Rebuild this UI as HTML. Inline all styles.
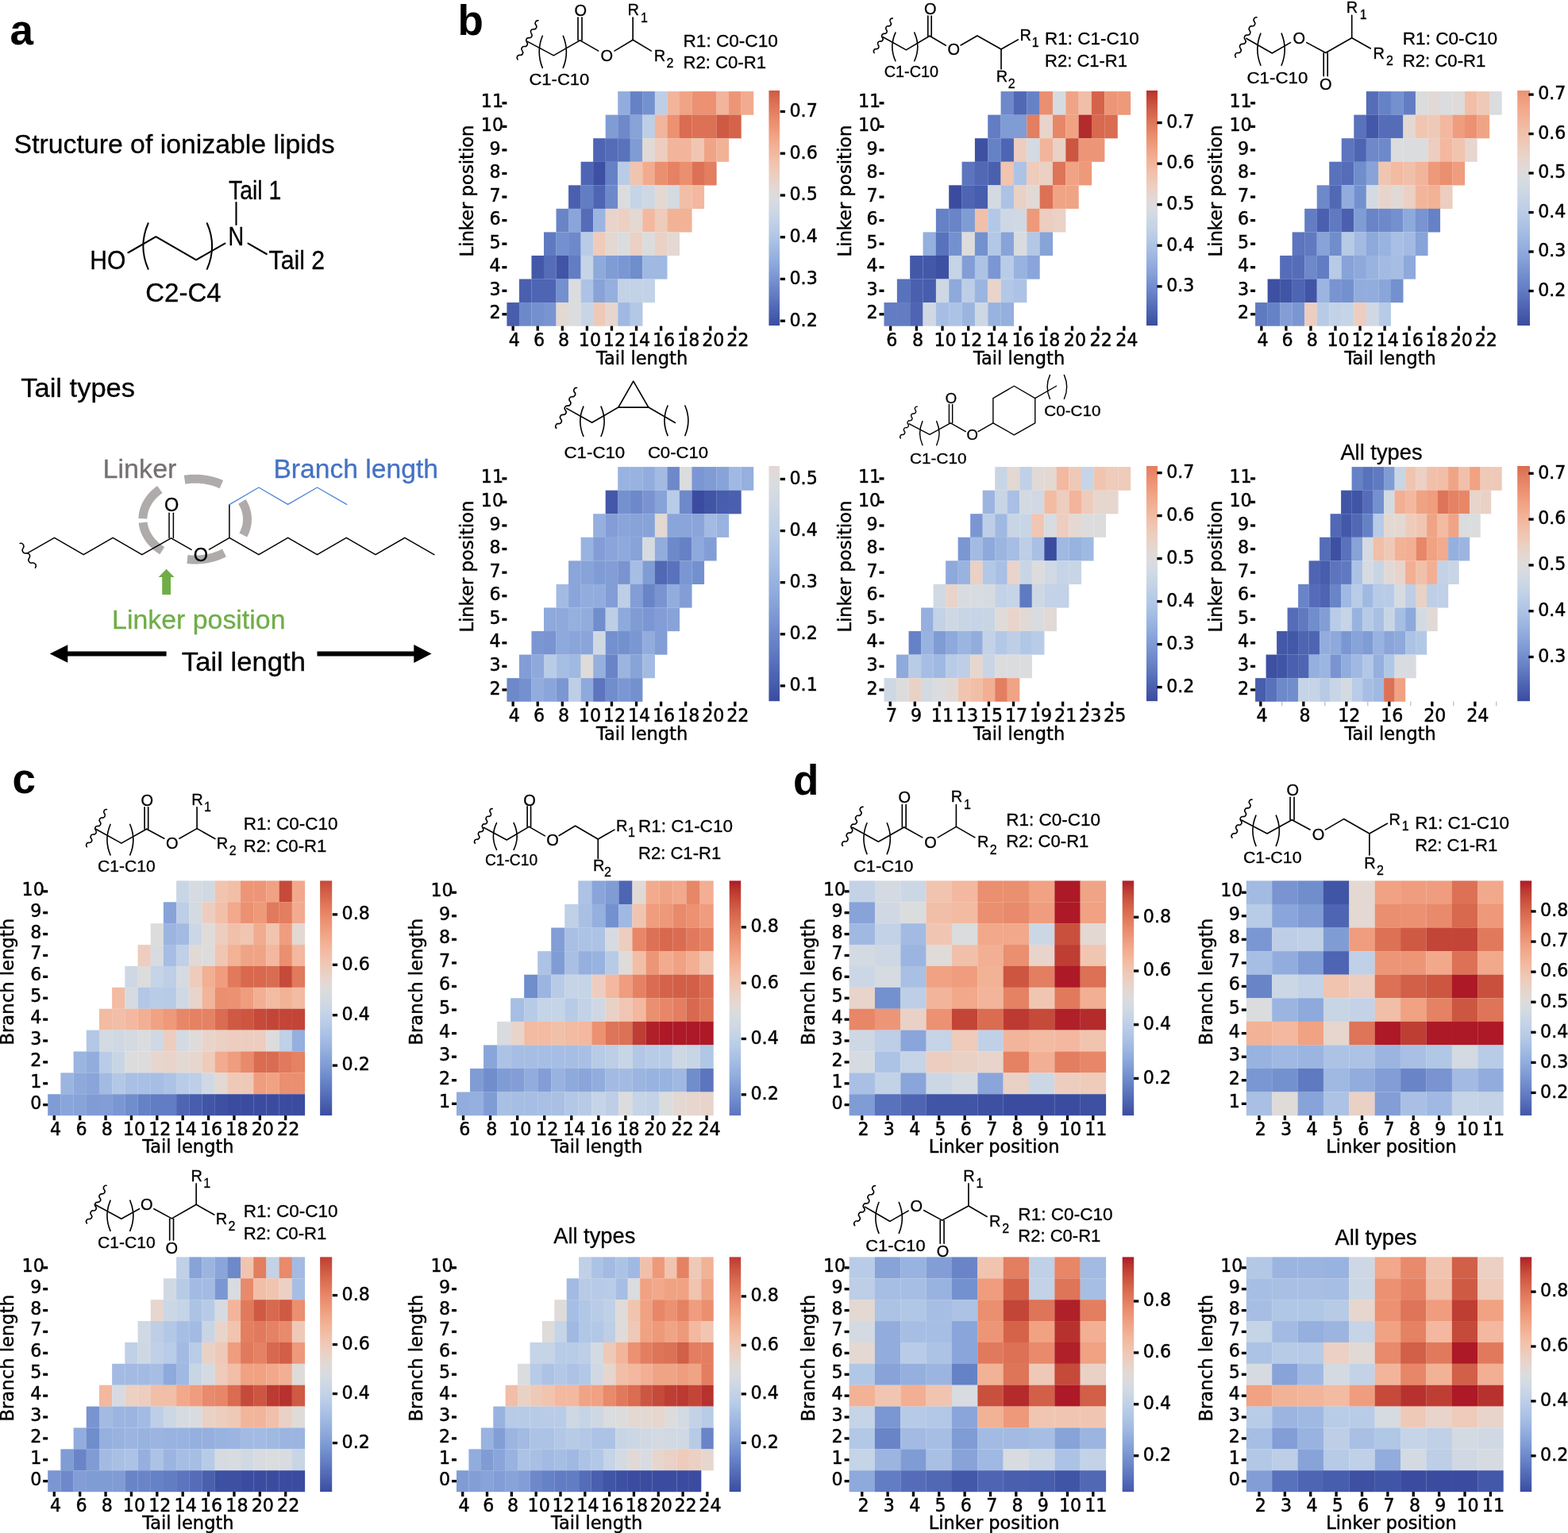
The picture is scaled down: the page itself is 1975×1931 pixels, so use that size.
<!DOCTYPE html>
<html lang="en"><head><meta charset="utf-8"><title>Ionizable lipid tail structure heatmaps</title>
<style>
html,body{margin:0;padding:0;background:#fff;}
body{width:1975px;height:1931px;overflow:hidden;}
svg{display:block;}
text{white-space:pre;}
.dj{stroke:#000;stroke-width:0.45px;}
.ls{stroke-width:0.3px;}
.st{fill:none;stroke:#000;stroke-width:1.5;stroke-linecap:round;stroke-linejoin:round;}
</style></head><body>
<svg width="1975" height="1931" viewBox="0 0 1975 1931">
<rect width="1975" height="1931" fill="#fff"/>
<g class="hm" id="b1">
<rect x="778.22" y="115.1" width="15.66" height="29.67" fill="#92addd"/>
<rect x="793.75" y="115.1" width="15.66" height="29.67" fill="#6682c6"/>
<rect x="809.28" y="115.1" width="15.66" height="29.67" fill="#7491cf"/>
<rect x="824.82" y="115.1" width="15.66" height="29.67" fill="#bdcee6"/>
<rect x="840.36" y="115.1" width="15.66" height="29.67" fill="#f2b59b"/>
<rect x="855.89" y="115.1" width="15.66" height="29.67" fill="#f0a486"/>
<rect x="871.42" y="115.1" width="15.66" height="29.67" fill="#ec9172"/>
<rect x="886.96" y="115.1" width="15.66" height="29.67" fill="#ec9172"/>
<rect x="902.5" y="115.1" width="15.66" height="29.67" fill="#f2b59b"/>
<rect x="918.03" y="115.1" width="15.66" height="29.67" fill="#ed9677"/>
<rect x="933.57" y="115.1" width="15.66" height="29.67" fill="#f2ab8e"/>
<rect x="762.68" y="144.65" width="15.66" height="29.67" fill="#809cd5"/>
<rect x="778.22" y="144.65" width="15.66" height="29.67" fill="#6e89ca"/>
<rect x="793.75" y="144.65" width="15.66" height="29.67" fill="#87a3d8"/>
<rect x="809.28" y="144.65" width="15.66" height="29.67" fill="#bdcee6"/>
<rect x="824.82" y="144.65" width="15.66" height="29.67" fill="#f2b59b"/>
<rect x="840.36" y="144.65" width="15.66" height="29.67" fill="#ec9172"/>
<rect x="855.89" y="144.65" width="15.66" height="29.67" fill="#da6c51"/>
<rect x="871.42" y="144.65" width="15.66" height="29.67" fill="#dc7155"/>
<rect x="886.96" y="144.65" width="15.66" height="29.67" fill="#dc7155"/>
<rect x="902.5" y="144.65" width="15.66" height="29.67" fill="#cf5a44"/>
<rect x="918.03" y="144.65" width="15.66" height="29.67" fill="#d5634a"/>
<rect x="747.14" y="174.2" width="15.66" height="29.67" fill="#4e65b3"/>
<rect x="762.68" y="174.2" width="15.66" height="29.67" fill="#556db9"/>
<rect x="778.22" y="174.2" width="15.66" height="29.67" fill="#5872bc"/>
<rect x="793.75" y="174.2" width="15.66" height="29.67" fill="#809cd5"/>
<rect x="809.28" y="174.2" width="15.66" height="29.67" fill="#e1d9d5"/>
<rect x="824.82" y="174.2" width="15.66" height="29.67" fill="#edcdbf"/>
<rect x="840.36" y="174.2" width="15.66" height="29.67" fill="#f2b59b"/>
<rect x="855.89" y="174.2" width="15.66" height="29.67" fill="#f2b59b"/>
<rect x="871.42" y="174.2" width="15.66" height="29.67" fill="#f0c6b2"/>
<rect x="886.96" y="174.2" width="15.66" height="29.67" fill="#f0a486"/>
<rect x="902.5" y="174.2" width="15.66" height="29.67" fill="#f2b296"/>
<rect x="731.61" y="203.75" width="15.66" height="29.67" fill="#4e65b3"/>
<rect x="747.14" y="203.75" width="15.66" height="29.67" fill="#3d50a2"/>
<rect x="762.68" y="203.75" width="15.66" height="29.67" fill="#6682c6"/>
<rect x="778.22" y="203.75" width="15.66" height="29.67" fill="#b9cce7"/>
<rect x="793.75" y="203.75" width="15.66" height="29.67" fill="#f1c4af"/>
<rect x="809.28" y="203.75" width="15.66" height="29.67" fill="#f2ab8e"/>
<rect x="824.82" y="203.75" width="15.66" height="29.67" fill="#ea8f6f"/>
<rect x="840.36" y="203.75" width="15.66" height="29.67" fill="#e58263"/>
<rect x="855.89" y="203.75" width="15.66" height="29.67" fill="#ea8f6f"/>
<rect x="871.42" y="203.75" width="15.66" height="29.67" fill="#dc7155"/>
<rect x="886.96" y="203.75" width="15.66" height="29.67" fill="#e37e60"/>
<rect x="716.08" y="233.3" width="15.66" height="29.67" fill="#4a60af"/>
<rect x="731.61" y="233.3" width="15.66" height="29.67" fill="#627dc3"/>
<rect x="747.14" y="233.3" width="15.66" height="29.67" fill="#4e65b3"/>
<rect x="762.68" y="233.3" width="15.66" height="29.67" fill="#6e89ca"/>
<rect x="778.22" y="233.3" width="15.66" height="29.67" fill="#dadcde"/>
<rect x="793.75" y="233.3" width="15.66" height="29.67" fill="#c5d4e6"/>
<rect x="809.28" y="233.3" width="15.66" height="29.67" fill="#ced8e4"/>
<rect x="824.82" y="233.3" width="15.66" height="29.67" fill="#e3d8d2"/>
<rect x="840.36" y="233.3" width="15.66" height="29.67" fill="#d3dae2"/>
<rect x="855.89" y="233.3" width="15.66" height="29.67" fill="#f1bea7"/>
<rect x="871.42" y="233.3" width="15.66" height="29.67" fill="#f3b89f"/>
<rect x="700.54" y="262.85" width="15.66" height="29.67" fill="#6985c8"/>
<rect x="716.08" y="262.85" width="15.66" height="29.67" fill="#8aa5da"/>
<rect x="731.61" y="262.85" width="15.66" height="29.67" fill="#556db9"/>
<rect x="747.14" y="262.85" width="15.66" height="29.67" fill="#9cb5e0"/>
<rect x="762.68" y="262.85" width="15.66" height="29.67" fill="#e8d4cb"/>
<rect x="778.22" y="262.85" width="15.66" height="29.67" fill="#ebd0c3"/>
<rect x="793.75" y="262.85" width="15.66" height="29.67" fill="#e3d8d2"/>
<rect x="809.28" y="262.85" width="15.66" height="29.67" fill="#f3b89f"/>
<rect x="824.82" y="262.85" width="15.66" height="29.67" fill="#eecbba"/>
<rect x="840.36" y="262.85" width="15.66" height="29.67" fill="#f2b296"/>
<rect x="855.89" y="262.85" width="15.66" height="29.67" fill="#f2b296"/>
<rect x="685" y="292.4" width="15.66" height="29.67" fill="#607ac1"/>
<rect x="700.54" y="292.4" width="15.66" height="29.67" fill="#7491cf"/>
<rect x="716.08" y="292.4" width="15.66" height="29.67" fill="#6e89ca"/>
<rect x="731.61" y="292.4" width="15.66" height="29.67" fill="#b9cce7"/>
<rect x="747.14" y="292.4" width="15.66" height="29.67" fill="#eecbba"/>
<rect x="762.68" y="292.4" width="15.66" height="29.67" fill="#e3d8d2"/>
<rect x="778.22" y="292.4" width="15.66" height="29.67" fill="#dadcde"/>
<rect x="793.75" y="292.4" width="15.66" height="29.67" fill="#ebd0c3"/>
<rect x="809.28" y="292.4" width="15.66" height="29.67" fill="#dadcde"/>
<rect x="824.82" y="292.4" width="15.66" height="29.67" fill="#e9d1c6"/>
<rect x="840.36" y="292.4" width="15.66" height="29.67" fill="#e3d8d2"/>
<rect x="669.47" y="321.95" width="15.66" height="29.67" fill="#4458a9"/>
<rect x="685" y="321.95" width="15.66" height="29.67" fill="#556db9"/>
<rect x="700.54" y="321.95" width="15.66" height="29.67" fill="#4155a6"/>
<rect x="716.08" y="321.95" width="15.66" height="29.67" fill="#627dc3"/>
<rect x="731.61" y="321.95" width="15.66" height="29.67" fill="#c5d4e6"/>
<rect x="747.14" y="321.95" width="15.66" height="29.67" fill="#8ea9db"/>
<rect x="762.68" y="321.95" width="15.66" height="29.67" fill="#809cd5"/>
<rect x="778.22" y="321.95" width="15.66" height="29.67" fill="#7b97d3"/>
<rect x="793.75" y="321.95" width="15.66" height="29.67" fill="#708dcc"/>
<rect x="809.28" y="321.95" width="15.66" height="29.67" fill="#a0b9e2"/>
<rect x="824.82" y="321.95" width="15.66" height="29.67" fill="#a0b9e2"/>
<rect x="653.93" y="351.5" width="15.66" height="29.67" fill="#4a60af"/>
<rect x="669.47" y="351.5" width="15.66" height="29.67" fill="#4e65b3"/>
<rect x="685" y="351.5" width="15.66" height="29.67" fill="#4e65b3"/>
<rect x="700.54" y="351.5" width="15.66" height="29.67" fill="#7491cf"/>
<rect x="716.08" y="351.5" width="15.66" height="29.67" fill="#dadcde"/>
<rect x="731.61" y="351.5" width="15.66" height="29.67" fill="#adc3e5"/>
<rect x="747.14" y="351.5" width="15.66" height="29.67" fill="#87a3d8"/>
<rect x="762.68" y="351.5" width="15.66" height="29.67" fill="#95afde"/>
<rect x="778.22" y="351.5" width="15.66" height="29.67" fill="#c3d2e6"/>
<rect x="793.75" y="351.5" width="15.66" height="29.67" fill="#c3d2e6"/>
<rect x="809.28" y="351.5" width="15.66" height="29.67" fill="#c3d2e6"/>
<rect x="638.4" y="381.05" width="15.66" height="29.67" fill="#475dad"/>
<rect x="653.93" y="381.05" width="15.66" height="29.67" fill="#6e89ca"/>
<rect x="669.47" y="381.05" width="15.66" height="29.67" fill="#7491cf"/>
<rect x="685" y="381.05" width="15.66" height="29.67" fill="#7994d1"/>
<rect x="700.54" y="381.05" width="15.66" height="29.67" fill="#e3d8d2"/>
<rect x="716.08" y="381.05" width="15.66" height="29.67" fill="#dadcde"/>
<rect x="731.61" y="381.05" width="15.66" height="29.67" fill="#c8d5e5"/>
<rect x="747.14" y="381.05" width="15.66" height="29.67" fill="#efc9b7"/>
<rect x="762.68" y="381.05" width="15.66" height="29.67" fill="#e6d6ce"/>
<rect x="778.22" y="381.05" width="15.66" height="29.67" fill="#a0b9e2"/>
<rect x="793.75" y="381.05" width="15.66" height="29.67" fill="#b3c8e6"/>
<linearGradient id="g_b1" x1="0" y1="0" x2="0" y2="1"><stop offset="0%" stop-color="#cf5a44"/><stop offset="4.17%" stop-color="#d96c51"/><stop offset="8.33%" stop-color="#e27c5e"/><stop offset="12.5%" stop-color="#e98c6c"/><stop offset="16.67%" stop-color="#ee997a"/><stop offset="20.83%" stop-color="#f1a88a"/><stop offset="25%" stop-color="#f2b499"/><stop offset="29.17%" stop-color="#f1bfa8"/><stop offset="33.33%" stop-color="#efc9b7"/><stop offset="37.5%" stop-color="#e9d1c5"/><stop offset="41.67%" stop-color="#e2d9d4"/><stop offset="45.83%" stop-color="#d9dcdf"/><stop offset="50%" stop-color="#d0d9e3"/><stop offset="54.17%" stop-color="#c6d4e6"/><stop offset="58.33%" stop-color="#bbcde7"/><stop offset="62.5%" stop-color="#b0c6e6"/><stop offset="66.67%" stop-color="#a3bbe2"/><stop offset="70.83%" stop-color="#96b0de"/><stop offset="75%" stop-color="#88a4d9"/><stop offset="79.17%" stop-color="#7b97d2"/><stop offset="83.33%" stop-color="#6e89ca"/><stop offset="87.5%" stop-color="#607bc2"/><stop offset="91.67%" stop-color="#536ab7"/><stop offset="95.83%" stop-color="#465cac"/><stop offset="100%" stop-color="#3b4ca0"/></linearGradient>
<rect x="968.4" y="114" width="13.6" height="296.1" fill="url(#g_b1)"/>
<rect x="982.7" y="138.85" width="6.3" height="3.3" fill="#000"/>
<text x="994.5" y="146.8" font-size="22.2" font-family="'DejaVu Sans', 'Liberation Sans', sans-serif" text-anchor="start" fill="#000" class="dj" >0.7</text>
<rect x="982.7" y="191.59" width="6.3" height="3.3" fill="#000"/>
<text x="994.5" y="199.54" font-size="22.2" font-family="'DejaVu Sans', 'Liberation Sans', sans-serif" text-anchor="start" fill="#000" class="dj" >0.6</text>
<rect x="982.7" y="244.33" width="6.3" height="3.3" fill="#000"/>
<text x="994.5" y="252.28" font-size="22.2" font-family="'DejaVu Sans', 'Liberation Sans', sans-serif" text-anchor="start" fill="#000" class="dj" >0.5</text>
<rect x="982.7" y="297.07" width="6.3" height="3.3" fill="#000"/>
<text x="994.5" y="305.02" font-size="22.2" font-family="'DejaVu Sans', 'Liberation Sans', sans-serif" text-anchor="start" fill="#000" class="dj" >0.4</text>
<rect x="982.7" y="349.81" width="6.3" height="3.3" fill="#000"/>
<text x="994.5" y="357.76" font-size="22.2" font-family="'DejaVu Sans', 'Liberation Sans', sans-serif" text-anchor="start" fill="#000" class="dj" >0.3</text>
<rect x="982.7" y="402.55" width="6.3" height="3.3" fill="#000"/>
<text x="994.5" y="410.5" font-size="22.2" font-family="'DejaVu Sans', 'Liberation Sans', sans-serif" text-anchor="start" fill="#000" class="dj" >0.2</text>
<rect x="644.52" y="410.6" width="3.3" height="6.0" fill="#000"/>
<text x="640.87" y="435.7" font-size="22.2" font-family="'DejaVu Sans', 'Liberation Sans', sans-serif" text-anchor="start" fill="#000" class="dj" >4</text>
<rect x="675.59" y="410.6" width="3.3" height="6.0" fill="#000"/>
<text x="671.94" y="435.7" font-size="22.2" font-family="'DejaVu Sans', 'Liberation Sans', sans-serif" text-anchor="start" fill="#000" class="dj" >6</text>
<rect x="706.66" y="410.6" width="3.3" height="6.0" fill="#000"/>
<text x="703.01" y="435.7" font-size="22.2" font-family="'DejaVu Sans', 'Liberation Sans', sans-serif" text-anchor="start" fill="#000" class="dj" >8</text>
<rect x="737.73" y="410.6" width="3.3" height="6.0" fill="#000"/>
<text x="728.78" y="435.7" font-size="22.2" font-family="'DejaVu Sans', 'Liberation Sans', sans-serif" text-anchor="start" fill="#000" class="dj" >10</text>
<rect x="768.8" y="410.6" width="3.3" height="6.0" fill="#000"/>
<text x="759.85" y="435.7" font-size="22.2" font-family="'DejaVu Sans', 'Liberation Sans', sans-serif" text-anchor="start" fill="#000" class="dj" >12</text>
<rect x="799.87" y="410.6" width="3.3" height="6.0" fill="#000"/>
<text x="790.92" y="435.7" font-size="22.2" font-family="'DejaVu Sans', 'Liberation Sans', sans-serif" text-anchor="start" fill="#000" class="dj" >14</text>
<rect x="830.94" y="410.6" width="3.3" height="6.0" fill="#000"/>
<text x="821.99" y="435.7" font-size="22.2" font-family="'DejaVu Sans', 'Liberation Sans', sans-serif" text-anchor="start" fill="#000" class="dj" >16</text>
<rect x="862.01" y="410.6" width="3.3" height="6.0" fill="#000"/>
<text x="853.06" y="435.7" font-size="22.2" font-family="'DejaVu Sans', 'Liberation Sans', sans-serif" text-anchor="start" fill="#000" class="dj" >18</text>
<rect x="893.08" y="410.6" width="3.3" height="6.0" fill="#000"/>
<text x="884.13" y="435.7" font-size="22.2" font-family="'DejaVu Sans', 'Liberation Sans', sans-serif" text-anchor="start" fill="#000" class="dj" >20</text>
<rect x="924.15" y="410.6" width="3.3" height="6.0" fill="#000"/>
<text x="915.2" y="435.7" font-size="22.2" font-family="'DejaVu Sans', 'Liberation Sans', sans-serif" text-anchor="start" fill="#000" class="dj" >22</text>
<rect x="632.4" y="128.22" width="6.0" height="3.3" fill="#000"/>
<text x="605.81" y="135.48" font-size="22.2" font-family="'DejaVu Sans', 'Liberation Sans', sans-serif" text-anchor="start" fill="#000" class="dj" >11</text>
<rect x="632.4" y="157.78" width="6.0" height="3.3" fill="#000"/>
<text x="605.81" y="165.03" font-size="22.2" font-family="'DejaVu Sans', 'Liberation Sans', sans-serif" text-anchor="start" fill="#000" class="dj" >10</text>
<rect x="632.4" y="187.32" width="6.0" height="3.3" fill="#000"/>
<text x="616.41" y="194.58" font-size="22.2" font-family="'DejaVu Sans', 'Liberation Sans', sans-serif" text-anchor="start" fill="#000" class="dj" >9</text>
<rect x="632.4" y="216.87" width="6.0" height="3.3" fill="#000"/>
<text x="616.41" y="224.13" font-size="22.2" font-family="'DejaVu Sans', 'Liberation Sans', sans-serif" text-anchor="start" fill="#000" class="dj" >8</text>
<rect x="632.4" y="246.42" width="6.0" height="3.3" fill="#000"/>
<text x="616.41" y="253.68" font-size="22.2" font-family="'DejaVu Sans', 'Liberation Sans', sans-serif" text-anchor="start" fill="#000" class="dj" >7</text>
<rect x="632.4" y="275.98" width="6.0" height="3.3" fill="#000"/>
<text x="616.41" y="283.23" font-size="22.2" font-family="'DejaVu Sans', 'Liberation Sans', sans-serif" text-anchor="start" fill="#000" class="dj" >6</text>
<rect x="632.4" y="305.53" width="6.0" height="3.3" fill="#000"/>
<text x="616.41" y="312.78" font-size="22.2" font-family="'DejaVu Sans', 'Liberation Sans', sans-serif" text-anchor="start" fill="#000" class="dj" >5</text>
<rect x="632.4" y="335.08" width="6.0" height="3.3" fill="#000"/>
<text x="616.41" y="342.33" font-size="22.2" font-family="'DejaVu Sans', 'Liberation Sans', sans-serif" text-anchor="start" fill="#000" class="dj" >4</text>
<rect x="632.4" y="364.62" width="6.0" height="3.3" fill="#000"/>
<text x="616.41" y="371.88" font-size="22.2" font-family="'DejaVu Sans', 'Liberation Sans', sans-serif" text-anchor="start" fill="#000" class="dj" >3</text>
<rect x="632.4" y="394.18" width="6.0" height="3.3" fill="#000"/>
<text x="616.41" y="401.43" font-size="22.2" font-family="'DejaVu Sans', 'Liberation Sans', sans-serif" text-anchor="start" fill="#000" class="dj" >2</text>
<text x="750.97" y="459.2" font-size="22.5" font-family="'DejaVu Sans', 'Liberation Sans', sans-serif" text-anchor="start" fill="#000" class="dj" >Tail length</text>
<text transform="translate(596.4,323.54) rotate(-90)" font-size="22.7" font-family="'DejaVu Sans', 'Liberation Sans', sans-serif" fill="#000" class="dj">Linker position</text>
</g>
<g class="hm" id="b2">
<rect x="1260.58" y="115.1" width="16.46" height="29.67" fill="#6e89ca"/>
<rect x="1276.92" y="115.1" width="16.46" height="29.67" fill="#5168b5"/>
<rect x="1293.26" y="115.1" width="16.46" height="29.67" fill="#6682c6"/>
<rect x="1309.61" y="115.1" width="16.46" height="29.67" fill="#ea8f6f"/>
<rect x="1325.95" y="115.1" width="16.46" height="29.67" fill="#d6dbe1"/>
<rect x="1342.29" y="115.1" width="16.46" height="29.67" fill="#f0a486"/>
<rect x="1358.63" y="115.1" width="16.46" height="29.67" fill="#f1bea7"/>
<rect x="1374.97" y="115.1" width="16.46" height="29.67" fill="#d5634a"/>
<rect x="1391.32" y="115.1" width="16.46" height="29.67" fill="#ed9677"/>
<rect x="1407.66" y="115.1" width="16.46" height="29.67" fill="#ee997a"/>
<rect x="1244.24" y="144.65" width="16.46" height="29.67" fill="#627dc3"/>
<rect x="1260.58" y="144.65" width="16.46" height="29.67" fill="#809cd5"/>
<rect x="1276.92" y="144.65" width="16.46" height="29.67" fill="#809cd5"/>
<rect x="1293.26" y="144.65" width="16.46" height="29.67" fill="#e37e60"/>
<rect x="1309.61" y="144.65" width="16.46" height="29.67" fill="#e8d4cb"/>
<rect x="1325.95" y="144.65" width="16.46" height="29.67" fill="#e78768"/>
<rect x="1342.29" y="144.65" width="16.46" height="29.67" fill="#f0a283"/>
<rect x="1358.63" y="144.65" width="16.46" height="29.67" fill="#b42b2c"/>
<rect x="1374.97" y="144.65" width="16.46" height="29.67" fill="#d8694e"/>
<rect x="1391.32" y="144.65" width="16.46" height="29.67" fill="#da6c51"/>
<rect x="1227.89" y="174.2" width="16.46" height="29.67" fill="#3d50a2"/>
<rect x="1244.24" y="174.2" width="16.46" height="29.67" fill="#6682c6"/>
<rect x="1260.58" y="174.2" width="16.46" height="29.67" fill="#4e65b3"/>
<rect x="1276.92" y="174.2" width="16.46" height="29.67" fill="#edcdbf"/>
<rect x="1293.26" y="174.2" width="16.46" height="29.67" fill="#d3dae2"/>
<rect x="1309.61" y="174.2" width="16.46" height="29.67" fill="#f2b59b"/>
<rect x="1325.95" y="174.2" width="16.46" height="29.67" fill="#e9d1c6"/>
<rect x="1342.29" y="174.2" width="16.46" height="29.67" fill="#cd5641"/>
<rect x="1358.63" y="174.2" width="16.46" height="29.67" fill="#ed9677"/>
<rect x="1374.97" y="174.2" width="16.46" height="29.67" fill="#ed9677"/>
<rect x="1211.55" y="203.75" width="16.46" height="29.67" fill="#5c75be"/>
<rect x="1227.89" y="203.75" width="16.46" height="29.67" fill="#5168b5"/>
<rect x="1244.24" y="203.75" width="16.46" height="29.67" fill="#4a60af"/>
<rect x="1260.58" y="203.75" width="16.46" height="29.67" fill="#f1c4af"/>
<rect x="1276.92" y="203.75" width="16.46" height="29.67" fill="#adc3e5"/>
<rect x="1293.26" y="203.75" width="16.46" height="29.67" fill="#eecbba"/>
<rect x="1309.61" y="203.75" width="16.46" height="29.67" fill="#ebd0c3"/>
<rect x="1325.95" y="203.75" width="16.46" height="29.67" fill="#de7458"/>
<rect x="1342.29" y="203.75" width="16.46" height="29.67" fill="#f0a283"/>
<rect x="1358.63" y="203.75" width="16.46" height="29.67" fill="#ee997a"/>
<rect x="1195.21" y="233.3" width="16.46" height="29.67" fill="#3b4ca0"/>
<rect x="1211.55" y="233.3" width="16.46" height="29.67" fill="#4e65b3"/>
<rect x="1227.89" y="233.3" width="16.46" height="29.67" fill="#475dad"/>
<rect x="1244.24" y="233.3" width="16.46" height="29.67" fill="#d3dae2"/>
<rect x="1260.58" y="233.3" width="16.46" height="29.67" fill="#adc3e5"/>
<rect x="1276.92" y="233.3" width="16.46" height="29.67" fill="#e9d1c6"/>
<rect x="1293.26" y="233.3" width="16.46" height="29.67" fill="#e1d9d5"/>
<rect x="1309.61" y="233.3" width="16.46" height="29.67" fill="#dc7155"/>
<rect x="1325.95" y="233.3" width="16.46" height="29.67" fill="#f0a486"/>
<rect x="1342.29" y="233.3" width="16.46" height="29.67" fill="#f0a486"/>
<rect x="1178.87" y="262.85" width="16.46" height="29.67" fill="#6682c6"/>
<rect x="1195.21" y="262.85" width="16.46" height="29.67" fill="#6985c8"/>
<rect x="1211.55" y="262.85" width="16.46" height="29.67" fill="#809cd5"/>
<rect x="1227.89" y="262.85" width="16.46" height="29.67" fill="#f1c0aa"/>
<rect x="1244.24" y="262.85" width="16.46" height="29.67" fill="#b3c8e6"/>
<rect x="1260.58" y="262.85" width="16.46" height="29.67" fill="#ced8e4"/>
<rect x="1276.92" y="262.85" width="16.46" height="29.67" fill="#d0d9e3"/>
<rect x="1293.26" y="262.85" width="16.46" height="29.67" fill="#ee997a"/>
<rect x="1309.61" y="262.85" width="16.46" height="29.67" fill="#edcdbf"/>
<rect x="1325.95" y="262.85" width="16.46" height="29.67" fill="#e9d1c6"/>
<rect x="1162.53" y="292.4" width="16.46" height="29.67" fill="#95afde"/>
<rect x="1178.87" y="292.4" width="16.46" height="29.67" fill="#5872bc"/>
<rect x="1195.21" y="292.4" width="16.46" height="29.67" fill="#7491cf"/>
<rect x="1211.55" y="292.4" width="16.46" height="29.67" fill="#dddcdc"/>
<rect x="1227.89" y="292.4" width="16.46" height="29.67" fill="#7491cf"/>
<rect x="1244.24" y="292.4" width="16.46" height="29.67" fill="#b3c8e6"/>
<rect x="1260.58" y="292.4" width="16.46" height="29.67" fill="#87a3d8"/>
<rect x="1276.92" y="292.4" width="16.46" height="29.67" fill="#d8dce0"/>
<rect x="1293.26" y="292.4" width="16.46" height="29.67" fill="#b3c8e6"/>
<rect x="1309.61" y="292.4" width="16.46" height="29.67" fill="#87a3d8"/>
<rect x="1146.18" y="321.95" width="16.46" height="29.67" fill="#4458a9"/>
<rect x="1162.53" y="321.95" width="16.46" height="29.67" fill="#4458a9"/>
<rect x="1178.87" y="321.95" width="16.46" height="29.67" fill="#3d50a2"/>
<rect x="1195.21" y="321.95" width="16.46" height="29.67" fill="#c5d4e6"/>
<rect x="1211.55" y="321.95" width="16.46" height="29.67" fill="#839ed6"/>
<rect x="1227.89" y="321.95" width="16.46" height="29.67" fill="#adc3e5"/>
<rect x="1244.24" y="321.95" width="16.46" height="29.67" fill="#7b97d3"/>
<rect x="1260.58" y="321.95" width="16.46" height="29.67" fill="#b9cce7"/>
<rect x="1276.92" y="321.95" width="16.46" height="29.67" fill="#99b3e0"/>
<rect x="1293.26" y="321.95" width="16.46" height="29.67" fill="#8aa5da"/>
<rect x="1129.84" y="351.5" width="16.46" height="29.67" fill="#5872bc"/>
<rect x="1146.18" y="351.5" width="16.46" height="29.67" fill="#4a60af"/>
<rect x="1162.53" y="351.5" width="16.46" height="29.67" fill="#475dad"/>
<rect x="1178.87" y="351.5" width="16.46" height="29.67" fill="#ced8e4"/>
<rect x="1195.21" y="351.5" width="16.46" height="29.67" fill="#8ea9db"/>
<rect x="1211.55" y="351.5" width="16.46" height="29.67" fill="#bdcee6"/>
<rect x="1227.89" y="351.5" width="16.46" height="29.67" fill="#9cb5e0"/>
<rect x="1244.24" y="351.5" width="16.46" height="29.67" fill="#e8d4cb"/>
<rect x="1260.58" y="351.5" width="16.46" height="29.67" fill="#b3c8e6"/>
<rect x="1276.92" y="351.5" width="16.46" height="29.67" fill="#adc3e5"/>
<rect x="1113.5" y="381.05" width="16.46" height="29.67" fill="#627dc3"/>
<rect x="1129.84" y="381.05" width="16.46" height="29.67" fill="#627dc3"/>
<rect x="1146.18" y="381.05" width="16.46" height="29.67" fill="#4e65b3"/>
<rect x="1162.53" y="381.05" width="16.46" height="29.67" fill="#d0d9e3"/>
<rect x="1178.87" y="381.05" width="16.46" height="29.67" fill="#a7bee4"/>
<rect x="1195.21" y="381.05" width="16.46" height="29.67" fill="#adc3e5"/>
<rect x="1211.55" y="381.05" width="16.46" height="29.67" fill="#9cb5e0"/>
<rect x="1227.89" y="381.05" width="16.46" height="29.67" fill="#ced8e4"/>
<rect x="1244.24" y="381.05" width="16.46" height="29.67" fill="#99b3e0"/>
<rect x="1260.58" y="381.05" width="16.46" height="29.67" fill="#95afde"/>
<linearGradient id="g_b2" x1="0" y1="0" x2="0" y2="1"><stop offset="0%" stop-color="#b7332e"/><stop offset="4.17%" stop-color="#c54b3a"/><stop offset="8.33%" stop-color="#d26048"/><stop offset="12.5%" stop-color="#dc7256"/><stop offset="16.67%" stop-color="#e68364"/><stop offset="20.83%" stop-color="#ec9373"/><stop offset="25%" stop-color="#f0a384"/><stop offset="29.17%" stop-color="#f2b094"/><stop offset="33.33%" stop-color="#f2bca4"/><stop offset="37.5%" stop-color="#efc7b4"/><stop offset="41.67%" stop-color="#ead1c4"/><stop offset="45.83%" stop-color="#e2d9d4"/><stop offset="50%" stop-color="#d9dcdf"/><stop offset="54.17%" stop-color="#cfd8e4"/><stop offset="58.33%" stop-color="#c4d3e6"/><stop offset="62.5%" stop-color="#b8cbe7"/><stop offset="66.67%" stop-color="#abc1e4"/><stop offset="70.83%" stop-color="#9db6e1"/><stop offset="75%" stop-color="#8faadc"/><stop offset="79.17%" stop-color="#809dd6"/><stop offset="83.33%" stop-color="#718dcd"/><stop offset="87.5%" stop-color="#637ec3"/><stop offset="91.67%" stop-color="#556db9"/><stop offset="95.83%" stop-color="#475dad"/><stop offset="100%" stop-color="#3b4ca0"/></linearGradient>
<rect x="1444" y="114" width="14" height="296.1" fill="url(#g_b2)"/>
<rect x="1457.4" y="152.95" width="6.3" height="3.3" fill="#000"/>
<text x="1469.2" y="160.9" font-size="22.2" font-family="'DejaVu Sans', 'Liberation Sans', sans-serif" text-anchor="start" fill="#000" class="dj" >0.7</text>
<rect x="1457.4" y="204.5" width="6.3" height="3.3" fill="#000"/>
<text x="1469.2" y="212.45" font-size="22.2" font-family="'DejaVu Sans', 'Liberation Sans', sans-serif" text-anchor="start" fill="#000" class="dj" >0.6</text>
<rect x="1457.4" y="256.05" width="6.3" height="3.3" fill="#000"/>
<text x="1469.2" y="264" font-size="22.2" font-family="'DejaVu Sans', 'Liberation Sans', sans-serif" text-anchor="start" fill="#000" class="dj" >0.5</text>
<rect x="1457.4" y="307.6" width="6.3" height="3.3" fill="#000"/>
<text x="1469.2" y="315.55" font-size="22.2" font-family="'DejaVu Sans', 'Liberation Sans', sans-serif" text-anchor="start" fill="#000" class="dj" >0.4</text>
<rect x="1457.4" y="359.15" width="6.3" height="3.3" fill="#000"/>
<text x="1469.2" y="367.1" font-size="22.2" font-family="'DejaVu Sans', 'Liberation Sans', sans-serif" text-anchor="start" fill="#000" class="dj" >0.3</text>
<rect x="1120.02" y="410.6" width="3.3" height="6.0" fill="#000"/>
<text x="1116.37" y="435.7" font-size="22.2" font-family="'DejaVu Sans', 'Liberation Sans', sans-serif" text-anchor="start" fill="#000" class="dj" >6</text>
<rect x="1152.71" y="410.6" width="3.3" height="6.0" fill="#000"/>
<text x="1149.06" y="435.7" font-size="22.2" font-family="'DejaVu Sans', 'Liberation Sans', sans-serif" text-anchor="start" fill="#000" class="dj" >8</text>
<rect x="1185.39" y="410.6" width="3.3" height="6.0" fill="#000"/>
<text x="1176.45" y="435.7" font-size="22.2" font-family="'DejaVu Sans', 'Liberation Sans', sans-serif" text-anchor="start" fill="#000" class="dj" >10</text>
<rect x="1218.07" y="410.6" width="3.3" height="6.0" fill="#000"/>
<text x="1209.13" y="435.7" font-size="22.2" font-family="'DejaVu Sans', 'Liberation Sans', sans-serif" text-anchor="start" fill="#000" class="dj" >12</text>
<rect x="1250.76" y="410.6" width="3.3" height="6.0" fill="#000"/>
<text x="1241.81" y="435.7" font-size="22.2" font-family="'DejaVu Sans', 'Liberation Sans', sans-serif" text-anchor="start" fill="#000" class="dj" >14</text>
<rect x="1283.44" y="410.6" width="3.3" height="6.0" fill="#000"/>
<text x="1274.5" y="435.7" font-size="22.2" font-family="'DejaVu Sans', 'Liberation Sans', sans-serif" text-anchor="start" fill="#000" class="dj" >16</text>
<rect x="1316.13" y="410.6" width="3.3" height="6.0" fill="#000"/>
<text x="1307.18" y="435.7" font-size="22.2" font-family="'DejaVu Sans', 'Liberation Sans', sans-serif" text-anchor="start" fill="#000" class="dj" >18</text>
<rect x="1348.81" y="410.6" width="3.3" height="6.0" fill="#000"/>
<text x="1339.87" y="435.7" font-size="22.2" font-family="'DejaVu Sans', 'Liberation Sans', sans-serif" text-anchor="start" fill="#000" class="dj" >20</text>
<rect x="1381.49" y="410.6" width="3.3" height="6.0" fill="#000"/>
<text x="1372.55" y="435.7" font-size="22.2" font-family="'DejaVu Sans', 'Liberation Sans', sans-serif" text-anchor="start" fill="#000" class="dj" >22</text>
<rect x="1414.18" y="410.6" width="3.3" height="6.0" fill="#000"/>
<text x="1405.24" y="435.7" font-size="22.2" font-family="'DejaVu Sans', 'Liberation Sans', sans-serif" text-anchor="start" fill="#000" class="dj" >24</text>
<rect x="1107.5" y="128.22" width="6.0" height="3.3" fill="#000"/>
<text x="1080.91" y="135.48" font-size="22.2" font-family="'DejaVu Sans', 'Liberation Sans', sans-serif" text-anchor="start" fill="#000" class="dj" >11</text>
<rect x="1107.5" y="157.78" width="6.0" height="3.3" fill="#000"/>
<text x="1080.91" y="165.03" font-size="22.2" font-family="'DejaVu Sans', 'Liberation Sans', sans-serif" text-anchor="start" fill="#000" class="dj" >10</text>
<rect x="1107.5" y="187.32" width="6.0" height="3.3" fill="#000"/>
<text x="1091.51" y="194.58" font-size="22.2" font-family="'DejaVu Sans', 'Liberation Sans', sans-serif" text-anchor="start" fill="#000" class="dj" >9</text>
<rect x="1107.5" y="216.87" width="6.0" height="3.3" fill="#000"/>
<text x="1091.51" y="224.13" font-size="22.2" font-family="'DejaVu Sans', 'Liberation Sans', sans-serif" text-anchor="start" fill="#000" class="dj" >8</text>
<rect x="1107.5" y="246.42" width="6.0" height="3.3" fill="#000"/>
<text x="1091.51" y="253.68" font-size="22.2" font-family="'DejaVu Sans', 'Liberation Sans', sans-serif" text-anchor="start" fill="#000" class="dj" >7</text>
<rect x="1107.5" y="275.98" width="6.0" height="3.3" fill="#000"/>
<text x="1091.51" y="283.23" font-size="22.2" font-family="'DejaVu Sans', 'Liberation Sans', sans-serif" text-anchor="start" fill="#000" class="dj" >6</text>
<rect x="1107.5" y="305.53" width="6.0" height="3.3" fill="#000"/>
<text x="1091.51" y="312.78" font-size="22.2" font-family="'DejaVu Sans', 'Liberation Sans', sans-serif" text-anchor="start" fill="#000" class="dj" >5</text>
<rect x="1107.5" y="335.08" width="6.0" height="3.3" fill="#000"/>
<text x="1091.51" y="342.33" font-size="22.2" font-family="'DejaVu Sans', 'Liberation Sans', sans-serif" text-anchor="start" fill="#000" class="dj" >4</text>
<rect x="1107.5" y="364.62" width="6.0" height="3.3" fill="#000"/>
<text x="1091.51" y="371.88" font-size="22.2" font-family="'DejaVu Sans', 'Liberation Sans', sans-serif" text-anchor="start" fill="#000" class="dj" >3</text>
<rect x="1107.5" y="394.18" width="6.0" height="3.3" fill="#000"/>
<text x="1091.51" y="401.43" font-size="22.2" font-family="'DejaVu Sans', 'Liberation Sans', sans-serif" text-anchor="start" fill="#000" class="dj" >2</text>
<text x="1225.97" y="459.2" font-size="22.5" font-family="'DejaVu Sans', 'Liberation Sans', sans-serif" text-anchor="start" fill="#000" class="dj" >Tail length</text>
<text transform="translate(1071.5,323.54) rotate(-90)" font-size="22.7" font-family="'DejaVu Sans', 'Liberation Sans', sans-serif" fill="#000" class="dj">Linker position</text>
</g>
<g class="hm" id="b3">
<rect x="1720.82" y="115.1" width="15.64" height="29.67" fill="#556db9"/>
<rect x="1736.35" y="115.1" width="15.64" height="29.67" fill="#6682c6"/>
<rect x="1751.88" y="115.1" width="15.64" height="29.67" fill="#7491cf"/>
<rect x="1767.4" y="115.1" width="15.64" height="29.67" fill="#627dc3"/>
<rect x="1782.92" y="115.1" width="15.64" height="29.67" fill="#dadcde"/>
<rect x="1798.45" y="115.1" width="15.64" height="29.67" fill="#e1d9d5"/>
<rect x="1813.97" y="115.1" width="15.64" height="29.67" fill="#dadcde"/>
<rect x="1829.5" y="115.1" width="15.64" height="29.67" fill="#dfdbd9"/>
<rect x="1845.02" y="115.1" width="15.64" height="29.67" fill="#f1bea7"/>
<rect x="1860.55" y="115.1" width="15.64" height="29.67" fill="#efc9b7"/>
<rect x="1876.07" y="115.1" width="15.64" height="29.67" fill="#dadcde"/>
<rect x="1705.3" y="144.65" width="15.64" height="29.67" fill="#5872bc"/>
<rect x="1720.82" y="144.65" width="15.64" height="29.67" fill="#4458a9"/>
<rect x="1736.35" y="144.65" width="15.64" height="29.67" fill="#556db9"/>
<rect x="1751.88" y="144.65" width="15.64" height="29.67" fill="#556db9"/>
<rect x="1767.4" y="144.65" width="15.64" height="29.67" fill="#e3d8d2"/>
<rect x="1782.92" y="144.65" width="15.64" height="29.67" fill="#f0c6b2"/>
<rect x="1798.45" y="144.65" width="15.64" height="29.67" fill="#efc9b7"/>
<rect x="1813.97" y="144.65" width="15.64" height="29.67" fill="#f3b89f"/>
<rect x="1829.5" y="144.65" width="15.64" height="29.67" fill="#ef9d7e"/>
<rect x="1845.02" y="144.65" width="15.64" height="29.67" fill="#ec9172"/>
<rect x="1860.55" y="144.65" width="15.64" height="29.67" fill="#f0a486"/>
<rect x="1689.77" y="174.2" width="15.64" height="29.67" fill="#5c75be"/>
<rect x="1705.3" y="174.2" width="15.64" height="29.67" fill="#4e65b3"/>
<rect x="1720.82" y="174.2" width="15.64" height="29.67" fill="#6e89ca"/>
<rect x="1736.35" y="174.2" width="15.64" height="29.67" fill="#6e89ca"/>
<rect x="1751.88" y="174.2" width="15.64" height="29.67" fill="#dadcde"/>
<rect x="1767.4" y="174.2" width="15.64" height="29.67" fill="#dadcde"/>
<rect x="1782.92" y="174.2" width="15.64" height="29.67" fill="#dddcdc"/>
<rect x="1798.45" y="174.2" width="15.64" height="29.67" fill="#edcdbf"/>
<rect x="1813.97" y="174.2" width="15.64" height="29.67" fill="#f3b89f"/>
<rect x="1829.5" y="174.2" width="15.64" height="29.67" fill="#f1c4af"/>
<rect x="1845.02" y="174.2" width="15.64" height="29.67" fill="#e6d6ce"/>
<rect x="1674.25" y="203.75" width="15.64" height="29.67" fill="#5872bc"/>
<rect x="1689.77" y="203.75" width="15.64" height="29.67" fill="#556db9"/>
<rect x="1705.3" y="203.75" width="15.64" height="29.67" fill="#708dcc"/>
<rect x="1720.82" y="203.75" width="15.64" height="29.67" fill="#87a3d8"/>
<rect x="1736.35" y="203.75" width="15.64" height="29.67" fill="#f0c6b2"/>
<rect x="1751.88" y="203.75" width="15.64" height="29.67" fill="#f2bba2"/>
<rect x="1767.4" y="203.75" width="15.64" height="29.67" fill="#f1c0aa"/>
<rect x="1782.92" y="203.75" width="15.64" height="29.67" fill="#f2b59b"/>
<rect x="1798.45" y="203.75" width="15.64" height="29.67" fill="#ee997a"/>
<rect x="1813.97" y="203.75" width="15.64" height="29.67" fill="#ea8f6f"/>
<rect x="1829.5" y="203.75" width="15.64" height="29.67" fill="#ef9d7e"/>
<rect x="1658.72" y="233.3" width="15.64" height="29.67" fill="#6e89ca"/>
<rect x="1674.25" y="233.3" width="15.64" height="29.67" fill="#5168b5"/>
<rect x="1689.77" y="233.3" width="15.64" height="29.67" fill="#92addd"/>
<rect x="1705.3" y="233.3" width="15.64" height="29.67" fill="#7491cf"/>
<rect x="1720.82" y="233.3" width="15.64" height="29.67" fill="#d3dae2"/>
<rect x="1736.35" y="233.3" width="15.64" height="29.67" fill="#e8d4cb"/>
<rect x="1751.88" y="233.3" width="15.64" height="29.67" fill="#e1d9d5"/>
<rect x="1767.4" y="233.3" width="15.64" height="29.67" fill="#ebd0c3"/>
<rect x="1782.92" y="233.3" width="15.64" height="29.67" fill="#f2b59b"/>
<rect x="1798.45" y="233.3" width="15.64" height="29.67" fill="#f2b296"/>
<rect x="1813.97" y="233.3" width="15.64" height="29.67" fill="#edcdbf"/>
<rect x="1643.2" y="262.85" width="15.64" height="29.67" fill="#627dc3"/>
<rect x="1658.72" y="262.85" width="15.64" height="29.67" fill="#4a60af"/>
<rect x="1674.25" y="262.85" width="15.64" height="29.67" fill="#607ac1"/>
<rect x="1689.77" y="262.85" width="15.64" height="29.67" fill="#4a60af"/>
<rect x="1705.3" y="262.85" width="15.64" height="29.67" fill="#809cd5"/>
<rect x="1720.82" y="262.85" width="15.64" height="29.67" fill="#6985c8"/>
<rect x="1736.35" y="262.85" width="15.64" height="29.67" fill="#6e89ca"/>
<rect x="1751.88" y="262.85" width="15.64" height="29.67" fill="#7491cf"/>
<rect x="1767.4" y="262.85" width="15.64" height="29.67" fill="#8ea9db"/>
<rect x="1782.92" y="262.85" width="15.64" height="29.67" fill="#7994d1"/>
<rect x="1798.45" y="262.85" width="15.64" height="29.67" fill="#6682c6"/>
<rect x="1627.67" y="292.4" width="15.64" height="29.67" fill="#5c75be"/>
<rect x="1643.2" y="292.4" width="15.64" height="29.67" fill="#607ac1"/>
<rect x="1658.72" y="292.4" width="15.64" height="29.67" fill="#87a3d8"/>
<rect x="1674.25" y="292.4" width="15.64" height="29.67" fill="#708dcc"/>
<rect x="1689.77" y="292.4" width="15.64" height="29.67" fill="#b7cbe7"/>
<rect x="1705.3" y="292.4" width="15.64" height="29.67" fill="#a3bbe2"/>
<rect x="1720.82" y="292.4" width="15.64" height="29.67" fill="#8ea9db"/>
<rect x="1736.35" y="292.4" width="15.64" height="29.67" fill="#99b3e0"/>
<rect x="1751.88" y="292.4" width="15.64" height="29.67" fill="#a9c0e4"/>
<rect x="1767.4" y="292.4" width="15.64" height="29.67" fill="#a3bbe2"/>
<rect x="1782.92" y="292.4" width="15.64" height="29.67" fill="#87a3d8"/>
<rect x="1612.15" y="321.95" width="15.64" height="29.67" fill="#556db9"/>
<rect x="1627.67" y="321.95" width="15.64" height="29.67" fill="#556db9"/>
<rect x="1643.2" y="321.95" width="15.64" height="29.67" fill="#6e89ca"/>
<rect x="1658.72" y="321.95" width="15.64" height="29.67" fill="#627dc3"/>
<rect x="1674.25" y="321.95" width="15.64" height="29.67" fill="#b7cbe7"/>
<rect x="1689.77" y="321.95" width="15.64" height="29.67" fill="#87a3d8"/>
<rect x="1705.3" y="321.95" width="15.64" height="29.67" fill="#8ea9db"/>
<rect x="1720.82" y="321.95" width="15.64" height="29.67" fill="#99b3e0"/>
<rect x="1736.35" y="321.95" width="15.64" height="29.67" fill="#a3bbe2"/>
<rect x="1751.88" y="321.95" width="15.64" height="29.67" fill="#a7bee4"/>
<rect x="1767.4" y="321.95" width="15.64" height="29.67" fill="#8ea9db"/>
<rect x="1596.62" y="351.5" width="15.64" height="29.67" fill="#3d50a2"/>
<rect x="1612.15" y="351.5" width="15.64" height="29.67" fill="#4155a6"/>
<rect x="1627.67" y="351.5" width="15.64" height="29.67" fill="#4e65b3"/>
<rect x="1643.2" y="351.5" width="15.64" height="29.67" fill="#4155a6"/>
<rect x="1658.72" y="351.5" width="15.64" height="29.67" fill="#9cb5e0"/>
<rect x="1674.25" y="351.5" width="15.64" height="29.67" fill="#7994d1"/>
<rect x="1689.77" y="351.5" width="15.64" height="29.67" fill="#7491cf"/>
<rect x="1705.3" y="351.5" width="15.64" height="29.67" fill="#92addd"/>
<rect x="1720.82" y="351.5" width="15.64" height="29.67" fill="#92addd"/>
<rect x="1736.35" y="351.5" width="15.64" height="29.67" fill="#8aa5da"/>
<rect x="1751.88" y="351.5" width="15.64" height="29.67" fill="#7491cf"/>
<rect x="1581.1" y="381.05" width="15.64" height="29.67" fill="#607ac1"/>
<rect x="1596.62" y="381.05" width="15.64" height="29.67" fill="#6682c6"/>
<rect x="1612.15" y="381.05" width="15.64" height="29.67" fill="#839ed6"/>
<rect x="1627.67" y="381.05" width="15.64" height="29.67" fill="#7b97d3"/>
<rect x="1643.2" y="381.05" width="15.64" height="29.67" fill="#edcdbf"/>
<rect x="1658.72" y="381.05" width="15.64" height="29.67" fill="#b7cbe7"/>
<rect x="1674.25" y="381.05" width="15.64" height="29.67" fill="#c3d2e6"/>
<rect x="1689.77" y="381.05" width="15.64" height="29.67" fill="#c5d4e6"/>
<rect x="1705.3" y="381.05" width="15.64" height="29.67" fill="#edcdbf"/>
<rect x="1720.82" y="381.05" width="15.64" height="29.67" fill="#d0d9e3"/>
<rect x="1736.35" y="381.05" width="15.64" height="29.67" fill="#b7cbe7"/>
<linearGradient id="g_b3" x1="0" y1="0" x2="0" y2="1"><stop offset="0%" stop-color="#ec9272"/><stop offset="4.17%" stop-color="#ef9f80"/><stop offset="8.33%" stop-color="#f2aa8d"/><stop offset="12.5%" stop-color="#f2b49a"/><stop offset="16.67%" stop-color="#f1bea7"/><stop offset="20.83%" stop-color="#f0c6b3"/><stop offset="25%" stop-color="#eccec0"/><stop offset="29.17%" stop-color="#e7d5cd"/><stop offset="33.33%" stop-color="#dfdad8"/><stop offset="37.5%" stop-color="#d8dce0"/><stop offset="41.67%" stop-color="#d0d9e3"/><stop offset="45.83%" stop-color="#c7d4e6"/><stop offset="50%" stop-color="#becfe7"/><stop offset="54.17%" stop-color="#b4c8e6"/><stop offset="58.33%" stop-color="#aac0e4"/><stop offset="62.5%" stop-color="#9fb8e1"/><stop offset="66.67%" stop-color="#94aede"/><stop offset="70.83%" stop-color="#88a4d9"/><stop offset="75%" stop-color="#7c98d3"/><stop offset="79.17%" stop-color="#708dcc"/><stop offset="83.33%" stop-color="#6681c6"/><stop offset="87.5%" stop-color="#5a74bd"/><stop offset="91.67%" stop-color="#4f66b4"/><stop offset="95.83%" stop-color="#4459aa"/><stop offset="100%" stop-color="#3b4ca0"/></linearGradient>
<rect x="1911.2" y="114" width="15.8" height="296.1" fill="url(#g_b3)"/>
<rect x="1925.4" y="117.45" width="6.3" height="3.3" fill="#000"/>
<text x="1937.2" y="125.4" font-size="22.2" font-family="'DejaVu Sans', 'Liberation Sans', sans-serif" text-anchor="start" fill="#000" class="dj" >0.7</text>
<rect x="1925.4" y="166.93" width="6.3" height="3.3" fill="#000"/>
<text x="1937.2" y="174.88" font-size="22.2" font-family="'DejaVu Sans', 'Liberation Sans', sans-serif" text-anchor="start" fill="#000" class="dj" >0.6</text>
<rect x="1925.4" y="216.41" width="6.3" height="3.3" fill="#000"/>
<text x="1937.2" y="224.36" font-size="22.2" font-family="'DejaVu Sans', 'Liberation Sans', sans-serif" text-anchor="start" fill="#000" class="dj" >0.5</text>
<rect x="1925.4" y="265.89" width="6.3" height="3.3" fill="#000"/>
<text x="1937.2" y="273.84" font-size="22.2" font-family="'DejaVu Sans', 'Liberation Sans', sans-serif" text-anchor="start" fill="#000" class="dj" >0.4</text>
<rect x="1925.4" y="315.37" width="6.3" height="3.3" fill="#000"/>
<text x="1937.2" y="323.32" font-size="22.2" font-family="'DejaVu Sans', 'Liberation Sans', sans-serif" text-anchor="start" fill="#000" class="dj" >0.3</text>
<rect x="1925.4" y="364.85" width="6.3" height="3.3" fill="#000"/>
<text x="1937.2" y="372.8" font-size="22.2" font-family="'DejaVu Sans', 'Liberation Sans', sans-serif" text-anchor="start" fill="#000" class="dj" >0.2</text>
<rect x="1587.21" y="410.6" width="3.3" height="6.0" fill="#000"/>
<text x="1583.57" y="435.7" font-size="22.2" font-family="'DejaVu Sans', 'Liberation Sans', sans-serif" text-anchor="start" fill="#000" class="dj" >4</text>
<rect x="1618.26" y="410.6" width="3.3" height="6.0" fill="#000"/>
<text x="1614.62" y="435.7" font-size="22.2" font-family="'DejaVu Sans', 'Liberation Sans', sans-serif" text-anchor="start" fill="#000" class="dj" >6</text>
<rect x="1649.31" y="410.6" width="3.3" height="6.0" fill="#000"/>
<text x="1645.67" y="435.7" font-size="22.2" font-family="'DejaVu Sans', 'Liberation Sans', sans-serif" text-anchor="start" fill="#000" class="dj" >8</text>
<rect x="1680.36" y="410.6" width="3.3" height="6.0" fill="#000"/>
<text x="1671.42" y="435.7" font-size="22.2" font-family="'DejaVu Sans', 'Liberation Sans', sans-serif" text-anchor="start" fill="#000" class="dj" >10</text>
<rect x="1711.41" y="410.6" width="3.3" height="6.0" fill="#000"/>
<text x="1702.47" y="435.7" font-size="22.2" font-family="'DejaVu Sans', 'Liberation Sans', sans-serif" text-anchor="start" fill="#000" class="dj" >12</text>
<rect x="1742.46" y="410.6" width="3.3" height="6.0" fill="#000"/>
<text x="1733.52" y="435.7" font-size="22.2" font-family="'DejaVu Sans', 'Liberation Sans', sans-serif" text-anchor="start" fill="#000" class="dj" >14</text>
<rect x="1773.51" y="410.6" width="3.3" height="6.0" fill="#000"/>
<text x="1764.57" y="435.7" font-size="22.2" font-family="'DejaVu Sans', 'Liberation Sans', sans-serif" text-anchor="start" fill="#000" class="dj" >16</text>
<rect x="1804.56" y="410.6" width="3.3" height="6.0" fill="#000"/>
<text x="1795.62" y="435.7" font-size="22.2" font-family="'DejaVu Sans', 'Liberation Sans', sans-serif" text-anchor="start" fill="#000" class="dj" >18</text>
<rect x="1835.61" y="410.6" width="3.3" height="6.0" fill="#000"/>
<text x="1826.67" y="435.7" font-size="22.2" font-family="'DejaVu Sans', 'Liberation Sans', sans-serif" text-anchor="start" fill="#000" class="dj" >20</text>
<rect x="1866.66" y="410.6" width="3.3" height="6.0" fill="#000"/>
<text x="1857.72" y="435.7" font-size="22.2" font-family="'DejaVu Sans', 'Liberation Sans', sans-serif" text-anchor="start" fill="#000" class="dj" >22</text>
<rect x="1575.1" y="128.22" width="6.0" height="3.3" fill="#000"/>
<text x="1548.51" y="135.48" font-size="22.2" font-family="'DejaVu Sans', 'Liberation Sans', sans-serif" text-anchor="start" fill="#000" class="dj" >11</text>
<rect x="1575.1" y="157.78" width="6.0" height="3.3" fill="#000"/>
<text x="1548.51" y="165.03" font-size="22.2" font-family="'DejaVu Sans', 'Liberation Sans', sans-serif" text-anchor="start" fill="#000" class="dj" >10</text>
<rect x="1575.1" y="187.32" width="6.0" height="3.3" fill="#000"/>
<text x="1559.11" y="194.58" font-size="22.2" font-family="'DejaVu Sans', 'Liberation Sans', sans-serif" text-anchor="start" fill="#000" class="dj" >9</text>
<rect x="1575.1" y="216.87" width="6.0" height="3.3" fill="#000"/>
<text x="1559.11" y="224.13" font-size="22.2" font-family="'DejaVu Sans', 'Liberation Sans', sans-serif" text-anchor="start" fill="#000" class="dj" >8</text>
<rect x="1575.1" y="246.42" width="6.0" height="3.3" fill="#000"/>
<text x="1559.11" y="253.68" font-size="22.2" font-family="'DejaVu Sans', 'Liberation Sans', sans-serif" text-anchor="start" fill="#000" class="dj" >7</text>
<rect x="1575.1" y="275.98" width="6.0" height="3.3" fill="#000"/>
<text x="1559.11" y="283.23" font-size="22.2" font-family="'DejaVu Sans', 'Liberation Sans', sans-serif" text-anchor="start" fill="#000" class="dj" >6</text>
<rect x="1575.1" y="305.53" width="6.0" height="3.3" fill="#000"/>
<text x="1559.11" y="312.78" font-size="22.2" font-family="'DejaVu Sans', 'Liberation Sans', sans-serif" text-anchor="start" fill="#000" class="dj" >5</text>
<rect x="1575.1" y="335.08" width="6.0" height="3.3" fill="#000"/>
<text x="1559.11" y="342.33" font-size="22.2" font-family="'DejaVu Sans', 'Liberation Sans', sans-serif" text-anchor="start" fill="#000" class="dj" >4</text>
<rect x="1575.1" y="364.62" width="6.0" height="3.3" fill="#000"/>
<text x="1559.11" y="371.88" font-size="22.2" font-family="'DejaVu Sans', 'Liberation Sans', sans-serif" text-anchor="start" fill="#000" class="dj" >3</text>
<rect x="1575.1" y="394.18" width="6.0" height="3.3" fill="#000"/>
<text x="1559.11" y="401.43" font-size="22.2" font-family="'DejaVu Sans', 'Liberation Sans', sans-serif" text-anchor="start" fill="#000" class="dj" >2</text>
<text x="1693.57" y="459.2" font-size="22.5" font-family="'DejaVu Sans', 'Liberation Sans', sans-serif" text-anchor="start" fill="#000" class="dj" >Tail length</text>
<text transform="translate(1539.1,323.54) rotate(-90)" font-size="22.7" font-family="'DejaVu Sans', 'Liberation Sans', sans-serif" fill="#000" class="dj">Linker position</text>
</g>
<g class="hm" id="b4">
<rect x="778.22" y="588.1" width="15.66" height="29.68" fill="#99b3e0"/>
<rect x="793.75" y="588.1" width="15.66" height="29.68" fill="#99b3e0"/>
<rect x="809.28" y="588.1" width="15.66" height="29.68" fill="#92addd"/>
<rect x="824.82" y="588.1" width="15.66" height="29.68" fill="#a3bbe2"/>
<rect x="840.36" y="588.1" width="15.66" height="29.68" fill="#6e89ca"/>
<rect x="855.89" y="588.1" width="15.66" height="29.68" fill="#dadcde"/>
<rect x="871.42" y="588.1" width="15.66" height="29.68" fill="#7b97d3"/>
<rect x="886.96" y="588.1" width="15.66" height="29.68" fill="#809cd5"/>
<rect x="902.5" y="588.1" width="15.66" height="29.68" fill="#87a3d8"/>
<rect x="918.03" y="588.1" width="15.66" height="29.68" fill="#a0b9e2"/>
<rect x="933.57" y="588.1" width="15.66" height="29.68" fill="#95afde"/>
<rect x="762.68" y="617.66" width="15.66" height="29.68" fill="#4458a9"/>
<rect x="778.22" y="617.66" width="15.66" height="29.68" fill="#7491cf"/>
<rect x="793.75" y="617.66" width="15.66" height="29.68" fill="#6e89ca"/>
<rect x="809.28" y="617.66" width="15.66" height="29.68" fill="#7994d1"/>
<rect x="824.82" y="617.66" width="15.66" height="29.68" fill="#87a3d8"/>
<rect x="840.36" y="617.66" width="15.66" height="29.68" fill="#b9cce7"/>
<rect x="855.89" y="617.66" width="15.66" height="29.68" fill="#6e89ca"/>
<rect x="871.42" y="617.66" width="15.66" height="29.68" fill="#3b4ca0"/>
<rect x="886.96" y="617.66" width="15.66" height="29.68" fill="#4155a6"/>
<rect x="902.5" y="617.66" width="15.66" height="29.68" fill="#475dad"/>
<rect x="918.03" y="617.66" width="15.66" height="29.68" fill="#4a60af"/>
<rect x="747.14" y="647.22" width="15.66" height="29.68" fill="#95afde"/>
<rect x="762.68" y="647.22" width="15.66" height="29.68" fill="#839ed6"/>
<rect x="778.22" y="647.22" width="15.66" height="29.68" fill="#8aa5da"/>
<rect x="793.75" y="647.22" width="15.66" height="29.68" fill="#87a3d8"/>
<rect x="809.28" y="647.22" width="15.66" height="29.68" fill="#87a3d8"/>
<rect x="824.82" y="647.22" width="15.66" height="29.68" fill="#e3d8d2"/>
<rect x="840.36" y="647.22" width="15.66" height="29.68" fill="#8aa5da"/>
<rect x="855.89" y="647.22" width="15.66" height="29.68" fill="#8aa5da"/>
<rect x="871.42" y="647.22" width="15.66" height="29.68" fill="#8aa5da"/>
<rect x="886.96" y="647.22" width="15.66" height="29.68" fill="#a3bbe2"/>
<rect x="902.5" y="647.22" width="15.66" height="29.68" fill="#99b3e0"/>
<rect x="731.61" y="676.78" width="15.66" height="29.68" fill="#99b3e0"/>
<rect x="747.14" y="676.78" width="15.66" height="29.68" fill="#839ed6"/>
<rect x="762.68" y="676.78" width="15.66" height="29.68" fill="#8aa5da"/>
<rect x="778.22" y="676.78" width="15.66" height="29.68" fill="#8ea9db"/>
<rect x="793.75" y="676.78" width="15.66" height="29.68" fill="#87a3d8"/>
<rect x="809.28" y="676.78" width="15.66" height="29.68" fill="#d6dbe1"/>
<rect x="824.82" y="676.78" width="15.66" height="29.68" fill="#92addd"/>
<rect x="840.36" y="676.78" width="15.66" height="29.68" fill="#6e89ca"/>
<rect x="855.89" y="676.78" width="15.66" height="29.68" fill="#6682c6"/>
<rect x="871.42" y="676.78" width="15.66" height="29.68" fill="#8ea9db"/>
<rect x="886.96" y="676.78" width="15.66" height="29.68" fill="#839ed6"/>
<rect x="716.08" y="706.34" width="15.66" height="29.68" fill="#8aa5da"/>
<rect x="731.61" y="706.34" width="15.66" height="29.68" fill="#87a3d8"/>
<rect x="747.14" y="706.34" width="15.66" height="29.68" fill="#809cd5"/>
<rect x="762.68" y="706.34" width="15.66" height="29.68" fill="#839ed6"/>
<rect x="778.22" y="706.34" width="15.66" height="29.68" fill="#7994d1"/>
<rect x="793.75" y="706.34" width="15.66" height="29.68" fill="#a7bee4"/>
<rect x="809.28" y="706.34" width="15.66" height="29.68" fill="#809cd5"/>
<rect x="824.82" y="706.34" width="15.66" height="29.68" fill="#5168b5"/>
<rect x="840.36" y="706.34" width="15.66" height="29.68" fill="#5872bc"/>
<rect x="855.89" y="706.34" width="15.66" height="29.68" fill="#7b97d3"/>
<rect x="871.42" y="706.34" width="15.66" height="29.68" fill="#7491cf"/>
<rect x="700.54" y="735.9" width="15.66" height="29.68" fill="#a3bbe2"/>
<rect x="716.08" y="735.9" width="15.66" height="29.68" fill="#8aa5da"/>
<rect x="731.61" y="735.9" width="15.66" height="29.68" fill="#92addd"/>
<rect x="747.14" y="735.9" width="15.66" height="29.68" fill="#92addd"/>
<rect x="762.68" y="735.9" width="15.66" height="29.68" fill="#839ed6"/>
<rect x="778.22" y="735.9" width="15.66" height="29.68" fill="#bdcee6"/>
<rect x="793.75" y="735.9" width="15.66" height="29.68" fill="#839ed6"/>
<rect x="809.28" y="735.9" width="15.66" height="29.68" fill="#6985c8"/>
<rect x="824.82" y="735.9" width="15.66" height="29.68" fill="#7994d1"/>
<rect x="840.36" y="735.9" width="15.66" height="29.68" fill="#92addd"/>
<rect x="855.89" y="735.9" width="15.66" height="29.68" fill="#839ed6"/>
<rect x="685" y="765.46" width="15.66" height="29.68" fill="#8ea9db"/>
<rect x="700.54" y="765.46" width="15.66" height="29.68" fill="#8ea9db"/>
<rect x="716.08" y="765.46" width="15.66" height="29.68" fill="#95afde"/>
<rect x="731.61" y="765.46" width="15.66" height="29.68" fill="#92addd"/>
<rect x="747.14" y="765.46" width="15.66" height="29.68" fill="#708dcc"/>
<rect x="762.68" y="765.46" width="15.66" height="29.68" fill="#bdcee6"/>
<rect x="778.22" y="765.46" width="15.66" height="29.68" fill="#8ea9db"/>
<rect x="793.75" y="765.46" width="15.66" height="29.68" fill="#809cd5"/>
<rect x="809.28" y="765.46" width="15.66" height="29.68" fill="#7b97d3"/>
<rect x="824.82" y="765.46" width="15.66" height="29.68" fill="#839ed6"/>
<rect x="840.36" y="765.46" width="15.66" height="29.68" fill="#87a3d8"/>
<rect x="669.47" y="795.02" width="15.66" height="29.68" fill="#7b97d3"/>
<rect x="685" y="795.02" width="15.66" height="29.68" fill="#7994d1"/>
<rect x="700.54" y="795.02" width="15.66" height="29.68" fill="#8ea9db"/>
<rect x="716.08" y="795.02" width="15.66" height="29.68" fill="#8aa5da"/>
<rect x="731.61" y="795.02" width="15.66" height="29.68" fill="#8aa5da"/>
<rect x="747.14" y="795.02" width="15.66" height="29.68" fill="#d0d9e3"/>
<rect x="762.68" y="795.02" width="15.66" height="29.68" fill="#7491cf"/>
<rect x="778.22" y="795.02" width="15.66" height="29.68" fill="#7491cf"/>
<rect x="793.75" y="795.02" width="15.66" height="29.68" fill="#7b97d3"/>
<rect x="809.28" y="795.02" width="15.66" height="29.68" fill="#92addd"/>
<rect x="824.82" y="795.02" width="15.66" height="29.68" fill="#839ed6"/>
<rect x="653.93" y="824.58" width="15.66" height="29.68" fill="#839ed6"/>
<rect x="669.47" y="824.58" width="15.66" height="29.68" fill="#8ea9db"/>
<rect x="685" y="824.58" width="15.66" height="29.68" fill="#b9cce7"/>
<rect x="700.54" y="824.58" width="15.66" height="29.68" fill="#a7bee4"/>
<rect x="716.08" y="824.58" width="15.66" height="29.68" fill="#a0b9e2"/>
<rect x="731.61" y="824.58" width="15.66" height="29.68" fill="#dfdbd9"/>
<rect x="747.14" y="824.58" width="15.66" height="29.68" fill="#95afde"/>
<rect x="762.68" y="824.58" width="15.66" height="29.68" fill="#6985c8"/>
<rect x="778.22" y="824.58" width="15.66" height="29.68" fill="#9cb5e0"/>
<rect x="793.75" y="824.58" width="15.66" height="29.68" fill="#87a3d8"/>
<rect x="809.28" y="824.58" width="15.66" height="29.68" fill="#a3bbe2"/>
<rect x="638.4" y="854.14" width="15.66" height="29.68" fill="#6e89ca"/>
<rect x="653.93" y="854.14" width="15.66" height="29.68" fill="#7491cf"/>
<rect x="669.47" y="854.14" width="15.66" height="29.68" fill="#92addd"/>
<rect x="685" y="854.14" width="15.66" height="29.68" fill="#8aa5da"/>
<rect x="700.54" y="854.14" width="15.66" height="29.68" fill="#7b97d3"/>
<rect x="716.08" y="854.14" width="15.66" height="29.68" fill="#bdcee6"/>
<rect x="731.61" y="854.14" width="15.66" height="29.68" fill="#8ea9db"/>
<rect x="747.14" y="854.14" width="15.66" height="29.68" fill="#5c75be"/>
<rect x="762.68" y="854.14" width="15.66" height="29.68" fill="#708dcc"/>
<rect x="778.22" y="854.14" width="15.66" height="29.68" fill="#7b97d3"/>
<rect x="793.75" y="854.14" width="15.66" height="29.68" fill="#7491cf"/>
<linearGradient id="g_b4" x1="0" y1="0" x2="0" y2="1"><stop offset="0%" stop-color="#e3d8d3"/><stop offset="4.17%" stop-color="#dedbda"/><stop offset="8.33%" stop-color="#d9dcdf"/><stop offset="12.5%" stop-color="#d4dae2"/><stop offset="16.67%" stop-color="#ced8e4"/><stop offset="20.83%" stop-color="#c8d4e5"/><stop offset="25%" stop-color="#c1d2e7"/><stop offset="29.17%" stop-color="#bbcde7"/><stop offset="33.33%" stop-color="#b4c8e6"/><stop offset="37.5%" stop-color="#adc3e5"/><stop offset="41.67%" stop-color="#a6bee3"/><stop offset="45.83%" stop-color="#9eb7e1"/><stop offset="50%" stop-color="#97b1df"/><stop offset="54.17%" stop-color="#8faadc"/><stop offset="58.33%" stop-color="#87a3d8"/><stop offset="62.5%" stop-color="#7f9bd5"/><stop offset="66.67%" stop-color="#7793d0"/><stop offset="70.83%" stop-color="#6f8acb"/><stop offset="75%" stop-color="#6783c6"/><stop offset="79.17%" stop-color="#607ac1"/><stop offset="83.33%" stop-color="#5871bb"/><stop offset="87.5%" stop-color="#4f67b4"/><stop offset="91.67%" stop-color="#485fae"/><stop offset="95.83%" stop-color="#4155a7"/><stop offset="100%" stop-color="#3b4ca0"/></linearGradient>
<rect x="968.4" y="587" width="13.6" height="296.2" fill="url(#g_b4)"/>
<rect x="982.7" y="601.85" width="6.3" height="3.3" fill="#000"/>
<text x="994.5" y="609.8" font-size="22.2" font-family="'DejaVu Sans', 'Liberation Sans', sans-serif" text-anchor="start" fill="#000" class="dj" >0.5</text>
<rect x="982.7" y="666.95" width="6.3" height="3.3" fill="#000"/>
<text x="994.5" y="674.9" font-size="22.2" font-family="'DejaVu Sans', 'Liberation Sans', sans-serif" text-anchor="start" fill="#000" class="dj" >0.4</text>
<rect x="982.7" y="732.05" width="6.3" height="3.3" fill="#000"/>
<text x="994.5" y="740" font-size="22.2" font-family="'DejaVu Sans', 'Liberation Sans', sans-serif" text-anchor="start" fill="#000" class="dj" >0.3</text>
<rect x="982.7" y="797.15" width="6.3" height="3.3" fill="#000"/>
<text x="994.5" y="805.1" font-size="22.2" font-family="'DejaVu Sans', 'Liberation Sans', sans-serif" text-anchor="start" fill="#000" class="dj" >0.2</text>
<rect x="982.7" y="862.25" width="6.3" height="3.3" fill="#000"/>
<text x="994.5" y="870.2" font-size="22.2" font-family="'DejaVu Sans', 'Liberation Sans', sans-serif" text-anchor="start" fill="#000" class="dj" >0.1</text>
<rect x="644.52" y="883.7" width="3.3" height="6.0" fill="#000"/>
<text x="640.87" y="908.8" font-size="22.2" font-family="'DejaVu Sans', 'Liberation Sans', sans-serif" text-anchor="start" fill="#000" class="dj" >4</text>
<rect x="675.59" y="883.7" width="3.3" height="6.0" fill="#000"/>
<text x="671.94" y="908.8" font-size="22.2" font-family="'DejaVu Sans', 'Liberation Sans', sans-serif" text-anchor="start" fill="#000" class="dj" >6</text>
<rect x="706.66" y="883.7" width="3.3" height="6.0" fill="#000"/>
<text x="703.01" y="908.8" font-size="22.2" font-family="'DejaVu Sans', 'Liberation Sans', sans-serif" text-anchor="start" fill="#000" class="dj" >8</text>
<rect x="737.73" y="883.7" width="3.3" height="6.0" fill="#000"/>
<text x="728.78" y="908.8" font-size="22.2" font-family="'DejaVu Sans', 'Liberation Sans', sans-serif" text-anchor="start" fill="#000" class="dj" >10</text>
<rect x="768.8" y="883.7" width="3.3" height="6.0" fill="#000"/>
<text x="759.85" y="908.8" font-size="22.2" font-family="'DejaVu Sans', 'Liberation Sans', sans-serif" text-anchor="start" fill="#000" class="dj" >12</text>
<rect x="799.87" y="883.7" width="3.3" height="6.0" fill="#000"/>
<text x="790.92" y="908.8" font-size="22.2" font-family="'DejaVu Sans', 'Liberation Sans', sans-serif" text-anchor="start" fill="#000" class="dj" >14</text>
<rect x="830.94" y="883.7" width="3.3" height="6.0" fill="#000"/>
<text x="821.99" y="908.8" font-size="22.2" font-family="'DejaVu Sans', 'Liberation Sans', sans-serif" text-anchor="start" fill="#000" class="dj" >16</text>
<rect x="862.01" y="883.7" width="3.3" height="6.0" fill="#000"/>
<text x="853.06" y="908.8" font-size="22.2" font-family="'DejaVu Sans', 'Liberation Sans', sans-serif" text-anchor="start" fill="#000" class="dj" >18</text>
<rect x="893.08" y="883.7" width="3.3" height="6.0" fill="#000"/>
<text x="884.13" y="908.8" font-size="22.2" font-family="'DejaVu Sans', 'Liberation Sans', sans-serif" text-anchor="start" fill="#000" class="dj" >20</text>
<rect x="924.15" y="883.7" width="3.3" height="6.0" fill="#000"/>
<text x="915.2" y="908.8" font-size="22.2" font-family="'DejaVu Sans', 'Liberation Sans', sans-serif" text-anchor="start" fill="#000" class="dj" >22</text>
<rect x="632.4" y="601.23" width="6.0" height="3.3" fill="#000"/>
<text x="605.81" y="608.48" font-size="22.2" font-family="'DejaVu Sans', 'Liberation Sans', sans-serif" text-anchor="start" fill="#000" class="dj" >11</text>
<rect x="632.4" y="630.79" width="6.0" height="3.3" fill="#000"/>
<text x="605.81" y="638.04" font-size="22.2" font-family="'DejaVu Sans', 'Liberation Sans', sans-serif" text-anchor="start" fill="#000" class="dj" >10</text>
<rect x="632.4" y="660.35" width="6.0" height="3.3" fill="#000"/>
<text x="616.41" y="667.6" font-size="22.2" font-family="'DejaVu Sans', 'Liberation Sans', sans-serif" text-anchor="start" fill="#000" class="dj" >9</text>
<rect x="632.4" y="689.91" width="6.0" height="3.3" fill="#000"/>
<text x="616.41" y="697.16" font-size="22.2" font-family="'DejaVu Sans', 'Liberation Sans', sans-serif" text-anchor="start" fill="#000" class="dj" >8</text>
<rect x="632.4" y="719.47" width="6.0" height="3.3" fill="#000"/>
<text x="616.41" y="726.72" font-size="22.2" font-family="'DejaVu Sans', 'Liberation Sans', sans-serif" text-anchor="start" fill="#000" class="dj" >7</text>
<rect x="632.4" y="749.03" width="6.0" height="3.3" fill="#000"/>
<text x="616.41" y="756.28" font-size="22.2" font-family="'DejaVu Sans', 'Liberation Sans', sans-serif" text-anchor="start" fill="#000" class="dj" >6</text>
<rect x="632.4" y="778.59" width="6.0" height="3.3" fill="#000"/>
<text x="616.41" y="785.84" font-size="22.2" font-family="'DejaVu Sans', 'Liberation Sans', sans-serif" text-anchor="start" fill="#000" class="dj" >5</text>
<rect x="632.4" y="808.15" width="6.0" height="3.3" fill="#000"/>
<text x="616.41" y="815.4" font-size="22.2" font-family="'DejaVu Sans', 'Liberation Sans', sans-serif" text-anchor="start" fill="#000" class="dj" >4</text>
<rect x="632.4" y="837.71" width="6.0" height="3.3" fill="#000"/>
<text x="616.41" y="844.96" font-size="22.2" font-family="'DejaVu Sans', 'Liberation Sans', sans-serif" text-anchor="start" fill="#000" class="dj" >3</text>
<rect x="632.4" y="867.27" width="6.0" height="3.3" fill="#000"/>
<text x="616.41" y="874.52" font-size="22.2" font-family="'DejaVu Sans', 'Liberation Sans', sans-serif" text-anchor="start" fill="#000" class="dj" >2</text>
<text x="750.97" y="932.3" font-size="22.5" font-family="'DejaVu Sans', 'Liberation Sans', sans-serif" text-anchor="start" fill="#000" class="dj" >Tail length</text>
<text transform="translate(596.4,796.59) rotate(-90)" font-size="22.7" font-family="'DejaVu Sans', 'Liberation Sans', sans-serif" fill="#000" class="dj">Linker position</text>
</g>
<g class="hm" id="b5">
<rect x="1253.22" y="588.1" width="15.64" height="29.68" fill="#c8d5e5"/>
<rect x="1268.75" y="588.1" width="15.64" height="29.68" fill="#e3d8d2"/>
<rect x="1284.28" y="588.1" width="15.64" height="29.68" fill="#bfd0e7"/>
<rect x="1299.8" y="588.1" width="15.64" height="29.68" fill="#e1d9d5"/>
<rect x="1315.33" y="588.1" width="15.64" height="29.68" fill="#e3d8d2"/>
<rect x="1330.85" y="588.1" width="15.64" height="29.68" fill="#f3b89f"/>
<rect x="1346.38" y="588.1" width="15.64" height="29.68" fill="#efc9b7"/>
<rect x="1361.9" y="588.1" width="15.64" height="29.68" fill="#c5d4e6"/>
<rect x="1377.42" y="588.1" width="15.64" height="29.68" fill="#f1c4af"/>
<rect x="1392.95" y="588.1" width="15.64" height="29.68" fill="#eecbba"/>
<rect x="1408.47" y="588.1" width="15.64" height="29.68" fill="#eecbba"/>
<rect x="1237.7" y="617.66" width="15.64" height="29.68" fill="#9cb5e0"/>
<rect x="1253.22" y="617.66" width="15.64" height="29.68" fill="#c8d5e5"/>
<rect x="1268.75" y="617.66" width="15.64" height="29.68" fill="#a9c0e4"/>
<rect x="1284.28" y="617.66" width="15.64" height="29.68" fill="#d3dae2"/>
<rect x="1299.8" y="617.66" width="15.64" height="29.68" fill="#d0d9e3"/>
<rect x="1315.33" y="617.66" width="15.64" height="29.68" fill="#f2bba2"/>
<rect x="1330.85" y="617.66" width="15.64" height="29.68" fill="#edcdbf"/>
<rect x="1346.38" y="617.66" width="15.64" height="29.68" fill="#f2b59b"/>
<rect x="1361.9" y="617.66" width="15.64" height="29.68" fill="#eecbba"/>
<rect x="1377.42" y="617.66" width="15.64" height="29.68" fill="#e6d6ce"/>
<rect x="1392.95" y="617.66" width="15.64" height="29.68" fill="#e6d6ce"/>
<rect x="1222.17" y="647.22" width="15.64" height="29.68" fill="#7b97d3"/>
<rect x="1237.7" y="647.22" width="15.64" height="29.68" fill="#bdcee6"/>
<rect x="1253.22" y="647.22" width="15.64" height="29.68" fill="#a0b9e2"/>
<rect x="1268.75" y="647.22" width="15.64" height="29.68" fill="#c8d5e5"/>
<rect x="1284.28" y="647.22" width="15.64" height="29.68" fill="#c8d5e5"/>
<rect x="1299.8" y="647.22" width="15.64" height="29.68" fill="#f0c6b2"/>
<rect x="1315.33" y="647.22" width="15.64" height="29.68" fill="#d8dce0"/>
<rect x="1330.85" y="647.22" width="15.64" height="29.68" fill="#edcdbf"/>
<rect x="1346.38" y="647.22" width="15.64" height="29.68" fill="#e3d8d2"/>
<rect x="1361.9" y="647.22" width="15.64" height="29.68" fill="#dddcdc"/>
<rect x="1377.42" y="647.22" width="15.64" height="29.68" fill="#dddcdc"/>
<rect x="1206.65" y="676.78" width="15.64" height="29.68" fill="#7b97d3"/>
<rect x="1222.17" y="676.78" width="15.64" height="29.68" fill="#a3bbe2"/>
<rect x="1237.7" y="676.78" width="15.64" height="29.68" fill="#8ea9db"/>
<rect x="1253.22" y="676.78" width="15.64" height="29.68" fill="#9cb5e0"/>
<rect x="1268.75" y="676.78" width="15.64" height="29.68" fill="#a7bee4"/>
<rect x="1284.28" y="676.78" width="15.64" height="29.68" fill="#bdcee6"/>
<rect x="1299.8" y="676.78" width="15.64" height="29.68" fill="#a9c0e4"/>
<rect x="1315.33" y="676.78" width="15.64" height="29.68" fill="#3b4ca0"/>
<rect x="1330.85" y="676.78" width="15.64" height="29.68" fill="#a0b9e2"/>
<rect x="1346.38" y="676.78" width="15.64" height="29.68" fill="#99b3e0"/>
<rect x="1361.9" y="676.78" width="15.64" height="29.68" fill="#a0b9e2"/>
<rect x="1191.12" y="706.34" width="15.64" height="29.68" fill="#8ea9db"/>
<rect x="1206.65" y="706.34" width="15.64" height="29.68" fill="#99b3e0"/>
<rect x="1222.17" y="706.34" width="15.64" height="29.68" fill="#ebd0c3"/>
<rect x="1237.7" y="706.34" width="15.64" height="29.68" fill="#b3c8e6"/>
<rect x="1253.22" y="706.34" width="15.64" height="29.68" fill="#a9c0e4"/>
<rect x="1268.75" y="706.34" width="15.64" height="29.68" fill="#e8d4cb"/>
<rect x="1284.28" y="706.34" width="15.64" height="29.68" fill="#c8d5e5"/>
<rect x="1299.8" y="706.34" width="15.64" height="29.68" fill="#dddcdc"/>
<rect x="1315.33" y="706.34" width="15.64" height="29.68" fill="#d0d9e3"/>
<rect x="1330.85" y="706.34" width="15.64" height="29.68" fill="#c5d4e6"/>
<rect x="1346.38" y="706.34" width="15.64" height="29.68" fill="#c8d5e5"/>
<rect x="1175.6" y="735.9" width="15.64" height="29.68" fill="#d0d9e3"/>
<rect x="1191.12" y="735.9" width="15.64" height="29.68" fill="#e8d4cb"/>
<rect x="1206.65" y="735.9" width="15.64" height="29.68" fill="#d8dce0"/>
<rect x="1222.17" y="735.9" width="15.64" height="29.68" fill="#d8dce0"/>
<rect x="1237.7" y="735.9" width="15.64" height="29.68" fill="#d6dbe1"/>
<rect x="1253.22" y="735.9" width="15.64" height="29.68" fill="#c3d2e6"/>
<rect x="1268.75" y="735.9" width="15.64" height="29.68" fill="#c5d4e6"/>
<rect x="1284.28" y="735.9" width="15.64" height="29.68" fill="#607ac1"/>
<rect x="1299.8" y="735.9" width="15.64" height="29.68" fill="#ced8e4"/>
<rect x="1315.33" y="735.9" width="15.64" height="29.68" fill="#c3d2e6"/>
<rect x="1330.85" y="735.9" width="15.64" height="29.68" fill="#c3d2e6"/>
<rect x="1160.08" y="765.46" width="15.64" height="29.68" fill="#95afde"/>
<rect x="1175.6" y="765.46" width="15.64" height="29.68" fill="#c3d2e6"/>
<rect x="1191.12" y="765.46" width="15.64" height="29.68" fill="#ced8e4"/>
<rect x="1206.65" y="765.46" width="15.64" height="29.68" fill="#c8d5e5"/>
<rect x="1222.17" y="765.46" width="15.64" height="29.68" fill="#c5d4e6"/>
<rect x="1237.7" y="765.46" width="15.64" height="29.68" fill="#c8d5e5"/>
<rect x="1253.22" y="765.46" width="15.64" height="29.68" fill="#dfdbd9"/>
<rect x="1268.75" y="765.46" width="15.64" height="29.68" fill="#e8d4cb"/>
<rect x="1284.28" y="765.46" width="15.64" height="29.68" fill="#e1d9d5"/>
<rect x="1299.8" y="765.46" width="15.64" height="29.68" fill="#d8dce0"/>
<rect x="1315.33" y="765.46" width="15.64" height="29.68" fill="#e1d9d5"/>
<rect x="1144.55" y="795.02" width="15.64" height="29.68" fill="#6682c6"/>
<rect x="1160.08" y="795.02" width="15.64" height="29.68" fill="#99b3e0"/>
<rect x="1175.6" y="795.02" width="15.64" height="29.68" fill="#809cd5"/>
<rect x="1191.12" y="795.02" width="15.64" height="29.68" fill="#8ea9db"/>
<rect x="1206.65" y="795.02" width="15.64" height="29.68" fill="#9cb5e0"/>
<rect x="1222.17" y="795.02" width="15.64" height="29.68" fill="#92addd"/>
<rect x="1237.7" y="795.02" width="15.64" height="29.68" fill="#c3d2e6"/>
<rect x="1253.22" y="795.02" width="15.64" height="29.68" fill="#b3c8e6"/>
<rect x="1268.75" y="795.02" width="15.64" height="29.68" fill="#bdcee6"/>
<rect x="1284.28" y="795.02" width="15.64" height="29.68" fill="#b1c7e6"/>
<rect x="1299.8" y="795.02" width="15.64" height="29.68" fill="#b9cce7"/>
<rect x="1129.03" y="824.58" width="15.64" height="29.68" fill="#8ea9db"/>
<rect x="1144.55" y="824.58" width="15.64" height="29.68" fill="#b9cce7"/>
<rect x="1160.08" y="824.58" width="15.64" height="29.68" fill="#a7bee4"/>
<rect x="1175.6" y="824.58" width="15.64" height="29.68" fill="#a0b9e2"/>
<rect x="1191.12" y="824.58" width="15.64" height="29.68" fill="#b9cce7"/>
<rect x="1206.65" y="824.58" width="15.64" height="29.68" fill="#bdcee6"/>
<rect x="1222.17" y="824.58" width="15.64" height="29.68" fill="#e6d6ce"/>
<rect x="1237.7" y="824.58" width="15.64" height="29.68" fill="#c8d5e5"/>
<rect x="1253.22" y="824.58" width="15.64" height="29.68" fill="#dddcdc"/>
<rect x="1268.75" y="824.58" width="15.64" height="29.68" fill="#dadcde"/>
<rect x="1284.28" y="824.58" width="15.64" height="29.68" fill="#dadcde"/>
<rect x="1113.5" y="854.14" width="15.64" height="29.68" fill="#ced8e4"/>
<rect x="1129.03" y="854.14" width="15.64" height="29.68" fill="#dddcdc"/>
<rect x="1144.55" y="854.14" width="15.64" height="29.68" fill="#e9d1c6"/>
<rect x="1160.08" y="854.14" width="15.64" height="29.68" fill="#d3dae2"/>
<rect x="1175.6" y="854.14" width="15.64" height="29.68" fill="#dadcde"/>
<rect x="1191.12" y="854.14" width="15.64" height="29.68" fill="#e1d9d5"/>
<rect x="1206.65" y="854.14" width="15.64" height="29.68" fill="#f1c4af"/>
<rect x="1222.17" y="854.14" width="15.64" height="29.68" fill="#f1bea7"/>
<rect x="1237.7" y="854.14" width="15.64" height="29.68" fill="#f2af93"/>
<rect x="1253.22" y="854.14" width="15.64" height="29.68" fill="#e37e60"/>
<rect x="1268.75" y="854.14" width="15.64" height="29.68" fill="#f0a486"/>
<linearGradient id="g_b5" x1="0" y1="0" x2="0" y2="1"><stop offset="0%" stop-color="#e37d5f"/><stop offset="4.17%" stop-color="#e98b6c"/><stop offset="8.33%" stop-color="#ee9879"/><stop offset="12.5%" stop-color="#f0a586"/><stop offset="16.67%" stop-color="#f2b094"/><stop offset="20.83%" stop-color="#f2bba2"/><stop offset="25%" stop-color="#f0c5b0"/><stop offset="29.17%" stop-color="#edcdbe"/><stop offset="33.33%" stop-color="#e7d4cc"/><stop offset="37.5%" stop-color="#e0dad8"/><stop offset="41.67%" stop-color="#d8dce0"/><stop offset="45.83%" stop-color="#cfd9e4"/><stop offset="50%" stop-color="#c6d4e6"/><stop offset="54.17%" stop-color="#bccde6"/><stop offset="58.33%" stop-color="#b1c7e6"/><stop offset="62.5%" stop-color="#a6bee3"/><stop offset="66.67%" stop-color="#9ab4e0"/><stop offset="70.83%" stop-color="#8ea9db"/><stop offset="75%" stop-color="#819dd6"/><stop offset="79.17%" stop-color="#7591cf"/><stop offset="83.33%" stop-color="#6984c7"/><stop offset="87.5%" stop-color="#5d77bf"/><stop offset="91.67%" stop-color="#5068b5"/><stop offset="95.83%" stop-color="#455aaa"/><stop offset="100%" stop-color="#3b4ca0"/></linearGradient>
<rect x="1444" y="587" width="14" height="296.2" fill="url(#g_b5)"/>
<rect x="1457.4" y="593.95" width="6.3" height="3.3" fill="#000"/>
<text x="1469.2" y="601.9" font-size="22.2" font-family="'DejaVu Sans', 'Liberation Sans', sans-serif" text-anchor="start" fill="#000" class="dj" >0.7</text>
<rect x="1457.4" y="647.95" width="6.3" height="3.3" fill="#000"/>
<text x="1469.2" y="655.9" font-size="22.2" font-family="'DejaVu Sans', 'Liberation Sans', sans-serif" text-anchor="start" fill="#000" class="dj" >0.6</text>
<rect x="1457.4" y="701.95" width="6.3" height="3.3" fill="#000"/>
<text x="1469.2" y="709.9" font-size="22.2" font-family="'DejaVu Sans', 'Liberation Sans', sans-serif" text-anchor="start" fill="#000" class="dj" >0.5</text>
<rect x="1457.4" y="755.95" width="6.3" height="3.3" fill="#000"/>
<text x="1469.2" y="763.9" font-size="22.2" font-family="'DejaVu Sans', 'Liberation Sans', sans-serif" text-anchor="start" fill="#000" class="dj" >0.4</text>
<rect x="1457.4" y="809.95" width="6.3" height="3.3" fill="#000"/>
<text x="1469.2" y="817.9" font-size="22.2" font-family="'DejaVu Sans', 'Liberation Sans', sans-serif" text-anchor="start" fill="#000" class="dj" >0.3</text>
<rect x="1457.4" y="863.95" width="6.3" height="3.3" fill="#000"/>
<text x="1469.2" y="871.9" font-size="22.2" font-family="'DejaVu Sans', 'Liberation Sans', sans-serif" text-anchor="start" fill="#000" class="dj" >0.2</text>
<rect x="1119.61" y="883.7" width="3.3" height="6.0" fill="#000"/>
<text x="1115.97" y="908.8" font-size="22.2" font-family="'DejaVu Sans', 'Liberation Sans', sans-serif" text-anchor="start" fill="#000" class="dj" >7</text>
<rect x="1150.66" y="883.7" width="3.3" height="6.0" fill="#000"/>
<text x="1147.02" y="908.8" font-size="22.2" font-family="'DejaVu Sans', 'Liberation Sans', sans-serif" text-anchor="start" fill="#000" class="dj" >9</text>
<rect x="1181.71" y="883.7" width="3.3" height="6.0" fill="#000"/>
<text x="1172.77" y="908.8" font-size="22.2" font-family="'DejaVu Sans', 'Liberation Sans', sans-serif" text-anchor="start" fill="#000" class="dj" >11</text>
<rect x="1212.76" y="883.7" width="3.3" height="6.0" fill="#000"/>
<text x="1203.82" y="908.8" font-size="22.2" font-family="'DejaVu Sans', 'Liberation Sans', sans-serif" text-anchor="start" fill="#000" class="dj" >13</text>
<rect x="1243.81" y="883.7" width="3.3" height="6.0" fill="#000"/>
<text x="1234.87" y="908.8" font-size="22.2" font-family="'DejaVu Sans', 'Liberation Sans', sans-serif" text-anchor="start" fill="#000" class="dj" >15</text>
<rect x="1274.86" y="883.7" width="3.3" height="6.0" fill="#000"/>
<text x="1265.92" y="908.8" font-size="22.2" font-family="'DejaVu Sans', 'Liberation Sans', sans-serif" text-anchor="start" fill="#000" class="dj" >17</text>
<rect x="1305.91" y="883.7" width="3.3" height="6.0" fill="#000"/>
<text x="1296.97" y="908.8" font-size="22.2" font-family="'DejaVu Sans', 'Liberation Sans', sans-serif" text-anchor="start" fill="#000" class="dj" >19</text>
<rect x="1336.96" y="883.7" width="3.3" height="6.0" fill="#000"/>
<text x="1328.02" y="908.8" font-size="22.2" font-family="'DejaVu Sans', 'Liberation Sans', sans-serif" text-anchor="start" fill="#000" class="dj" >21</text>
<rect x="1368.01" y="883.7" width="3.3" height="6.0" fill="#000"/>
<text x="1359.07" y="908.8" font-size="22.2" font-family="'DejaVu Sans', 'Liberation Sans', sans-serif" text-anchor="start" fill="#000" class="dj" >23</text>
<rect x="1399.06" y="883.7" width="3.3" height="6.0" fill="#000"/>
<text x="1390.12" y="908.8" font-size="22.2" font-family="'DejaVu Sans', 'Liberation Sans', sans-serif" text-anchor="start" fill="#000" class="dj" >25</text>
<rect x="1107.5" y="601.23" width="6.0" height="3.3" fill="#000"/>
<text x="1080.91" y="608.48" font-size="22.2" font-family="'DejaVu Sans', 'Liberation Sans', sans-serif" text-anchor="start" fill="#000" class="dj" >11</text>
<rect x="1107.5" y="630.79" width="6.0" height="3.3" fill="#000"/>
<text x="1080.91" y="638.04" font-size="22.2" font-family="'DejaVu Sans', 'Liberation Sans', sans-serif" text-anchor="start" fill="#000" class="dj" >10</text>
<rect x="1107.5" y="660.35" width="6.0" height="3.3" fill="#000"/>
<text x="1091.51" y="667.6" font-size="22.2" font-family="'DejaVu Sans', 'Liberation Sans', sans-serif" text-anchor="start" fill="#000" class="dj" >9</text>
<rect x="1107.5" y="689.91" width="6.0" height="3.3" fill="#000"/>
<text x="1091.51" y="697.16" font-size="22.2" font-family="'DejaVu Sans', 'Liberation Sans', sans-serif" text-anchor="start" fill="#000" class="dj" >8</text>
<rect x="1107.5" y="719.47" width="6.0" height="3.3" fill="#000"/>
<text x="1091.51" y="726.72" font-size="22.2" font-family="'DejaVu Sans', 'Liberation Sans', sans-serif" text-anchor="start" fill="#000" class="dj" >7</text>
<rect x="1107.5" y="749.03" width="6.0" height="3.3" fill="#000"/>
<text x="1091.51" y="756.28" font-size="22.2" font-family="'DejaVu Sans', 'Liberation Sans', sans-serif" text-anchor="start" fill="#000" class="dj" >6</text>
<rect x="1107.5" y="778.59" width="6.0" height="3.3" fill="#000"/>
<text x="1091.51" y="785.84" font-size="22.2" font-family="'DejaVu Sans', 'Liberation Sans', sans-serif" text-anchor="start" fill="#000" class="dj" >5</text>
<rect x="1107.5" y="808.15" width="6.0" height="3.3" fill="#000"/>
<text x="1091.51" y="815.4" font-size="22.2" font-family="'DejaVu Sans', 'Liberation Sans', sans-serif" text-anchor="start" fill="#000" class="dj" >4</text>
<rect x="1107.5" y="837.71" width="6.0" height="3.3" fill="#000"/>
<text x="1091.51" y="844.96" font-size="22.2" font-family="'DejaVu Sans', 'Liberation Sans', sans-serif" text-anchor="start" fill="#000" class="dj" >3</text>
<rect x="1107.5" y="867.27" width="6.0" height="3.3" fill="#000"/>
<text x="1091.51" y="874.52" font-size="22.2" font-family="'DejaVu Sans', 'Liberation Sans', sans-serif" text-anchor="start" fill="#000" class="dj" >2</text>
<text x="1225.97" y="932.3" font-size="22.5" font-family="'DejaVu Sans', 'Liberation Sans', sans-serif" text-anchor="start" fill="#000" class="dj" >Tail length</text>
<text transform="translate(1071.5,796.59) rotate(-90)" font-size="22.7" font-family="'DejaVu Sans', 'Liberation Sans', sans-serif" fill="#000" class="dj">Linker position</text>
</g>
<g class="hm" id="b6">
<rect x="1702.6" y="588.1" width="13.62" height="29.68" fill="#6682c6"/>
<rect x="1716.1" y="588.1" width="13.62" height="29.68" fill="#5872bc"/>
<rect x="1729.6" y="588.1" width="13.62" height="29.68" fill="#607ac1"/>
<rect x="1743.1" y="588.1" width="13.62" height="29.68" fill="#809cd5"/>
<rect x="1756.6" y="588.1" width="13.62" height="29.68" fill="#c8d5e5"/>
<rect x="1770.1" y="588.1" width="13.62" height="29.68" fill="#f1c4af"/>
<rect x="1783.6" y="588.1" width="13.62" height="29.68" fill="#ebd0c3"/>
<rect x="1797.1" y="588.1" width="13.62" height="29.68" fill="#f1c0aa"/>
<rect x="1810.6" y="588.1" width="13.62" height="29.68" fill="#f1bea7"/>
<rect x="1824.1" y="588.1" width="13.62" height="29.68" fill="#f0a486"/>
<rect x="1837.6" y="588.1" width="13.62" height="29.68" fill="#f1c0aa"/>
<rect x="1851.1" y="588.1" width="13.62" height="29.68" fill="#f0a283"/>
<rect x="1864.6" y="588.1" width="13.62" height="29.68" fill="#efc9b7"/>
<rect x="1878.1" y="588.1" width="13.62" height="29.68" fill="#efc9b7"/>
<rect x="1689.1" y="617.66" width="13.62" height="29.68" fill="#4155a6"/>
<rect x="1702.6" y="617.66" width="13.62" height="29.68" fill="#4155a6"/>
<rect x="1716.1" y="617.66" width="13.62" height="29.68" fill="#556db9"/>
<rect x="1729.6" y="617.66" width="13.62" height="29.68" fill="#7491cf"/>
<rect x="1743.1" y="617.66" width="13.62" height="29.68" fill="#d3dae2"/>
<rect x="1756.6" y="617.66" width="13.62" height="29.68" fill="#f2af93"/>
<rect x="1770.1" y="617.66" width="13.62" height="29.68" fill="#f3b89f"/>
<rect x="1783.6" y="617.66" width="13.62" height="29.68" fill="#f0a283"/>
<rect x="1797.1" y="617.66" width="13.62" height="29.68" fill="#ef9d7e"/>
<rect x="1810.6" y="617.66" width="13.62" height="29.68" fill="#de7458"/>
<rect x="1824.1" y="617.66" width="13.62" height="29.68" fill="#e58263"/>
<rect x="1837.6" y="617.66" width="13.62" height="29.68" fill="#e78768"/>
<rect x="1851.1" y="617.66" width="13.62" height="29.68" fill="#e8d4cb"/>
<rect x="1864.6" y="617.66" width="13.62" height="29.68" fill="#e9d1c6"/>
<rect x="1675.6" y="647.22" width="13.62" height="29.68" fill="#5168b5"/>
<rect x="1689.1" y="647.22" width="13.62" height="29.68" fill="#4458a9"/>
<rect x="1702.6" y="647.22" width="13.62" height="29.68" fill="#5168b5"/>
<rect x="1716.1" y="647.22" width="13.62" height="29.68" fill="#6682c6"/>
<rect x="1729.6" y="647.22" width="13.62" height="29.68" fill="#b7cbe7"/>
<rect x="1743.1" y="647.22" width="13.62" height="29.68" fill="#e3d8d2"/>
<rect x="1756.6" y="647.22" width="13.62" height="29.68" fill="#e3d8d2"/>
<rect x="1770.1" y="647.22" width="13.62" height="29.68" fill="#eecbba"/>
<rect x="1783.6" y="647.22" width="13.62" height="29.68" fill="#f0c6b2"/>
<rect x="1797.1" y="647.22" width="13.62" height="29.68" fill="#f0a486"/>
<rect x="1810.6" y="647.22" width="13.62" height="29.68" fill="#f2bba2"/>
<rect x="1824.1" y="647.22" width="13.62" height="29.68" fill="#f0a486"/>
<rect x="1837.6" y="647.22" width="13.62" height="29.68" fill="#dadcde"/>
<rect x="1851.1" y="647.22" width="13.62" height="29.68" fill="#dadcde"/>
<rect x="1662.1" y="676.78" width="13.62" height="29.68" fill="#556db9"/>
<rect x="1675.6" y="676.78" width="13.62" height="29.68" fill="#3d50a2"/>
<rect x="1689.1" y="676.78" width="13.62" height="29.68" fill="#5872bc"/>
<rect x="1702.6" y="676.78" width="13.62" height="29.68" fill="#87a3d8"/>
<rect x="1716.1" y="676.78" width="13.62" height="29.68" fill="#d3dae2"/>
<rect x="1729.6" y="676.78" width="13.62" height="29.68" fill="#f1bea7"/>
<rect x="1743.1" y="676.78" width="13.62" height="29.68" fill="#efc9b7"/>
<rect x="1756.6" y="676.78" width="13.62" height="29.68" fill="#f2b296"/>
<rect x="1770.1" y="676.78" width="13.62" height="29.68" fill="#f2af93"/>
<rect x="1783.6" y="676.78" width="13.62" height="29.68" fill="#e78768"/>
<rect x="1797.1" y="676.78" width="13.62" height="29.68" fill="#f0a283"/>
<rect x="1810.6" y="676.78" width="13.62" height="29.68" fill="#f2ab8e"/>
<rect x="1824.1" y="676.78" width="13.62" height="29.68" fill="#95afde"/>
<rect x="1837.6" y="676.78" width="13.62" height="29.68" fill="#9cb5e0"/>
<rect x="1648.6" y="706.34" width="13.62" height="29.68" fill="#4e65b3"/>
<rect x="1662.1" y="706.34" width="13.62" height="29.68" fill="#475dad"/>
<rect x="1675.6" y="706.34" width="13.62" height="29.68" fill="#5c75be"/>
<rect x="1689.1" y="706.34" width="13.62" height="29.68" fill="#607ac1"/>
<rect x="1702.6" y="706.34" width="13.62" height="29.68" fill="#adc3e5"/>
<rect x="1716.1" y="706.34" width="13.62" height="29.68" fill="#d6dbe1"/>
<rect x="1729.6" y="706.34" width="13.62" height="29.68" fill="#c8d5e5"/>
<rect x="1743.1" y="706.34" width="13.62" height="29.68" fill="#e1d9d5"/>
<rect x="1756.6" y="706.34" width="13.62" height="29.68" fill="#e8d4cb"/>
<rect x="1770.1" y="706.34" width="13.62" height="29.68" fill="#f2af93"/>
<rect x="1783.6" y="706.34" width="13.62" height="29.68" fill="#f1c0aa"/>
<rect x="1797.1" y="706.34" width="13.62" height="29.68" fill="#f2af93"/>
<rect x="1810.6" y="706.34" width="13.62" height="29.68" fill="#c3d2e6"/>
<rect x="1824.1" y="706.34" width="13.62" height="29.68" fill="#c8d5e5"/>
<rect x="1635.1" y="735.9" width="13.62" height="29.68" fill="#6985c8"/>
<rect x="1648.6" y="735.9" width="13.62" height="29.68" fill="#556db9"/>
<rect x="1662.1" y="735.9" width="13.62" height="29.68" fill="#4e65b3"/>
<rect x="1675.6" y="735.9" width="13.62" height="29.68" fill="#6985c8"/>
<rect x="1689.1" y="735.9" width="13.62" height="29.68" fill="#a0b9e2"/>
<rect x="1702.6" y="735.9" width="13.62" height="29.68" fill="#b9cce7"/>
<rect x="1716.1" y="735.9" width="13.62" height="29.68" fill="#a0b9e2"/>
<rect x="1729.6" y="735.9" width="13.62" height="29.68" fill="#b7cbe7"/>
<rect x="1743.1" y="735.9" width="13.62" height="29.68" fill="#b9cce7"/>
<rect x="1756.6" y="735.9" width="13.62" height="29.68" fill="#d6dbe1"/>
<rect x="1770.1" y="735.9" width="13.62" height="29.68" fill="#bdcee6"/>
<rect x="1783.6" y="735.9" width="13.62" height="29.68" fill="#e9d1c6"/>
<rect x="1797.1" y="735.9" width="13.62" height="29.68" fill="#bdcee6"/>
<rect x="1810.6" y="735.9" width="13.62" height="29.68" fill="#bfd0e7"/>
<rect x="1621.6" y="765.46" width="13.62" height="29.68" fill="#556db9"/>
<rect x="1635.1" y="765.46" width="13.62" height="29.68" fill="#607ac1"/>
<rect x="1648.6" y="765.46" width="13.62" height="29.68" fill="#708dcc"/>
<rect x="1662.1" y="765.46" width="13.62" height="29.68" fill="#839ed6"/>
<rect x="1675.6" y="765.46" width="13.62" height="29.68" fill="#b9cce7"/>
<rect x="1689.1" y="765.46" width="13.62" height="29.68" fill="#c5d4e6"/>
<rect x="1702.6" y="765.46" width="13.62" height="29.68" fill="#99b3e0"/>
<rect x="1716.1" y="765.46" width="13.62" height="29.68" fill="#b7cbe7"/>
<rect x="1729.6" y="765.46" width="13.62" height="29.68" fill="#a9c0e4"/>
<rect x="1743.1" y="765.46" width="13.62" height="29.68" fill="#c8d5e5"/>
<rect x="1756.6" y="765.46" width="13.62" height="29.68" fill="#a7bee4"/>
<rect x="1770.1" y="765.46" width="13.62" height="29.68" fill="#8ea9db"/>
<rect x="1783.6" y="765.46" width="13.62" height="29.68" fill="#d3dae2"/>
<rect x="1797.1" y="765.46" width="13.62" height="29.68" fill="#e1d9d5"/>
<rect x="1608.1" y="795.02" width="13.62" height="29.68" fill="#4458a9"/>
<rect x="1621.6" y="795.02" width="13.62" height="29.68" fill="#4458a9"/>
<rect x="1635.1" y="795.02" width="13.62" height="29.68" fill="#4e65b3"/>
<rect x="1648.6" y="795.02" width="13.62" height="29.68" fill="#4e65b3"/>
<rect x="1662.1" y="795.02" width="13.62" height="29.68" fill="#92addd"/>
<rect x="1675.6" y="795.02" width="13.62" height="29.68" fill="#8ea9db"/>
<rect x="1689.1" y="795.02" width="13.62" height="29.68" fill="#7b97d3"/>
<rect x="1702.6" y="795.02" width="13.62" height="29.68" fill="#87a3d8"/>
<rect x="1716.1" y="795.02" width="13.62" height="29.68" fill="#809cd5"/>
<rect x="1729.6" y="795.02" width="13.62" height="29.68" fill="#99b3e0"/>
<rect x="1743.1" y="795.02" width="13.62" height="29.68" fill="#8aa5da"/>
<rect x="1756.6" y="795.02" width="13.62" height="29.68" fill="#8ea9db"/>
<rect x="1770.1" y="795.02" width="13.62" height="29.68" fill="#adc3e5"/>
<rect x="1783.6" y="795.02" width="13.62" height="29.68" fill="#b3c8e6"/>
<rect x="1594.6" y="824.58" width="13.62" height="29.68" fill="#3d50a2"/>
<rect x="1608.1" y="824.58" width="13.62" height="29.68" fill="#4155a6"/>
<rect x="1621.6" y="824.58" width="13.62" height="29.68" fill="#4a60af"/>
<rect x="1635.1" y="824.58" width="13.62" height="29.68" fill="#4e65b3"/>
<rect x="1648.6" y="824.58" width="13.62" height="29.68" fill="#95afde"/>
<rect x="1662.1" y="824.58" width="13.62" height="29.68" fill="#9cb5e0"/>
<rect x="1675.6" y="824.58" width="13.62" height="29.68" fill="#7994d1"/>
<rect x="1689.1" y="824.58" width="13.62" height="29.68" fill="#92addd"/>
<rect x="1702.6" y="824.58" width="13.62" height="29.68" fill="#a0b9e2"/>
<rect x="1716.1" y="824.58" width="13.62" height="29.68" fill="#b3c8e6"/>
<rect x="1729.6" y="824.58" width="13.62" height="29.68" fill="#95afde"/>
<rect x="1743.1" y="824.58" width="13.62" height="29.68" fill="#b1c7e6"/>
<rect x="1756.6" y="824.58" width="13.62" height="29.68" fill="#d8dce0"/>
<rect x="1770.1" y="824.58" width="13.62" height="29.68" fill="#d8dce0"/>
<rect x="1581.1" y="854.14" width="13.62" height="29.68" fill="#475dad"/>
<rect x="1594.6" y="854.14" width="13.62" height="29.68" fill="#5872bc"/>
<rect x="1608.1" y="854.14" width="13.62" height="29.68" fill="#6e89ca"/>
<rect x="1621.6" y="854.14" width="13.62" height="29.68" fill="#708dcc"/>
<rect x="1635.1" y="854.14" width="13.62" height="29.68" fill="#c5d4e6"/>
<rect x="1648.6" y="854.14" width="13.62" height="29.68" fill="#c5d4e6"/>
<rect x="1662.1" y="854.14" width="13.62" height="29.68" fill="#b7cbe7"/>
<rect x="1675.6" y="854.14" width="13.62" height="29.68" fill="#c8d5e5"/>
<rect x="1689.1" y="854.14" width="13.62" height="29.68" fill="#d3dae2"/>
<rect x="1702.6" y="854.14" width="13.62" height="29.68" fill="#b9cce7"/>
<rect x="1716.1" y="854.14" width="13.62" height="29.68" fill="#a7bee4"/>
<rect x="1729.6" y="854.14" width="13.62" height="29.68" fill="#a0b9e2"/>
<rect x="1743.1" y="854.14" width="13.62" height="29.68" fill="#dc7155"/>
<rect x="1756.6" y="854.14" width="13.62" height="29.68" fill="#f0a283"/>
<linearGradient id="g_b6" x1="0" y1="0" x2="0" y2="1"><stop offset="0%" stop-color="#da6c51"/><stop offset="4.17%" stop-color="#e27c5e"/><stop offset="8.33%" stop-color="#e98a6b"/><stop offset="12.5%" stop-color="#ee9879"/><stop offset="16.67%" stop-color="#f1a587"/><stop offset="20.83%" stop-color="#f2b196"/><stop offset="25%" stop-color="#f2bca4"/><stop offset="29.17%" stop-color="#f0c6b2"/><stop offset="33.33%" stop-color="#eccfc1"/><stop offset="37.5%" stop-color="#e5d6cf"/><stop offset="41.67%" stop-color="#dddcdb"/><stop offset="45.83%" stop-color="#d5dae1"/><stop offset="50%" stop-color="#ccd7e5"/><stop offset="54.17%" stop-color="#c1d1e7"/><stop offset="58.33%" stop-color="#b6cae7"/><stop offset="62.5%" stop-color="#abc1e4"/><stop offset="66.67%" stop-color="#9fb8e1"/><stop offset="70.83%" stop-color="#92addd"/><stop offset="75%" stop-color="#85a1d8"/><stop offset="79.17%" stop-color="#7994d1"/><stop offset="83.33%" stop-color="#6b86c9"/><stop offset="87.5%" stop-color="#5f79c0"/><stop offset="91.67%" stop-color="#5269b6"/><stop offset="95.83%" stop-color="#465bab"/><stop offset="100%" stop-color="#3b4ca0"/></linearGradient>
<rect x="1911.2" y="587" width="15.8" height="296.2" fill="url(#g_b6)"/>
<rect x="1925.4" y="594.65" width="6.3" height="3.3" fill="#000"/>
<text x="1937.2" y="602.6" font-size="22.2" font-family="'DejaVu Sans', 'Liberation Sans', sans-serif" text-anchor="start" fill="#000" class="dj" >0.7</text>
<rect x="1925.4" y="652.45" width="6.3" height="3.3" fill="#000"/>
<text x="1937.2" y="660.4" font-size="22.2" font-family="'DejaVu Sans', 'Liberation Sans', sans-serif" text-anchor="start" fill="#000" class="dj" >0.6</text>
<rect x="1925.4" y="710.25" width="6.3" height="3.3" fill="#000"/>
<text x="1937.2" y="718.2" font-size="22.2" font-family="'DejaVu Sans', 'Liberation Sans', sans-serif" text-anchor="start" fill="#000" class="dj" >0.5</text>
<rect x="1925.4" y="768.05" width="6.3" height="3.3" fill="#000"/>
<text x="1937.2" y="776" font-size="22.2" font-family="'DejaVu Sans', 'Liberation Sans', sans-serif" text-anchor="start" fill="#000" class="dj" >0.4</text>
<rect x="1925.4" y="825.85" width="6.3" height="3.3" fill="#000"/>
<text x="1937.2" y="833.8" font-size="22.2" font-family="'DejaVu Sans', 'Liberation Sans', sans-serif" text-anchor="start" fill="#000" class="dj" >0.3</text>
<rect x="1586.2" y="883.7" width="3.3" height="6.0" fill="#000"/>
<text x="1582.55" y="908.8" font-size="22.2" font-family="'DejaVu Sans', 'Liberation Sans', sans-serif" text-anchor="start" fill="#000" class="dj" >4</text>
<rect x="1640.2" y="883.7" width="3.3" height="6.0" fill="#000"/>
<text x="1636.55" y="908.8" font-size="22.2" font-family="'DejaVu Sans', 'Liberation Sans', sans-serif" text-anchor="start" fill="#000" class="dj" >8</text>
<rect x="1694.2" y="883.7" width="3.3" height="6.0" fill="#000"/>
<text x="1685.26" y="908.8" font-size="22.2" font-family="'DejaVu Sans', 'Liberation Sans', sans-serif" text-anchor="start" fill="#000" class="dj" >12</text>
<rect x="1748.2" y="883.7" width="3.3" height="6.0" fill="#000"/>
<text x="1739.26" y="908.8" font-size="22.2" font-family="'DejaVu Sans', 'Liberation Sans', sans-serif" text-anchor="start" fill="#000" class="dj" >16</text>
<rect x="1802.2" y="883.7" width="3.3" height="6.0" fill="#000"/>
<text x="1793.26" y="908.8" font-size="22.2" font-family="'DejaVu Sans', 'Liberation Sans', sans-serif" text-anchor="start" fill="#000" class="dj" >20</text>
<rect x="1856.2" y="883.7" width="3.3" height="6.0" fill="#000"/>
<text x="1847.26" y="908.8" font-size="22.2" font-family="'DejaVu Sans', 'Liberation Sans', sans-serif" text-anchor="start" fill="#000" class="dj" >24</text>
<rect x="1614.45" y="883.7" width="0.8" height="5.6" fill="#999"/>
<rect x="1668.45" y="883.7" width="0.8" height="5.6" fill="#999"/>
<rect x="1722.45" y="883.7" width="0.8" height="5.6" fill="#999"/>
<rect x="1776.45" y="883.7" width="0.8" height="5.6" fill="#999"/>
<rect x="1830.45" y="883.7" width="0.8" height="5.6" fill="#999"/>
<rect x="1884.45" y="883.7" width="0.8" height="5.6" fill="#999"/>
<rect x="1575.1" y="601.23" width="6.0" height="3.3" fill="#000"/>
<text x="1548.51" y="608.48" font-size="22.2" font-family="'DejaVu Sans', 'Liberation Sans', sans-serif" text-anchor="start" fill="#000" class="dj" >11</text>
<rect x="1575.1" y="630.79" width="6.0" height="3.3" fill="#000"/>
<text x="1548.51" y="638.04" font-size="22.2" font-family="'DejaVu Sans', 'Liberation Sans', sans-serif" text-anchor="start" fill="#000" class="dj" >10</text>
<rect x="1575.1" y="660.35" width="6.0" height="3.3" fill="#000"/>
<text x="1559.11" y="667.6" font-size="22.2" font-family="'DejaVu Sans', 'Liberation Sans', sans-serif" text-anchor="start" fill="#000" class="dj" >9</text>
<rect x="1575.1" y="689.91" width="6.0" height="3.3" fill="#000"/>
<text x="1559.11" y="697.16" font-size="22.2" font-family="'DejaVu Sans', 'Liberation Sans', sans-serif" text-anchor="start" fill="#000" class="dj" >8</text>
<rect x="1575.1" y="719.47" width="6.0" height="3.3" fill="#000"/>
<text x="1559.11" y="726.72" font-size="22.2" font-family="'DejaVu Sans', 'Liberation Sans', sans-serif" text-anchor="start" fill="#000" class="dj" >7</text>
<rect x="1575.1" y="749.03" width="6.0" height="3.3" fill="#000"/>
<text x="1559.11" y="756.28" font-size="22.2" font-family="'DejaVu Sans', 'Liberation Sans', sans-serif" text-anchor="start" fill="#000" class="dj" >6</text>
<rect x="1575.1" y="778.59" width="6.0" height="3.3" fill="#000"/>
<text x="1559.11" y="785.84" font-size="22.2" font-family="'DejaVu Sans', 'Liberation Sans', sans-serif" text-anchor="start" fill="#000" class="dj" >5</text>
<rect x="1575.1" y="808.15" width="6.0" height="3.3" fill="#000"/>
<text x="1559.11" y="815.4" font-size="22.2" font-family="'DejaVu Sans', 'Liberation Sans', sans-serif" text-anchor="start" fill="#000" class="dj" >4</text>
<rect x="1575.1" y="837.71" width="6.0" height="3.3" fill="#000"/>
<text x="1559.11" y="844.96" font-size="22.2" font-family="'DejaVu Sans', 'Liberation Sans', sans-serif" text-anchor="start" fill="#000" class="dj" >3</text>
<rect x="1575.1" y="867.27" width="6.0" height="3.3" fill="#000"/>
<text x="1559.11" y="874.52" font-size="22.2" font-family="'DejaVu Sans', 'Liberation Sans', sans-serif" text-anchor="start" fill="#000" class="dj" >2</text>
<text x="1693.57" y="932.3" font-size="22.5" font-family="'DejaVu Sans', 'Liberation Sans', sans-serif" text-anchor="start" fill="#000" class="dj" >Tail length</text>
<text transform="translate(1539.1,796.59) rotate(-90)" font-size="22.7" font-family="'DejaVu Sans', 'Liberation Sans', sans-serif" fill="#000" class="dj">Linker position</text>
</g>
<g class="hm" id="c1">
<rect x="222.1" y="1109.4" width="16.31" height="27" fill="#c8d5e5"/>
<rect x="238.29" y="1109.4" width="16.31" height="27" fill="#d6dbe1"/>
<rect x="254.48" y="1109.4" width="16.31" height="27" fill="#d0d9e3"/>
<rect x="270.67" y="1109.4" width="16.31" height="27" fill="#f1c4af"/>
<rect x="286.86" y="1109.4" width="16.31" height="27" fill="#f1bea7"/>
<rect x="303.05" y="1109.4" width="16.31" height="27" fill="#ed9677"/>
<rect x="319.24" y="1109.4" width="16.31" height="27" fill="#ed9677"/>
<rect x="335.43" y="1109.4" width="16.31" height="27" fill="#f0a283"/>
<rect x="351.62" y="1109.4" width="16.31" height="27" fill="#c54a3a"/>
<rect x="367.81" y="1109.4" width="16.31" height="27" fill="#f2a88b"/>
<rect x="205.91" y="1136.28" width="16.31" height="27" fill="#87a3d8"/>
<rect x="222.1" y="1136.28" width="16.31" height="27" fill="#bdcee6"/>
<rect x="238.29" y="1136.28" width="16.31" height="27" fill="#d3dae2"/>
<rect x="254.48" y="1136.28" width="16.31" height="27" fill="#edcdbf"/>
<rect x="270.67" y="1136.28" width="16.31" height="27" fill="#f1c0aa"/>
<rect x="286.86" y="1136.28" width="16.31" height="27" fill="#f2a88b"/>
<rect x="303.05" y="1136.28" width="16.31" height="27" fill="#ec9172"/>
<rect x="319.24" y="1136.28" width="16.31" height="27" fill="#ee997a"/>
<rect x="335.43" y="1136.28" width="16.31" height="27" fill="#e17a5c"/>
<rect x="351.62" y="1136.28" width="16.31" height="27" fill="#e37e60"/>
<rect x="367.81" y="1136.28" width="16.31" height="27" fill="#f2ab8e"/>
<rect x="189.72" y="1163.16" width="16.31" height="27" fill="#dddcdc"/>
<rect x="205.91" y="1163.16" width="16.31" height="27" fill="#9cb5e0"/>
<rect x="222.1" y="1163.16" width="16.31" height="27" fill="#a3bbe2"/>
<rect x="238.29" y="1163.16" width="16.31" height="27" fill="#ccd7e5"/>
<rect x="254.48" y="1163.16" width="16.31" height="27" fill="#dfdbd9"/>
<rect x="270.67" y="1163.16" width="16.31" height="27" fill="#edcdbf"/>
<rect x="286.86" y="1163.16" width="16.31" height="27" fill="#f1c0aa"/>
<rect x="303.05" y="1163.16" width="16.31" height="27" fill="#f0c6b2"/>
<rect x="319.24" y="1163.16" width="16.31" height="27" fill="#f2ab8e"/>
<rect x="335.43" y="1163.16" width="16.31" height="27" fill="#f1c4af"/>
<rect x="351.62" y="1163.16" width="16.31" height="27" fill="#ef9d7e"/>
<rect x="367.81" y="1163.16" width="16.31" height="27" fill="#e3d8d2"/>
<rect x="173.53" y="1190.05" width="16.31" height="27" fill="#edcdbf"/>
<rect x="189.72" y="1190.05" width="16.31" height="27" fill="#d8dce0"/>
<rect x="205.91" y="1190.05" width="16.31" height="27" fill="#a7bee4"/>
<rect x="222.1" y="1190.05" width="16.31" height="27" fill="#bfd0e7"/>
<rect x="238.29" y="1190.05" width="16.31" height="27" fill="#e1d9d5"/>
<rect x="254.48" y="1190.05" width="16.31" height="27" fill="#dddcdc"/>
<rect x="270.67" y="1190.05" width="16.31" height="27" fill="#f0c6b2"/>
<rect x="286.86" y="1190.05" width="16.31" height="27" fill="#f2b296"/>
<rect x="303.05" y="1190.05" width="16.31" height="27" fill="#f0a486"/>
<rect x="319.24" y="1190.05" width="16.31" height="27" fill="#f0a486"/>
<rect x="335.43" y="1190.05" width="16.31" height="27" fill="#f3b89f"/>
<rect x="351.62" y="1190.05" width="16.31" height="27" fill="#ea8f6f"/>
<rect x="367.81" y="1190.05" width="16.31" height="27" fill="#f3b89f"/>
<rect x="157.34" y="1216.93" width="16.31" height="27" fill="#ced8e4"/>
<rect x="173.53" y="1216.93" width="16.31" height="27" fill="#dddcdc"/>
<rect x="189.72" y="1216.93" width="16.31" height="27" fill="#c5d4e6"/>
<rect x="205.91" y="1216.93" width="16.31" height="27" fill="#bdcee6"/>
<rect x="222.1" y="1216.93" width="16.31" height="27" fill="#d6dbe1"/>
<rect x="238.29" y="1216.93" width="16.31" height="27" fill="#eecbba"/>
<rect x="254.48" y="1216.93" width="16.31" height="27" fill="#f2af93"/>
<rect x="270.67" y="1216.93" width="16.31" height="27" fill="#ef9d7e"/>
<rect x="286.86" y="1216.93" width="16.31" height="27" fill="#e17a5c"/>
<rect x="303.05" y="1216.93" width="16.31" height="27" fill="#d8694e"/>
<rect x="319.24" y="1216.93" width="16.31" height="27" fill="#d8694e"/>
<rect x="335.43" y="1216.93" width="16.31" height="27" fill="#da6c51"/>
<rect x="351.62" y="1216.93" width="16.31" height="27" fill="#c54a3a"/>
<rect x="367.81" y="1216.93" width="16.31" height="27" fill="#e17a5c"/>
<rect x="141.15" y="1243.81" width="16.31" height="27" fill="#f2bba2"/>
<rect x="157.34" y="1243.81" width="16.31" height="27" fill="#d6dbe1"/>
<rect x="173.53" y="1243.81" width="16.31" height="27" fill="#b3c8e6"/>
<rect x="189.72" y="1243.81" width="16.31" height="27" fill="#b9cce7"/>
<rect x="205.91" y="1243.81" width="16.31" height="27" fill="#b7cbe7"/>
<rect x="222.1" y="1243.81" width="16.31" height="27" fill="#d0d9e3"/>
<rect x="238.29" y="1243.81" width="16.31" height="27" fill="#e8d4cb"/>
<rect x="254.48" y="1243.81" width="16.31" height="27" fill="#f2b59b"/>
<rect x="270.67" y="1243.81" width="16.31" height="27" fill="#ea8f6f"/>
<rect x="286.86" y="1243.81" width="16.31" height="27" fill="#ec9172"/>
<rect x="303.05" y="1243.81" width="16.31" height="27" fill="#ef9d7e"/>
<rect x="319.24" y="1243.81" width="16.31" height="27" fill="#f2af93"/>
<rect x="335.43" y="1243.81" width="16.31" height="27" fill="#f2bba2"/>
<rect x="351.62" y="1243.81" width="16.31" height="27" fill="#f2b296"/>
<rect x="367.81" y="1243.81" width="16.31" height="27" fill="#f2bba2"/>
<rect x="124.96" y="1270.69" width="16.31" height="27" fill="#f2bba2"/>
<rect x="141.15" y="1270.69" width="16.31" height="27" fill="#f1bea7"/>
<rect x="157.34" y="1270.69" width="16.31" height="27" fill="#f3b89f"/>
<rect x="173.53" y="1270.69" width="16.31" height="27" fill="#f2af93"/>
<rect x="189.72" y="1270.69" width="16.31" height="27" fill="#f0a283"/>
<rect x="205.91" y="1270.69" width="16.31" height="27" fill="#ee997a"/>
<rect x="222.1" y="1270.69" width="16.31" height="27" fill="#e78768"/>
<rect x="238.29" y="1270.69" width="16.31" height="27" fill="#e58263"/>
<rect x="254.48" y="1270.69" width="16.31" height="27" fill="#e58263"/>
<rect x="270.67" y="1270.69" width="16.31" height="27" fill="#da6c51"/>
<rect x="286.86" y="1270.69" width="16.31" height="27" fill="#cf5a44"/>
<rect x="303.05" y="1270.69" width="16.31" height="27" fill="#cd5641"/>
<rect x="319.24" y="1270.69" width="16.31" height="27" fill="#c54a3a"/>
<rect x="335.43" y="1270.69" width="16.31" height="27" fill="#c34537"/>
<rect x="351.62" y="1270.69" width="16.31" height="27" fill="#c34537"/>
<rect x="367.81" y="1270.69" width="16.31" height="27" fill="#c34537"/>
<rect x="108.77" y="1297.57" width="16.31" height="27" fill="#b3c8e6"/>
<rect x="124.96" y="1297.57" width="16.31" height="27" fill="#d3dae2"/>
<rect x="141.15" y="1297.57" width="16.31" height="27" fill="#d0d9e3"/>
<rect x="157.34" y="1297.57" width="16.31" height="27" fill="#d3dae2"/>
<rect x="173.53" y="1297.57" width="16.31" height="27" fill="#dadcde"/>
<rect x="189.72" y="1297.57" width="16.31" height="27" fill="#d0d9e3"/>
<rect x="205.91" y="1297.57" width="16.31" height="27" fill="#edcdbf"/>
<rect x="222.1" y="1297.57" width="16.31" height="27" fill="#d3dae2"/>
<rect x="238.29" y="1297.57" width="16.31" height="27" fill="#dfdbd9"/>
<rect x="254.48" y="1297.57" width="16.31" height="27" fill="#e8d4cb"/>
<rect x="270.67" y="1297.57" width="16.31" height="27" fill="#ebd0c3"/>
<rect x="286.86" y="1297.57" width="16.31" height="27" fill="#edcdbf"/>
<rect x="303.05" y="1297.57" width="16.31" height="27" fill="#edcdbf"/>
<rect x="319.24" y="1297.57" width="16.31" height="27" fill="#edcdbf"/>
<rect x="335.43" y="1297.57" width="16.31" height="27" fill="#dddcdc"/>
<rect x="351.62" y="1297.57" width="16.31" height="27" fill="#bfd0e7"/>
<rect x="367.81" y="1297.57" width="16.31" height="27" fill="#95afde"/>
<rect x="92.58" y="1324.45" width="16.31" height="27" fill="#9cb5e0"/>
<rect x="108.77" y="1324.45" width="16.31" height="27" fill="#92addd"/>
<rect x="124.96" y="1324.45" width="16.31" height="27" fill="#b9cce7"/>
<rect x="141.15" y="1324.45" width="16.31" height="27" fill="#c8d5e5"/>
<rect x="157.34" y="1324.45" width="16.31" height="27" fill="#dddcdc"/>
<rect x="173.53" y="1324.45" width="16.31" height="27" fill="#dddcdc"/>
<rect x="189.72" y="1324.45" width="16.31" height="27" fill="#e6d6ce"/>
<rect x="205.91" y="1324.45" width="16.31" height="27" fill="#e8d4cb"/>
<rect x="222.1" y="1324.45" width="16.31" height="27" fill="#e3d8d2"/>
<rect x="238.29" y="1324.45" width="16.31" height="27" fill="#e6d6ce"/>
<rect x="254.48" y="1324.45" width="16.31" height="27" fill="#eecbba"/>
<rect x="270.67" y="1324.45" width="16.31" height="27" fill="#f2ab8e"/>
<rect x="286.86" y="1324.45" width="16.31" height="27" fill="#ef9d7e"/>
<rect x="303.05" y="1324.45" width="16.31" height="27" fill="#e88a6b"/>
<rect x="319.24" y="1324.45" width="16.31" height="27" fill="#da6c51"/>
<rect x="335.43" y="1324.45" width="16.31" height="27" fill="#da6c51"/>
<rect x="351.62" y="1324.45" width="16.31" height="27" fill="#e17a5c"/>
<rect x="367.81" y="1324.45" width="16.31" height="27" fill="#e58263"/>
<rect x="76.39" y="1351.34" width="16.31" height="27" fill="#9cb5e0"/>
<rect x="92.58" y="1351.34" width="16.31" height="27" fill="#8ea9db"/>
<rect x="108.77" y="1351.34" width="16.31" height="27" fill="#8aa5da"/>
<rect x="124.96" y="1351.34" width="16.31" height="27" fill="#a3bbe2"/>
<rect x="141.15" y="1351.34" width="16.31" height="27" fill="#b3c8e6"/>
<rect x="157.34" y="1351.34" width="16.31" height="27" fill="#a9c0e4"/>
<rect x="173.53" y="1351.34" width="16.31" height="27" fill="#a9c0e4"/>
<rect x="189.72" y="1351.34" width="16.31" height="27" fill="#a7bee4"/>
<rect x="205.91" y="1351.34" width="16.31" height="27" fill="#adc3e5"/>
<rect x="222.1" y="1351.34" width="16.31" height="27" fill="#b9cce7"/>
<rect x="238.29" y="1351.34" width="16.31" height="27" fill="#bdcee6"/>
<rect x="254.48" y="1351.34" width="16.31" height="27" fill="#d0d9e3"/>
<rect x="270.67" y="1351.34" width="16.31" height="27" fill="#e3d8d2"/>
<rect x="286.86" y="1351.34" width="16.31" height="27" fill="#efc9b7"/>
<rect x="303.05" y="1351.34" width="16.31" height="27" fill="#efc9b7"/>
<rect x="319.24" y="1351.34" width="16.31" height="27" fill="#ef9d7e"/>
<rect x="335.43" y="1351.34" width="16.31" height="27" fill="#f0a283"/>
<rect x="351.62" y="1351.34" width="16.31" height="27" fill="#ea8f6f"/>
<rect x="367.81" y="1351.34" width="16.31" height="27" fill="#ea8f6f"/>
<rect x="60.2" y="1378.22" width="16.31" height="27" fill="#809cd5"/>
<rect x="76.39" y="1378.22" width="16.31" height="27" fill="#8aa5da"/>
<rect x="92.58" y="1378.22" width="16.31" height="27" fill="#87a3d8"/>
<rect x="108.77" y="1378.22" width="16.31" height="27" fill="#809cd5"/>
<rect x="124.96" y="1378.22" width="16.31" height="27" fill="#839ed6"/>
<rect x="141.15" y="1378.22" width="16.31" height="27" fill="#7b97d3"/>
<rect x="157.34" y="1378.22" width="16.31" height="27" fill="#708dcc"/>
<rect x="173.53" y="1378.22" width="16.31" height="27" fill="#6682c6"/>
<rect x="189.72" y="1378.22" width="16.31" height="27" fill="#627dc3"/>
<rect x="205.91" y="1378.22" width="16.31" height="27" fill="#627dc3"/>
<rect x="222.1" y="1378.22" width="16.31" height="27" fill="#4e65b3"/>
<rect x="238.29" y="1378.22" width="16.31" height="27" fill="#475dad"/>
<rect x="254.48" y="1378.22" width="16.31" height="27" fill="#4155a6"/>
<rect x="270.67" y="1378.22" width="16.31" height="27" fill="#3d50a2"/>
<rect x="286.86" y="1378.22" width="16.31" height="27" fill="#3b4ca0"/>
<rect x="303.05" y="1378.22" width="16.31" height="27" fill="#3b4ca0"/>
<rect x="319.24" y="1378.22" width="16.31" height="27" fill="#3b4ca0"/>
<rect x="335.43" y="1378.22" width="16.31" height="27" fill="#3b4ca0"/>
<rect x="351.62" y="1378.22" width="16.31" height="27" fill="#3b4ca0"/>
<rect x="367.81" y="1378.22" width="16.31" height="27" fill="#3b4ca0"/>
<linearGradient id="g_c1" x1="0" y1="0" x2="0" y2="1"><stop offset="0%" stop-color="#c44839"/><stop offset="4.17%" stop-color="#d05d46"/><stop offset="8.33%" stop-color="#db6e53"/><stop offset="12.5%" stop-color="#e48061"/><stop offset="16.67%" stop-color="#eb8f70"/><stop offset="20.83%" stop-color="#ef9e7f"/><stop offset="25%" stop-color="#f2ab8e"/><stop offset="29.17%" stop-color="#f3b89f"/><stop offset="33.33%" stop-color="#f1c3ae"/><stop offset="37.5%" stop-color="#edccbd"/><stop offset="41.67%" stop-color="#e6d5cd"/><stop offset="45.83%" stop-color="#dedbda"/><stop offset="50%" stop-color="#d5dae1"/><stop offset="54.17%" stop-color="#cbd6e5"/><stop offset="58.33%" stop-color="#bfd0e7"/><stop offset="62.5%" stop-color="#b3c8e6"/><stop offset="66.67%" stop-color="#a7bee4"/><stop offset="70.83%" stop-color="#9ab3e0"/><stop offset="75%" stop-color="#8ba6da"/><stop offset="79.17%" stop-color="#7d9ad4"/><stop offset="83.33%" stop-color="#6f8bcb"/><stop offset="87.5%" stop-color="#617cc2"/><stop offset="91.67%" stop-color="#546cb8"/><stop offset="95.83%" stop-color="#475dac"/><stop offset="100%" stop-color="#3b4ca0"/></linearGradient>
<rect x="403.1" y="1109.4" width="15.1" height="295.7" fill="url(#g_c1)"/>
<rect x="418.8" y="1150.25" width="6.3" height="3.3" fill="#000"/>
<text x="430.6" y="1158.2" font-size="22.2" font-family="'DejaVu Sans', 'Liberation Sans', sans-serif" text-anchor="start" fill="#000" class="dj" >0.8</text>
<rect x="418.8" y="1213.65" width="6.3" height="3.3" fill="#000"/>
<text x="430.6" y="1221.6" font-size="22.2" font-family="'DejaVu Sans', 'Liberation Sans', sans-serif" text-anchor="start" fill="#000" class="dj" >0.6</text>
<rect x="418.8" y="1277.05" width="6.3" height="3.3" fill="#000"/>
<text x="430.6" y="1285" font-size="22.2" font-family="'DejaVu Sans', 'Liberation Sans', sans-serif" text-anchor="start" fill="#000" class="dj" >0.4</text>
<rect x="418.8" y="1340.45" width="6.3" height="3.3" fill="#000"/>
<text x="430.6" y="1348.4" font-size="22.2" font-family="'DejaVu Sans', 'Liberation Sans', sans-serif" text-anchor="start" fill="#000" class="dj" >0.2</text>
<rect x="66.64" y="1405.1" width="3.3" height="6.0" fill="#000"/>
<text x="63" y="1430.2" font-size="22.2" font-family="'DejaVu Sans', 'Liberation Sans', sans-serif" text-anchor="start" fill="#000" class="dj" >4</text>
<rect x="99.03" y="1405.1" width="3.3" height="6.0" fill="#000"/>
<text x="95.38" y="1430.2" font-size="22.2" font-family="'DejaVu Sans', 'Liberation Sans', sans-serif" text-anchor="start" fill="#000" class="dj" >6</text>
<rect x="131.41" y="1405.1" width="3.3" height="6.0" fill="#000"/>
<text x="127.76" y="1430.2" font-size="22.2" font-family="'DejaVu Sans', 'Liberation Sans', sans-serif" text-anchor="start" fill="#000" class="dj" >8</text>
<rect x="163.78" y="1405.1" width="3.3" height="6.0" fill="#000"/>
<text x="154.84" y="1430.2" font-size="22.2" font-family="'DejaVu Sans', 'Liberation Sans', sans-serif" text-anchor="start" fill="#000" class="dj" >10</text>
<rect x="196.16" y="1405.1" width="3.3" height="6.0" fill="#000"/>
<text x="187.22" y="1430.2" font-size="22.2" font-family="'DejaVu Sans', 'Liberation Sans', sans-serif" text-anchor="start" fill="#000" class="dj" >12</text>
<rect x="228.54" y="1405.1" width="3.3" height="6.0" fill="#000"/>
<text x="219.6" y="1430.2" font-size="22.2" font-family="'DejaVu Sans', 'Liberation Sans', sans-serif" text-anchor="start" fill="#000" class="dj" >14</text>
<rect x="260.93" y="1405.1" width="3.3" height="6.0" fill="#000"/>
<text x="251.98" y="1430.2" font-size="22.2" font-family="'DejaVu Sans', 'Liberation Sans', sans-serif" text-anchor="start" fill="#000" class="dj" >16</text>
<rect x="293.31" y="1405.1" width="3.3" height="6.0" fill="#000"/>
<text x="284.36" y="1430.2" font-size="22.2" font-family="'DejaVu Sans', 'Liberation Sans', sans-serif" text-anchor="start" fill="#000" class="dj" >18</text>
<rect x="325.69" y="1405.1" width="3.3" height="6.0" fill="#000"/>
<text x="316.74" y="1430.2" font-size="22.2" font-family="'DejaVu Sans', 'Liberation Sans', sans-serif" text-anchor="start" fill="#000" class="dj" >20</text>
<rect x="358.07" y="1405.1" width="3.3" height="6.0" fill="#000"/>
<text x="349.12" y="1430.2" font-size="22.2" font-family="'DejaVu Sans', 'Liberation Sans', sans-serif" text-anchor="start" fill="#000" class="dj" >22</text>
<rect x="54.2" y="1121.19" width="6.0" height="3.3" fill="#000"/>
<text x="27.61" y="1127.84" font-size="22.2" font-family="'DejaVu Sans', 'Liberation Sans', sans-serif" text-anchor="start" fill="#000" class="dj" >10</text>
<rect x="54.2" y="1148.07" width="6.0" height="3.3" fill="#000"/>
<text x="38.21" y="1154.73" font-size="22.2" font-family="'DejaVu Sans', 'Liberation Sans', sans-serif" text-anchor="start" fill="#000" class="dj" >9</text>
<rect x="54.2" y="1174.95" width="6.0" height="3.3" fill="#000"/>
<text x="38.21" y="1181.61" font-size="22.2" font-family="'DejaVu Sans', 'Liberation Sans', sans-serif" text-anchor="start" fill="#000" class="dj" >8</text>
<rect x="54.2" y="1201.84" width="6.0" height="3.3" fill="#000"/>
<text x="38.21" y="1208.49" font-size="22.2" font-family="'DejaVu Sans', 'Liberation Sans', sans-serif" text-anchor="start" fill="#000" class="dj" >7</text>
<rect x="54.2" y="1228.72" width="6.0" height="3.3" fill="#000"/>
<text x="38.21" y="1235.37" font-size="22.2" font-family="'DejaVu Sans', 'Liberation Sans', sans-serif" text-anchor="start" fill="#000" class="dj" >6</text>
<rect x="54.2" y="1255.6" width="6.0" height="3.3" fill="#000"/>
<text x="38.21" y="1262.25" font-size="22.2" font-family="'DejaVu Sans', 'Liberation Sans', sans-serif" text-anchor="start" fill="#000" class="dj" >5</text>
<rect x="54.2" y="1282.48" width="6.0" height="3.3" fill="#000"/>
<text x="38.21" y="1289.13" font-size="22.2" font-family="'DejaVu Sans', 'Liberation Sans', sans-serif" text-anchor="start" fill="#000" class="dj" >4</text>
<rect x="54.2" y="1309.36" width="6.0" height="3.3" fill="#000"/>
<text x="38.21" y="1316.02" font-size="22.2" font-family="'DejaVu Sans', 'Liberation Sans', sans-serif" text-anchor="start" fill="#000" class="dj" >3</text>
<rect x="54.2" y="1336.25" width="6.0" height="3.3" fill="#000"/>
<text x="38.21" y="1342.9" font-size="22.2" font-family="'DejaVu Sans', 'Liberation Sans', sans-serif" text-anchor="start" fill="#000" class="dj" >2</text>
<rect x="54.2" y="1363.13" width="6.0" height="3.3" fill="#000"/>
<text x="38.21" y="1369.78" font-size="22.2" font-family="'DejaVu Sans', 'Liberation Sans', sans-serif" text-anchor="start" fill="#000" class="dj" >1</text>
<rect x="54.2" y="1390.01" width="6.0" height="3.3" fill="#000"/>
<text x="38.21" y="1396.66" font-size="22.2" font-family="'DejaVu Sans', 'Liberation Sans', sans-serif" text-anchor="start" fill="#000" class="dj" >0</text>
<text x="179.32" y="1452.3" font-size="22.5" font-family="'DejaVu Sans', 'Liberation Sans', sans-serif" text-anchor="start" fill="#000" class="dj" >Tail length</text>
<text transform="translate(16.9,1316.52) rotate(-90)" font-size="22.7" font-family="'DejaVu Sans', 'Liberation Sans', sans-serif" fill="#000" class="dj">Branch length</text>
</g>
<g class="hm" id="c2">
<rect x="728.28" y="1109.4" width="17.15" height="29.69" fill="#adc3e5"/>
<rect x="745.32" y="1109.4" width="17.15" height="29.69" fill="#8aa5da"/>
<rect x="762.35" y="1109.4" width="17.15" height="29.69" fill="#809cd5"/>
<rect x="779.38" y="1109.4" width="17.15" height="29.69" fill="#4e65b3"/>
<rect x="796.41" y="1109.4" width="17.15" height="29.69" fill="#e1d9d5"/>
<rect x="813.44" y="1109.4" width="17.15" height="29.69" fill="#f2ab8e"/>
<rect x="830.47" y="1109.4" width="17.15" height="29.69" fill="#f0a486"/>
<rect x="847.51" y="1109.4" width="17.15" height="29.69" fill="#f2a88b"/>
<rect x="864.54" y="1109.4" width="17.15" height="29.69" fill="#e78768"/>
<rect x="881.57" y="1109.4" width="17.15" height="29.69" fill="#f2af93"/>
<rect x="711.25" y="1138.97" width="17.15" height="29.69" fill="#bfd0e7"/>
<rect x="728.28" y="1138.97" width="17.15" height="29.69" fill="#a9c0e4"/>
<rect x="745.32" y="1138.97" width="17.15" height="29.69" fill="#95afde"/>
<rect x="762.35" y="1138.97" width="17.15" height="29.69" fill="#7491cf"/>
<rect x="779.38" y="1138.97" width="17.15" height="29.69" fill="#a0b9e2"/>
<rect x="796.41" y="1138.97" width="17.15" height="29.69" fill="#f1c4af"/>
<rect x="813.44" y="1138.97" width="17.15" height="29.69" fill="#ef9d7e"/>
<rect x="830.47" y="1138.97" width="17.15" height="29.69" fill="#ee997a"/>
<rect x="847.51" y="1138.97" width="17.15" height="29.69" fill="#e88a6b"/>
<rect x="864.54" y="1138.97" width="17.15" height="29.69" fill="#ec9172"/>
<rect x="881.57" y="1138.97" width="17.15" height="29.69" fill="#ef9d7e"/>
<rect x="694.22" y="1168.54" width="17.15" height="29.69" fill="#839ed6"/>
<rect x="711.25" y="1168.54" width="17.15" height="29.69" fill="#a9c0e4"/>
<rect x="728.28" y="1168.54" width="17.15" height="29.69" fill="#adc3e5"/>
<rect x="745.32" y="1168.54" width="17.15" height="29.69" fill="#adc3e5"/>
<rect x="762.35" y="1168.54" width="17.15" height="29.69" fill="#d6dbe1"/>
<rect x="779.38" y="1168.54" width="17.15" height="29.69" fill="#edcdbf"/>
<rect x="796.41" y="1168.54" width="17.15" height="29.69" fill="#e78768"/>
<rect x="813.44" y="1168.54" width="17.15" height="29.69" fill="#dc7155"/>
<rect x="830.47" y="1168.54" width="17.15" height="29.69" fill="#d8694e"/>
<rect x="847.51" y="1168.54" width="17.15" height="29.69" fill="#da6c51"/>
<rect x="864.54" y="1168.54" width="17.15" height="29.69" fill="#e17a5c"/>
<rect x="881.57" y="1168.54" width="17.15" height="29.69" fill="#e58263"/>
<rect x="677.19" y="1198.11" width="17.15" height="29.69" fill="#adc3e5"/>
<rect x="694.22" y="1198.11" width="17.15" height="29.69" fill="#809cd5"/>
<rect x="711.25" y="1198.11" width="17.15" height="29.69" fill="#a9c0e4"/>
<rect x="728.28" y="1198.11" width="17.15" height="29.69" fill="#95afde"/>
<rect x="745.32" y="1198.11" width="17.15" height="29.69" fill="#99b3e0"/>
<rect x="762.35" y="1198.11" width="17.15" height="29.69" fill="#b7cbe7"/>
<rect x="779.38" y="1198.11" width="17.15" height="29.69" fill="#dfdbd9"/>
<rect x="796.41" y="1198.11" width="17.15" height="29.69" fill="#f1bea7"/>
<rect x="813.44" y="1198.11" width="17.15" height="29.69" fill="#ed9677"/>
<rect x="830.47" y="1198.11" width="17.15" height="29.69" fill="#f2ab8e"/>
<rect x="847.51" y="1198.11" width="17.15" height="29.69" fill="#f0a283"/>
<rect x="864.54" y="1198.11" width="17.15" height="29.69" fill="#f2af93"/>
<rect x="881.57" y="1198.11" width="17.15" height="29.69" fill="#f1c4af"/>
<rect x="660.16" y="1227.68" width="17.15" height="29.69" fill="#708dcc"/>
<rect x="677.19" y="1227.68" width="17.15" height="29.69" fill="#9cb5e0"/>
<rect x="694.22" y="1227.68" width="17.15" height="29.69" fill="#b7cbe7"/>
<rect x="711.25" y="1227.68" width="17.15" height="29.69" fill="#c5d4e6"/>
<rect x="728.28" y="1227.68" width="17.15" height="29.69" fill="#c5d4e6"/>
<rect x="745.32" y="1227.68" width="17.15" height="29.69" fill="#edcdbf"/>
<rect x="762.35" y="1227.68" width="17.15" height="29.69" fill="#f3b89f"/>
<rect x="779.38" y="1227.68" width="17.15" height="29.69" fill="#ef9d7e"/>
<rect x="796.41" y="1227.68" width="17.15" height="29.69" fill="#e58263"/>
<rect x="813.44" y="1227.68" width="17.15" height="29.69" fill="#da6c51"/>
<rect x="830.47" y="1227.68" width="17.15" height="29.69" fill="#d5634a"/>
<rect x="847.51" y="1227.68" width="17.15" height="29.69" fill="#d25f47"/>
<rect x="864.54" y="1227.68" width="17.15" height="29.69" fill="#d25f47"/>
<rect x="881.57" y="1227.68" width="17.15" height="29.69" fill="#da6c51"/>
<rect x="643.13" y="1257.25" width="17.15" height="29.69" fill="#a7bee4"/>
<rect x="660.16" y="1257.25" width="17.15" height="29.69" fill="#b7cbe7"/>
<rect x="677.19" y="1257.25" width="17.15" height="29.69" fill="#c5d4e6"/>
<rect x="694.22" y="1257.25" width="17.15" height="29.69" fill="#c5d4e6"/>
<rect x="711.25" y="1257.25" width="17.15" height="29.69" fill="#b7cbe7"/>
<rect x="728.28" y="1257.25" width="17.15" height="29.69" fill="#c3d2e6"/>
<rect x="745.32" y="1257.25" width="17.15" height="29.69" fill="#ced8e4"/>
<rect x="762.35" y="1257.25" width="17.15" height="29.69" fill="#e9d1c6"/>
<rect x="779.38" y="1257.25" width="17.15" height="29.69" fill="#f0c6b2"/>
<rect x="796.41" y="1257.25" width="17.15" height="29.69" fill="#f3b89f"/>
<rect x="813.44" y="1257.25" width="17.15" height="29.69" fill="#ea8f6f"/>
<rect x="830.47" y="1257.25" width="17.15" height="29.69" fill="#e78768"/>
<rect x="847.51" y="1257.25" width="17.15" height="29.69" fill="#e37e60"/>
<rect x="864.54" y="1257.25" width="17.15" height="29.69" fill="#d8694e"/>
<rect x="881.57" y="1257.25" width="17.15" height="29.69" fill="#de7458"/>
<rect x="626.09" y="1286.82" width="17.15" height="29.69" fill="#d8dce0"/>
<rect x="643.13" y="1286.82" width="17.15" height="29.69" fill="#e8d4cb"/>
<rect x="660.16" y="1286.82" width="17.15" height="29.69" fill="#f2bba2"/>
<rect x="677.19" y="1286.82" width="17.15" height="29.69" fill="#f2bba2"/>
<rect x="694.22" y="1286.82" width="17.15" height="29.69" fill="#f1c0aa"/>
<rect x="711.25" y="1286.82" width="17.15" height="29.69" fill="#f2bba2"/>
<rect x="728.28" y="1286.82" width="17.15" height="29.69" fill="#f3b89f"/>
<rect x="745.32" y="1286.82" width="17.15" height="29.69" fill="#ec9172"/>
<rect x="762.35" y="1286.82" width="17.15" height="29.69" fill="#de7458"/>
<rect x="779.38" y="1286.82" width="17.15" height="29.69" fill="#dc7155"/>
<rect x="796.41" y="1286.82" width="17.15" height="29.69" fill="#be3e34"/>
<rect x="813.44" y="1286.82" width="17.15" height="29.69" fill="#b02028"/>
<rect x="830.47" y="1286.82" width="17.15" height="29.69" fill="#ad1926"/>
<rect x="847.51" y="1286.82" width="17.15" height="29.69" fill="#ad1926"/>
<rect x="864.54" y="1286.82" width="17.15" height="29.69" fill="#ad1926"/>
<rect x="881.57" y="1286.82" width="17.15" height="29.69" fill="#ad1926"/>
<rect x="609.06" y="1316.39" width="17.15" height="29.69" fill="#8aa5da"/>
<rect x="626.09" y="1316.39" width="17.15" height="29.69" fill="#adc3e5"/>
<rect x="643.13" y="1316.39" width="17.15" height="29.69" fill="#a7bee4"/>
<rect x="660.16" y="1316.39" width="17.15" height="29.69" fill="#a7bee4"/>
<rect x="677.19" y="1316.39" width="17.15" height="29.69" fill="#a7bee4"/>
<rect x="694.22" y="1316.39" width="17.15" height="29.69" fill="#a7bee4"/>
<rect x="711.25" y="1316.39" width="17.15" height="29.69" fill="#a7bee4"/>
<rect x="728.28" y="1316.39" width="17.15" height="29.69" fill="#a9c0e4"/>
<rect x="745.32" y="1316.39" width="17.15" height="29.69" fill="#b7cbe7"/>
<rect x="762.35" y="1316.39" width="17.15" height="29.69" fill="#bdcee6"/>
<rect x="779.38" y="1316.39" width="17.15" height="29.69" fill="#c8d5e5"/>
<rect x="796.41" y="1316.39" width="17.15" height="29.69" fill="#b3c8e6"/>
<rect x="813.44" y="1316.39" width="17.15" height="29.69" fill="#b9cce7"/>
<rect x="830.47" y="1316.39" width="17.15" height="29.69" fill="#b9cce7"/>
<rect x="847.51" y="1316.39" width="17.15" height="29.69" fill="#ced8e4"/>
<rect x="864.54" y="1316.39" width="17.15" height="29.69" fill="#c8d5e5"/>
<rect x="881.57" y="1316.39" width="17.15" height="29.69" fill="#b1c7e6"/>
<rect x="592.03" y="1345.96" width="17.15" height="29.69" fill="#809cd5"/>
<rect x="609.06" y="1345.96" width="17.15" height="29.69" fill="#708dcc"/>
<rect x="626.09" y="1345.96" width="17.15" height="29.69" fill="#809cd5"/>
<rect x="643.13" y="1345.96" width="17.15" height="29.69" fill="#839ed6"/>
<rect x="660.16" y="1345.96" width="17.15" height="29.69" fill="#92addd"/>
<rect x="677.19" y="1345.96" width="17.15" height="29.69" fill="#839ed6"/>
<rect x="694.22" y="1345.96" width="17.15" height="29.69" fill="#99b3e0"/>
<rect x="711.25" y="1345.96" width="17.15" height="29.69" fill="#8ea9db"/>
<rect x="728.28" y="1345.96" width="17.15" height="29.69" fill="#8aa5da"/>
<rect x="745.32" y="1345.96" width="17.15" height="29.69" fill="#92addd"/>
<rect x="762.35" y="1345.96" width="17.15" height="29.69" fill="#a3bbe2"/>
<rect x="779.38" y="1345.96" width="17.15" height="29.69" fill="#a3bbe2"/>
<rect x="796.41" y="1345.96" width="17.15" height="29.69" fill="#9cb5e0"/>
<rect x="813.44" y="1345.96" width="17.15" height="29.69" fill="#99b3e0"/>
<rect x="830.47" y="1345.96" width="17.15" height="29.69" fill="#99b3e0"/>
<rect x="847.51" y="1345.96" width="17.15" height="29.69" fill="#a0b9e2"/>
<rect x="864.54" y="1345.96" width="17.15" height="29.69" fill="#708dcc"/>
<rect x="881.57" y="1345.96" width="17.15" height="29.69" fill="#5c75be"/>
<rect x="575" y="1375.53" width="17.15" height="29.69" fill="#92addd"/>
<rect x="592.03" y="1375.53" width="17.15" height="29.69" fill="#95afde"/>
<rect x="609.06" y="1375.53" width="17.15" height="29.69" fill="#809cd5"/>
<rect x="626.09" y="1375.53" width="17.15" height="29.69" fill="#a9c0e4"/>
<rect x="643.13" y="1375.53" width="17.15" height="29.69" fill="#a7bee4"/>
<rect x="660.16" y="1375.53" width="17.15" height="29.69" fill="#a7bee4"/>
<rect x="677.19" y="1375.53" width="17.15" height="29.69" fill="#a9c0e4"/>
<rect x="694.22" y="1375.53" width="17.15" height="29.69" fill="#a9c0e4"/>
<rect x="711.25" y="1375.53" width="17.15" height="29.69" fill="#b3c8e6"/>
<rect x="728.28" y="1375.53" width="17.15" height="29.69" fill="#b7cbe7"/>
<rect x="745.32" y="1375.53" width="17.15" height="29.69" fill="#c5d4e6"/>
<rect x="762.35" y="1375.53" width="17.15" height="29.69" fill="#bdcee6"/>
<rect x="779.38" y="1375.53" width="17.15" height="29.69" fill="#dadcde"/>
<rect x="796.41" y="1375.53" width="17.15" height="29.69" fill="#c5d4e6"/>
<rect x="813.44" y="1375.53" width="17.15" height="29.69" fill="#c3d2e6"/>
<rect x="830.47" y="1375.53" width="17.15" height="29.69" fill="#dadcde"/>
<rect x="847.51" y="1375.53" width="17.15" height="29.69" fill="#e3d8d2"/>
<rect x="864.54" y="1375.53" width="17.15" height="29.69" fill="#e6d6ce"/>
<rect x="881.57" y="1375.53" width="17.15" height="29.69" fill="#e8d4cb"/>
<linearGradient id="g_c2" x1="0" y1="0" x2="0" y2="1"><stop offset="0%" stop-color="#ad1926"/><stop offset="4.17%" stop-color="#bb3830"/><stop offset="8.33%" stop-color="#c74d3c"/><stop offset="12.5%" stop-color="#d36048"/><stop offset="16.67%" stop-color="#dc7155"/><stop offset="20.83%" stop-color="#e58162"/><stop offset="25%" stop-color="#eb9071"/><stop offset="29.17%" stop-color="#ef9f80"/><stop offset="33.33%" stop-color="#f2ab8f"/><stop offset="37.5%" stop-color="#f3b89f"/><stop offset="41.67%" stop-color="#f1c3ad"/><stop offset="45.83%" stop-color="#eeccbc"/><stop offset="50%" stop-color="#e7d4cc"/><stop offset="54.17%" stop-color="#dfdbd9"/><stop offset="58.33%" stop-color="#d6dbe0"/><stop offset="62.5%" stop-color="#cdd7e5"/><stop offset="66.67%" stop-color="#c2d2e7"/><stop offset="70.83%" stop-color="#b6cbe7"/><stop offset="75%" stop-color="#aac1e4"/><stop offset="79.17%" stop-color="#9eb7e1"/><stop offset="83.33%" stop-color="#91acdd"/><stop offset="87.5%" stop-color="#829ed6"/><stop offset="91.67%" stop-color="#7591cf"/><stop offset="95.83%" stop-color="#6783c7"/><stop offset="100%" stop-color="#5a74bd"/></linearGradient>
<rect x="918.7" y="1109.4" width="14.5" height="295.7" fill="url(#g_c2)"/>
<rect x="933.7" y="1166.25" width="6.3" height="3.3" fill="#000"/>
<text x="945.5" y="1174.2" font-size="22.2" font-family="'DejaVu Sans', 'Liberation Sans', sans-serif" text-anchor="start" fill="#000" class="dj" >0.8</text>
<rect x="933.7" y="1236.55" width="6.3" height="3.3" fill="#000"/>
<text x="945.5" y="1244.5" font-size="22.2" font-family="'DejaVu Sans', 'Liberation Sans', sans-serif" text-anchor="start" fill="#000" class="dj" >0.6</text>
<rect x="933.7" y="1306.85" width="6.3" height="3.3" fill="#000"/>
<text x="945.5" y="1314.8" font-size="22.2" font-family="'DejaVu Sans', 'Liberation Sans', sans-serif" text-anchor="start" fill="#000" class="dj" >0.4</text>
<rect x="933.7" y="1377.15" width="6.3" height="3.3" fill="#000"/>
<text x="945.5" y="1385.1" font-size="22.2" font-family="'DejaVu Sans', 'Liberation Sans', sans-serif" text-anchor="start" fill="#000" class="dj" >0.2</text>
<rect x="581.87" y="1405.1" width="3.3" height="6.0" fill="#000"/>
<text x="578.22" y="1430.2" font-size="22.2" font-family="'DejaVu Sans', 'Liberation Sans', sans-serif" text-anchor="start" fill="#000" class="dj" >6</text>
<rect x="615.93" y="1405.1" width="3.3" height="6.0" fill="#000"/>
<text x="612.28" y="1430.2" font-size="22.2" font-family="'DejaVu Sans', 'Liberation Sans', sans-serif" text-anchor="start" fill="#000" class="dj" >8</text>
<rect x="649.99" y="1405.1" width="3.3" height="6.0" fill="#000"/>
<text x="641.05" y="1430.2" font-size="22.2" font-family="'DejaVu Sans', 'Liberation Sans', sans-serif" text-anchor="start" fill="#000" class="dj" >10</text>
<rect x="684.06" y="1405.1" width="3.3" height="6.0" fill="#000"/>
<text x="675.11" y="1430.2" font-size="22.2" font-family="'DejaVu Sans', 'Liberation Sans', sans-serif" text-anchor="start" fill="#000" class="dj" >12</text>
<rect x="718.12" y="1405.1" width="3.3" height="6.0" fill="#000"/>
<text x="709.17" y="1430.2" font-size="22.2" font-family="'DejaVu Sans', 'Liberation Sans', sans-serif" text-anchor="start" fill="#000" class="dj" >14</text>
<rect x="752.18" y="1405.1" width="3.3" height="6.0" fill="#000"/>
<text x="743.24" y="1430.2" font-size="22.2" font-family="'DejaVu Sans', 'Liberation Sans', sans-serif" text-anchor="start" fill="#000" class="dj" >16</text>
<rect x="786.24" y="1405.1" width="3.3" height="6.0" fill="#000"/>
<text x="777.3" y="1430.2" font-size="22.2" font-family="'DejaVu Sans', 'Liberation Sans', sans-serif" text-anchor="start" fill="#000" class="dj" >18</text>
<rect x="820.31" y="1405.1" width="3.3" height="6.0" fill="#000"/>
<text x="811.36" y="1430.2" font-size="22.2" font-family="'DejaVu Sans', 'Liberation Sans', sans-serif" text-anchor="start" fill="#000" class="dj" >20</text>
<rect x="854.37" y="1405.1" width="3.3" height="6.0" fill="#000"/>
<text x="845.43" y="1430.2" font-size="22.2" font-family="'DejaVu Sans', 'Liberation Sans', sans-serif" text-anchor="start" fill="#000" class="dj" >22</text>
<rect x="888.43" y="1405.1" width="3.3" height="6.0" fill="#000"/>
<text x="879.49" y="1430.2" font-size="22.2" font-family="'DejaVu Sans', 'Liberation Sans', sans-serif" text-anchor="start" fill="#000" class="dj" >24</text>
<rect x="569" y="1122.54" width="6.0" height="3.3" fill="#000"/>
<text x="542.41" y="1129.19" font-size="22.2" font-family="'DejaVu Sans', 'Liberation Sans', sans-serif" text-anchor="start" fill="#000" class="dj" >10</text>
<rect x="569" y="1152.11" width="6.0" height="3.3" fill="#000"/>
<text x="553.01" y="1158.76" font-size="22.2" font-family="'DejaVu Sans', 'Liberation Sans', sans-serif" text-anchor="start" fill="#000" class="dj" >9</text>
<rect x="569" y="1181.67" width="6.0" height="3.3" fill="#000"/>
<text x="553.01" y="1188.33" font-size="22.2" font-family="'DejaVu Sans', 'Liberation Sans', sans-serif" text-anchor="start" fill="#000" class="dj" >8</text>
<rect x="569" y="1211.24" width="6.0" height="3.3" fill="#000"/>
<text x="553.01" y="1217.9" font-size="22.2" font-family="'DejaVu Sans', 'Liberation Sans', sans-serif" text-anchor="start" fill="#000" class="dj" >7</text>
<rect x="569" y="1240.81" width="6.0" height="3.3" fill="#000"/>
<text x="553.01" y="1247.47" font-size="22.2" font-family="'DejaVu Sans', 'Liberation Sans', sans-serif" text-anchor="start" fill="#000" class="dj" >6</text>
<rect x="569" y="1270.38" width="6.0" height="3.3" fill="#000"/>
<text x="553.01" y="1277.04" font-size="22.2" font-family="'DejaVu Sans', 'Liberation Sans', sans-serif" text-anchor="start" fill="#000" class="dj" >5</text>
<rect x="569" y="1299.95" width="6.0" height="3.3" fill="#000"/>
<text x="553.01" y="1306.61" font-size="22.2" font-family="'DejaVu Sans', 'Liberation Sans', sans-serif" text-anchor="start" fill="#000" class="dj" >4</text>
<rect x="569" y="1329.52" width="6.0" height="3.3" fill="#000"/>
<text x="553.01" y="1336.18" font-size="22.2" font-family="'DejaVu Sans', 'Liberation Sans', sans-serif" text-anchor="start" fill="#000" class="dj" >3</text>
<rect x="569" y="1359.09" width="6.0" height="3.3" fill="#000"/>
<text x="553.01" y="1365.75" font-size="22.2" font-family="'DejaVu Sans', 'Liberation Sans', sans-serif" text-anchor="start" fill="#000" class="dj" >2</text>
<rect x="569" y="1388.66" width="6.0" height="3.3" fill="#000"/>
<text x="553.01" y="1395.32" font-size="22.2" font-family="'DejaVu Sans', 'Liberation Sans', sans-serif" text-anchor="start" fill="#000" class="dj" >1</text>
<text x="694.02" y="1452.3" font-size="22.5" font-family="'DejaVu Sans', 'Liberation Sans', sans-serif" text-anchor="start" fill="#000" class="dj" >Tail length</text>
<text transform="translate(531.7,1316.52) rotate(-90)" font-size="22.7" font-family="'DejaVu Sans', 'Liberation Sans', sans-serif" fill="#000" class="dj">Branch length</text>
</g>
<g class="hm" id="c3">
<rect x="222.1" y="1583.4" width="16.31" height="27" fill="#bfd0e7"/>
<rect x="238.29" y="1583.4" width="16.31" height="27" fill="#87a3d8"/>
<rect x="254.48" y="1583.4" width="16.31" height="27" fill="#9cb5e0"/>
<rect x="270.67" y="1583.4" width="16.31" height="27" fill="#8aa5da"/>
<rect x="286.86" y="1583.4" width="16.31" height="27" fill="#6e89ca"/>
<rect x="303.05" y="1583.4" width="16.31" height="27" fill="#f1c4af"/>
<rect x="319.24" y="1583.4" width="16.31" height="27" fill="#e37e60"/>
<rect x="335.43" y="1583.4" width="16.31" height="27" fill="#c3d2e6"/>
<rect x="351.62" y="1583.4" width="16.31" height="27" fill="#e88a6b"/>
<rect x="367.81" y="1583.4" width="16.31" height="27" fill="#a3bbe2"/>
<rect x="205.91" y="1610.28" width="16.31" height="27" fill="#d0d9e3"/>
<rect x="222.1" y="1610.28" width="16.31" height="27" fill="#b7cbe7"/>
<rect x="238.29" y="1610.28" width="16.31" height="27" fill="#a3bbe2"/>
<rect x="254.48" y="1610.28" width="16.31" height="27" fill="#a3bbe2"/>
<rect x="270.67" y="1610.28" width="16.31" height="27" fill="#7b97d3"/>
<rect x="286.86" y="1610.28" width="16.31" height="27" fill="#d8dce0"/>
<rect x="303.05" y="1610.28" width="16.31" height="27" fill="#e88a6b"/>
<rect x="319.24" y="1610.28" width="16.31" height="27" fill="#f1bea7"/>
<rect x="335.43" y="1610.28" width="16.31" height="27" fill="#f1c4af"/>
<rect x="351.62" y="1610.28" width="16.31" height="27" fill="#ebd0c3"/>
<rect x="367.81" y="1610.28" width="16.31" height="27" fill="#a7bee4"/>
<rect x="189.72" y="1637.16" width="16.31" height="27" fill="#e6d6ce"/>
<rect x="205.91" y="1637.16" width="16.31" height="27" fill="#ccd7e5"/>
<rect x="222.1" y="1637.16" width="16.31" height="27" fill="#c5d4e6"/>
<rect x="238.29" y="1637.16" width="16.31" height="27" fill="#adc3e5"/>
<rect x="254.48" y="1637.16" width="16.31" height="27" fill="#b7cbe7"/>
<rect x="270.67" y="1637.16" width="16.31" height="27" fill="#d6dbe1"/>
<rect x="286.86" y="1637.16" width="16.31" height="27" fill="#f2b59b"/>
<rect x="303.05" y="1637.16" width="16.31" height="27" fill="#e17a5c"/>
<rect x="319.24" y="1637.16" width="16.31" height="27" fill="#cf5a44"/>
<rect x="335.43" y="1637.16" width="16.31" height="27" fill="#d8694e"/>
<rect x="351.62" y="1637.16" width="16.31" height="27" fill="#cf5a44"/>
<rect x="367.81" y="1637.16" width="16.31" height="27" fill="#ea8f6f"/>
<rect x="173.53" y="1664.05" width="16.31" height="27" fill="#d0d9e3"/>
<rect x="189.72" y="1664.05" width="16.31" height="27" fill="#bdcee6"/>
<rect x="205.91" y="1664.05" width="16.31" height="27" fill="#b3c8e6"/>
<rect x="222.1" y="1664.05" width="16.31" height="27" fill="#a7bee4"/>
<rect x="238.29" y="1664.05" width="16.31" height="27" fill="#a3bbe2"/>
<rect x="254.48" y="1664.05" width="16.31" height="27" fill="#c8d5e5"/>
<rect x="270.67" y="1664.05" width="16.31" height="27" fill="#e8d4cb"/>
<rect x="286.86" y="1664.05" width="16.31" height="27" fill="#f1c4af"/>
<rect x="303.05" y="1664.05" width="16.31" height="27" fill="#e37e60"/>
<rect x="319.24" y="1664.05" width="16.31" height="27" fill="#e17a5c"/>
<rect x="335.43" y="1664.05" width="16.31" height="27" fill="#e58263"/>
<rect x="351.62" y="1664.05" width="16.31" height="27" fill="#e88a6b"/>
<rect x="367.81" y="1664.05" width="16.31" height="27" fill="#efc9b7"/>
<rect x="157.34" y="1690.93" width="16.31" height="27" fill="#bfd0e7"/>
<rect x="173.53" y="1690.93" width="16.31" height="27" fill="#ced8e4"/>
<rect x="189.72" y="1690.93" width="16.31" height="27" fill="#bfd0e7"/>
<rect x="205.91" y="1690.93" width="16.31" height="27" fill="#b9cce7"/>
<rect x="222.1" y="1690.93" width="16.31" height="27" fill="#a3bbe2"/>
<rect x="238.29" y="1690.93" width="16.31" height="27" fill="#b9cce7"/>
<rect x="254.48" y="1690.93" width="16.31" height="27" fill="#e9d1c6"/>
<rect x="270.67" y="1690.93" width="16.31" height="27" fill="#efc9b7"/>
<rect x="286.86" y="1690.93" width="16.31" height="27" fill="#ef9d7e"/>
<rect x="303.05" y="1690.93" width="16.31" height="27" fill="#e17a5c"/>
<rect x="319.24" y="1690.93" width="16.31" height="27" fill="#e58263"/>
<rect x="335.43" y="1690.93" width="16.31" height="27" fill="#d8694e"/>
<rect x="351.62" y="1690.93" width="16.31" height="27" fill="#d25f47"/>
<rect x="367.81" y="1690.93" width="16.31" height="27" fill="#ee997a"/>
<rect x="141.15" y="1717.81" width="16.31" height="27" fill="#a3bbe2"/>
<rect x="157.34" y="1717.81" width="16.31" height="27" fill="#a3bbe2"/>
<rect x="173.53" y="1717.81" width="16.31" height="27" fill="#a3bbe2"/>
<rect x="189.72" y="1717.81" width="16.31" height="27" fill="#a7bee4"/>
<rect x="205.91" y="1717.81" width="16.31" height="27" fill="#8ea9db"/>
<rect x="222.1" y="1717.81" width="16.31" height="27" fill="#a0b9e2"/>
<rect x="238.29" y="1717.81" width="16.31" height="27" fill="#c8d5e5"/>
<rect x="254.48" y="1717.81" width="16.31" height="27" fill="#d3dae2"/>
<rect x="270.67" y="1717.81" width="16.31" height="27" fill="#eecbba"/>
<rect x="286.86" y="1717.81" width="16.31" height="27" fill="#f1bea7"/>
<rect x="303.05" y="1717.81" width="16.31" height="27" fill="#f0a283"/>
<rect x="319.24" y="1717.81" width="16.31" height="27" fill="#f0a283"/>
<rect x="335.43" y="1717.81" width="16.31" height="27" fill="#f2a88b"/>
<rect x="351.62" y="1717.81" width="16.31" height="27" fill="#f2af93"/>
<rect x="367.81" y="1717.81" width="16.31" height="27" fill="#dfdbd9"/>
<rect x="124.96" y="1744.69" width="16.31" height="27" fill="#f3b89f"/>
<rect x="141.15" y="1744.69" width="16.31" height="27" fill="#d6dbe1"/>
<rect x="157.34" y="1744.69" width="16.31" height="27" fill="#ebd0c3"/>
<rect x="173.53" y="1744.69" width="16.31" height="27" fill="#edcdbf"/>
<rect x="189.72" y="1744.69" width="16.31" height="27" fill="#f1bea7"/>
<rect x="205.91" y="1744.69" width="16.31" height="27" fill="#f1bea7"/>
<rect x="222.1" y="1744.69" width="16.31" height="27" fill="#f2a88b"/>
<rect x="238.29" y="1744.69" width="16.31" height="27" fill="#ef9d7e"/>
<rect x="254.48" y="1744.69" width="16.31" height="27" fill="#e88a6b"/>
<rect x="270.67" y="1744.69" width="16.31" height="27" fill="#e78768"/>
<rect x="286.86" y="1744.69" width="16.31" height="27" fill="#da6c51"/>
<rect x="303.05" y="1744.69" width="16.31" height="27" fill="#c54a3a"/>
<rect x="319.24" y="1744.69" width="16.31" height="27" fill="#cd5641"/>
<rect x="335.43" y="1744.69" width="16.31" height="27" fill="#bc3a31"/>
<rect x="351.62" y="1744.69" width="16.31" height="27" fill="#b7322e"/>
<rect x="367.81" y="1744.69" width="16.31" height="27" fill="#cf5a44"/>
<rect x="108.77" y="1771.57" width="16.31" height="27" fill="#7994d1"/>
<rect x="124.96" y="1771.57" width="16.31" height="27" fill="#a3bbe2"/>
<rect x="141.15" y="1771.57" width="16.31" height="27" fill="#9cb5e0"/>
<rect x="157.34" y="1771.57" width="16.31" height="27" fill="#9cb5e0"/>
<rect x="173.53" y="1771.57" width="16.31" height="27" fill="#a3bbe2"/>
<rect x="189.72" y="1771.57" width="16.31" height="27" fill="#bdcee6"/>
<rect x="205.91" y="1771.57" width="16.31" height="27" fill="#ccd7e5"/>
<rect x="222.1" y="1771.57" width="16.31" height="27" fill="#d6dbe1"/>
<rect x="238.29" y="1771.57" width="16.31" height="27" fill="#d8dce0"/>
<rect x="254.48" y="1771.57" width="16.31" height="27" fill="#e9d1c6"/>
<rect x="270.67" y="1771.57" width="16.31" height="27" fill="#edcdbf"/>
<rect x="286.86" y="1771.57" width="16.31" height="27" fill="#efc9b7"/>
<rect x="303.05" y="1771.57" width="16.31" height="27" fill="#f2b59b"/>
<rect x="319.24" y="1771.57" width="16.31" height="27" fill="#f2b59b"/>
<rect x="335.43" y="1771.57" width="16.31" height="27" fill="#f1c0aa"/>
<rect x="351.62" y="1771.57" width="16.31" height="27" fill="#e9d1c6"/>
<rect x="367.81" y="1771.57" width="16.31" height="27" fill="#dfdbd9"/>
<rect x="92.58" y="1798.45" width="16.31" height="27" fill="#92addd"/>
<rect x="108.77" y="1798.45" width="16.31" height="27" fill="#708dcc"/>
<rect x="124.96" y="1798.45" width="16.31" height="27" fill="#95afde"/>
<rect x="141.15" y="1798.45" width="16.31" height="27" fill="#99b3e0"/>
<rect x="157.34" y="1798.45" width="16.31" height="27" fill="#9cb5e0"/>
<rect x="173.53" y="1798.45" width="16.31" height="27" fill="#99b3e0"/>
<rect x="189.72" y="1798.45" width="16.31" height="27" fill="#9cb5e0"/>
<rect x="205.91" y="1798.45" width="16.31" height="27" fill="#99b3e0"/>
<rect x="222.1" y="1798.45" width="16.31" height="27" fill="#99b3e0"/>
<rect x="238.29" y="1798.45" width="16.31" height="27" fill="#95afde"/>
<rect x="254.48" y="1798.45" width="16.31" height="27" fill="#95afde"/>
<rect x="270.67" y="1798.45" width="16.31" height="27" fill="#99b3e0"/>
<rect x="286.86" y="1798.45" width="16.31" height="27" fill="#9cb5e0"/>
<rect x="303.05" y="1798.45" width="16.31" height="27" fill="#a3bbe2"/>
<rect x="319.24" y="1798.45" width="16.31" height="27" fill="#a3bbe2"/>
<rect x="335.43" y="1798.45" width="16.31" height="27" fill="#a0b9e2"/>
<rect x="351.62" y="1798.45" width="16.31" height="27" fill="#9cb5e0"/>
<rect x="367.81" y="1798.45" width="16.31" height="27" fill="#9cb5e0"/>
<rect x="76.39" y="1825.34" width="16.31" height="27" fill="#809cd5"/>
<rect x="92.58" y="1825.34" width="16.31" height="27" fill="#6985c8"/>
<rect x="108.77" y="1825.34" width="16.31" height="27" fill="#809cd5"/>
<rect x="124.96" y="1825.34" width="16.31" height="27" fill="#a3bbe2"/>
<rect x="141.15" y="1825.34" width="16.31" height="27" fill="#a9c0e4"/>
<rect x="157.34" y="1825.34" width="16.31" height="27" fill="#adc3e5"/>
<rect x="173.53" y="1825.34" width="16.31" height="27" fill="#95afde"/>
<rect x="189.72" y="1825.34" width="16.31" height="27" fill="#adc3e5"/>
<rect x="205.91" y="1825.34" width="16.31" height="27" fill="#9cb5e0"/>
<rect x="222.1" y="1825.34" width="16.31" height="27" fill="#a7bee4"/>
<rect x="238.29" y="1825.34" width="16.31" height="27" fill="#a7bee4"/>
<rect x="254.48" y="1825.34" width="16.31" height="27" fill="#b7cbe7"/>
<rect x="270.67" y="1825.34" width="16.31" height="27" fill="#d6dbe1"/>
<rect x="286.86" y="1825.34" width="16.31" height="27" fill="#d8dce0"/>
<rect x="303.05" y="1825.34" width="16.31" height="27" fill="#d0d9e3"/>
<rect x="319.24" y="1825.34" width="16.31" height="27" fill="#d8dce0"/>
<rect x="335.43" y="1825.34" width="16.31" height="27" fill="#dadcde"/>
<rect x="351.62" y="1825.34" width="16.31" height="27" fill="#d8dce0"/>
<rect x="367.81" y="1825.34" width="16.31" height="27" fill="#c8d5e5"/>
<rect x="60.2" y="1852.22" width="16.31" height="27" fill="#7b97d3"/>
<rect x="76.39" y="1852.22" width="16.31" height="27" fill="#6e89ca"/>
<rect x="92.58" y="1852.22" width="16.31" height="27" fill="#839ed6"/>
<rect x="108.77" y="1852.22" width="16.31" height="27" fill="#809cd5"/>
<rect x="124.96" y="1852.22" width="16.31" height="27" fill="#809cd5"/>
<rect x="141.15" y="1852.22" width="16.31" height="27" fill="#809cd5"/>
<rect x="157.34" y="1852.22" width="16.31" height="27" fill="#6985c8"/>
<rect x="173.53" y="1852.22" width="16.31" height="27" fill="#6985c8"/>
<rect x="189.72" y="1852.22" width="16.31" height="27" fill="#6682c6"/>
<rect x="205.91" y="1852.22" width="16.31" height="27" fill="#627dc3"/>
<rect x="222.1" y="1852.22" width="16.31" height="27" fill="#5c75be"/>
<rect x="238.29" y="1852.22" width="16.31" height="27" fill="#556db9"/>
<rect x="254.48" y="1852.22" width="16.31" height="27" fill="#4a60af"/>
<rect x="270.67" y="1852.22" width="16.31" height="27" fill="#3d50a2"/>
<rect x="286.86" y="1852.22" width="16.31" height="27" fill="#3d50a2"/>
<rect x="303.05" y="1852.22" width="16.31" height="27" fill="#3b4ca0"/>
<rect x="319.24" y="1852.22" width="16.31" height="27" fill="#3b4ca0"/>
<rect x="335.43" y="1852.22" width="16.31" height="27" fill="#3b4ca0"/>
<rect x="351.62" y="1852.22" width="16.31" height="27" fill="#3b4ca0"/>
<rect x="367.81" y="1852.22" width="16.31" height="27" fill="#3b4ca0"/>
<linearGradient id="g_c3" x1="0" y1="0" x2="0" y2="1"><stop offset="0%" stop-color="#bd3d33"/><stop offset="4.17%" stop-color="#cb533f"/><stop offset="8.33%" stop-color="#d6664c"/><stop offset="12.5%" stop-color="#e0775a"/><stop offset="16.67%" stop-color="#e8886a"/><stop offset="20.83%" stop-color="#ed9778"/><stop offset="25%" stop-color="#f1a688"/><stop offset="29.17%" stop-color="#f2b398"/><stop offset="33.33%" stop-color="#f1bfa8"/><stop offset="37.5%" stop-color="#efcab8"/><stop offset="41.67%" stop-color="#e9d2c8"/><stop offset="45.83%" stop-color="#e0dad6"/><stop offset="50%" stop-color="#d7dbe0"/><stop offset="54.17%" stop-color="#cdd8e4"/><stop offset="58.33%" stop-color="#c2d2e7"/><stop offset="62.5%" stop-color="#b6cae7"/><stop offset="66.67%" stop-color="#a9c0e4"/><stop offset="70.83%" stop-color="#9bb5e0"/><stop offset="75%" stop-color="#8da8db"/><stop offset="79.17%" stop-color="#7f9cd5"/><stop offset="83.33%" stop-color="#708ccc"/><stop offset="87.5%" stop-color="#627dc3"/><stop offset="91.67%" stop-color="#556db8"/><stop offset="95.83%" stop-color="#475dac"/><stop offset="100%" stop-color="#3b4ca0"/></linearGradient>
<rect x="403.1" y="1583.4" width="15.1" height="295.7" fill="url(#g_c3)"/>
<rect x="418.8" y="1629.95" width="6.3" height="3.3" fill="#000"/>
<text x="430.6" y="1637.9" font-size="22.2" font-family="'DejaVu Sans', 'Liberation Sans', sans-serif" text-anchor="start" fill="#000" class="dj" >0.8</text>
<rect x="418.8" y="1691.95" width="6.3" height="3.3" fill="#000"/>
<text x="430.6" y="1699.9" font-size="22.2" font-family="'DejaVu Sans', 'Liberation Sans', sans-serif" text-anchor="start" fill="#000" class="dj" >0.6</text>
<rect x="418.8" y="1753.95" width="6.3" height="3.3" fill="#000"/>
<text x="430.6" y="1761.9" font-size="22.2" font-family="'DejaVu Sans', 'Liberation Sans', sans-serif" text-anchor="start" fill="#000" class="dj" >0.4</text>
<rect x="418.8" y="1815.95" width="6.3" height="3.3" fill="#000"/>
<text x="430.6" y="1823.9" font-size="22.2" font-family="'DejaVu Sans', 'Liberation Sans', sans-serif" text-anchor="start" fill="#000" class="dj" >0.2</text>
<rect x="66.64" y="1879.1" width="3.3" height="6.0" fill="#000"/>
<text x="63" y="1904.2" font-size="22.2" font-family="'DejaVu Sans', 'Liberation Sans', sans-serif" text-anchor="start" fill="#000" class="dj" >4</text>
<rect x="99.03" y="1879.1" width="3.3" height="6.0" fill="#000"/>
<text x="95.38" y="1904.2" font-size="22.2" font-family="'DejaVu Sans', 'Liberation Sans', sans-serif" text-anchor="start" fill="#000" class="dj" >6</text>
<rect x="131.41" y="1879.1" width="3.3" height="6.0" fill="#000"/>
<text x="127.76" y="1904.2" font-size="22.2" font-family="'DejaVu Sans', 'Liberation Sans', sans-serif" text-anchor="start" fill="#000" class="dj" >8</text>
<rect x="163.78" y="1879.1" width="3.3" height="6.0" fill="#000"/>
<text x="154.84" y="1904.2" font-size="22.2" font-family="'DejaVu Sans', 'Liberation Sans', sans-serif" text-anchor="start" fill="#000" class="dj" >10</text>
<rect x="196.16" y="1879.1" width="3.3" height="6.0" fill="#000"/>
<text x="187.22" y="1904.2" font-size="22.2" font-family="'DejaVu Sans', 'Liberation Sans', sans-serif" text-anchor="start" fill="#000" class="dj" >12</text>
<rect x="228.54" y="1879.1" width="3.3" height="6.0" fill="#000"/>
<text x="219.6" y="1904.2" font-size="22.2" font-family="'DejaVu Sans', 'Liberation Sans', sans-serif" text-anchor="start" fill="#000" class="dj" >14</text>
<rect x="260.93" y="1879.1" width="3.3" height="6.0" fill="#000"/>
<text x="251.98" y="1904.2" font-size="22.2" font-family="'DejaVu Sans', 'Liberation Sans', sans-serif" text-anchor="start" fill="#000" class="dj" >16</text>
<rect x="293.31" y="1879.1" width="3.3" height="6.0" fill="#000"/>
<text x="284.36" y="1904.2" font-size="22.2" font-family="'DejaVu Sans', 'Liberation Sans', sans-serif" text-anchor="start" fill="#000" class="dj" >18</text>
<rect x="325.69" y="1879.1" width="3.3" height="6.0" fill="#000"/>
<text x="316.74" y="1904.2" font-size="22.2" font-family="'DejaVu Sans', 'Liberation Sans', sans-serif" text-anchor="start" fill="#000" class="dj" >20</text>
<rect x="358.07" y="1879.1" width="3.3" height="6.0" fill="#000"/>
<text x="349.12" y="1904.2" font-size="22.2" font-family="'DejaVu Sans', 'Liberation Sans', sans-serif" text-anchor="start" fill="#000" class="dj" >22</text>
<rect x="54.2" y="1595.19" width="6.0" height="3.3" fill="#000"/>
<text x="27.61" y="1601.84" font-size="22.2" font-family="'DejaVu Sans', 'Liberation Sans', sans-serif" text-anchor="start" fill="#000" class="dj" >10</text>
<rect x="54.2" y="1622.07" width="6.0" height="3.3" fill="#000"/>
<text x="38.21" y="1628.73" font-size="22.2" font-family="'DejaVu Sans', 'Liberation Sans', sans-serif" text-anchor="start" fill="#000" class="dj" >9</text>
<rect x="54.2" y="1648.95" width="6.0" height="3.3" fill="#000"/>
<text x="38.21" y="1655.61" font-size="22.2" font-family="'DejaVu Sans', 'Liberation Sans', sans-serif" text-anchor="start" fill="#000" class="dj" >8</text>
<rect x="54.2" y="1675.84" width="6.0" height="3.3" fill="#000"/>
<text x="38.21" y="1682.49" font-size="22.2" font-family="'DejaVu Sans', 'Liberation Sans', sans-serif" text-anchor="start" fill="#000" class="dj" >7</text>
<rect x="54.2" y="1702.72" width="6.0" height="3.3" fill="#000"/>
<text x="38.21" y="1709.37" font-size="22.2" font-family="'DejaVu Sans', 'Liberation Sans', sans-serif" text-anchor="start" fill="#000" class="dj" >6</text>
<rect x="54.2" y="1729.6" width="6.0" height="3.3" fill="#000"/>
<text x="38.21" y="1736.25" font-size="22.2" font-family="'DejaVu Sans', 'Liberation Sans', sans-serif" text-anchor="start" fill="#000" class="dj" >5</text>
<rect x="54.2" y="1756.48" width="6.0" height="3.3" fill="#000"/>
<text x="38.21" y="1763.13" font-size="22.2" font-family="'DejaVu Sans', 'Liberation Sans', sans-serif" text-anchor="start" fill="#000" class="dj" >4</text>
<rect x="54.2" y="1783.36" width="6.0" height="3.3" fill="#000"/>
<text x="38.21" y="1790.02" font-size="22.2" font-family="'DejaVu Sans', 'Liberation Sans', sans-serif" text-anchor="start" fill="#000" class="dj" >3</text>
<rect x="54.2" y="1810.25" width="6.0" height="3.3" fill="#000"/>
<text x="38.21" y="1816.9" font-size="22.2" font-family="'DejaVu Sans', 'Liberation Sans', sans-serif" text-anchor="start" fill="#000" class="dj" >2</text>
<rect x="54.2" y="1837.13" width="6.0" height="3.3" fill="#000"/>
<text x="38.21" y="1843.78" font-size="22.2" font-family="'DejaVu Sans', 'Liberation Sans', sans-serif" text-anchor="start" fill="#000" class="dj" >1</text>
<rect x="54.2" y="1864.01" width="6.0" height="3.3" fill="#000"/>
<text x="38.21" y="1870.66" font-size="22.2" font-family="'DejaVu Sans', 'Liberation Sans', sans-serif" text-anchor="start" fill="#000" class="dj" >0</text>
<text x="179.32" y="1926.3" font-size="22.5" font-family="'DejaVu Sans', 'Liberation Sans', sans-serif" text-anchor="start" fill="#000" class="dj" >Tail length</text>
<text transform="translate(16.9,1790.52) rotate(-90)" font-size="22.7" font-family="'DejaVu Sans', 'Liberation Sans', sans-serif" fill="#000" class="dj">Branch length</text>
</g>
<g class="hm" id="c4">
<rect x="729.1" y="1583.4" width="15.53" height="27" fill="#bfd0e7"/>
<rect x="744.5" y="1583.4" width="15.53" height="27" fill="#adc3e5"/>
<rect x="759.91" y="1583.4" width="15.53" height="27" fill="#a3bbe2"/>
<rect x="775.32" y="1583.4" width="15.53" height="27" fill="#adc3e5"/>
<rect x="790.73" y="1583.4" width="15.53" height="27" fill="#a0b9e2"/>
<rect x="806.14" y="1583.4" width="15.53" height="27" fill="#f1c0aa"/>
<rect x="821.55" y="1583.4" width="15.53" height="27" fill="#ee997a"/>
<rect x="836.96" y="1583.4" width="15.53" height="27" fill="#f1c4af"/>
<rect x="852.37" y="1583.4" width="15.53" height="27" fill="#e58263"/>
<rect x="867.78" y="1583.4" width="15.53" height="27" fill="#efc9b7"/>
<rect x="883.19" y="1583.4" width="15.53" height="27" fill="#f2b296"/>
<rect x="713.69" y="1610.28" width="15.53" height="27" fill="#a3bbe2"/>
<rect x="729.1" y="1610.28" width="15.53" height="27" fill="#b7cbe7"/>
<rect x="744.5" y="1610.28" width="15.53" height="27" fill="#b7cbe7"/>
<rect x="759.91" y="1610.28" width="15.53" height="27" fill="#b9cce7"/>
<rect x="775.32" y="1610.28" width="15.53" height="27" fill="#a7bee4"/>
<rect x="790.73" y="1610.28" width="15.53" height="27" fill="#dadcde"/>
<rect x="806.14" y="1610.28" width="15.53" height="27" fill="#f0a283"/>
<rect x="821.55" y="1610.28" width="15.53" height="27" fill="#f2a88b"/>
<rect x="836.96" y="1610.28" width="15.53" height="27" fill="#f0a283"/>
<rect x="852.37" y="1610.28" width="15.53" height="27" fill="#f0a283"/>
<rect x="867.78" y="1610.28" width="15.53" height="27" fill="#f1c4af"/>
<rect x="883.19" y="1610.28" width="15.53" height="27" fill="#f0a486"/>
<rect x="698.28" y="1637.16" width="15.53" height="27" fill="#dfdbd9"/>
<rect x="713.69" y="1637.16" width="15.53" height="27" fill="#a7bee4"/>
<rect x="729.1" y="1637.16" width="15.53" height="27" fill="#b1c7e6"/>
<rect x="744.5" y="1637.16" width="15.53" height="27" fill="#b9cce7"/>
<rect x="759.91" y="1637.16" width="15.53" height="27" fill="#bfd0e7"/>
<rect x="775.32" y="1637.16" width="15.53" height="27" fill="#dfdbd9"/>
<rect x="790.73" y="1637.16" width="15.53" height="27" fill="#f1c4af"/>
<rect x="806.14" y="1637.16" width="15.53" height="27" fill="#f0a283"/>
<rect x="821.55" y="1637.16" width="15.53" height="27" fill="#e78768"/>
<rect x="836.96" y="1637.16" width="15.53" height="27" fill="#ec9172"/>
<rect x="852.37" y="1637.16" width="15.53" height="27" fill="#e58263"/>
<rect x="867.78" y="1637.16" width="15.53" height="27" fill="#ef9d7e"/>
<rect x="883.19" y="1637.16" width="15.53" height="27" fill="#ea8f6f"/>
<rect x="682.87" y="1664.05" width="15.53" height="27" fill="#dfdbd9"/>
<rect x="698.28" y="1664.05" width="15.53" height="27" fill="#c5d4e6"/>
<rect x="713.69" y="1664.05" width="15.53" height="27" fill="#a0b9e2"/>
<rect x="729.1" y="1664.05" width="15.53" height="27" fill="#b1c7e6"/>
<rect x="744.5" y="1664.05" width="15.53" height="27" fill="#b3c8e6"/>
<rect x="759.91" y="1664.05" width="15.53" height="27" fill="#bdcee6"/>
<rect x="775.32" y="1664.05" width="15.53" height="27" fill="#dfdbd9"/>
<rect x="790.73" y="1664.05" width="15.53" height="27" fill="#efc9b7"/>
<rect x="806.14" y="1664.05" width="15.53" height="27" fill="#f0a283"/>
<rect x="821.55" y="1664.05" width="15.53" height="27" fill="#ee997a"/>
<rect x="836.96" y="1664.05" width="15.53" height="27" fill="#f0a486"/>
<rect x="852.37" y="1664.05" width="15.53" height="27" fill="#ee997a"/>
<rect x="867.78" y="1664.05" width="15.53" height="27" fill="#f3b89f"/>
<rect x="883.19" y="1664.05" width="15.53" height="27" fill="#f0c6b2"/>
<rect x="667.46" y="1690.93" width="15.53" height="27" fill="#c5d4e6"/>
<rect x="682.87" y="1690.93" width="15.53" height="27" fill="#c5d4e6"/>
<rect x="698.28" y="1690.93" width="15.53" height="27" fill="#b9cce7"/>
<rect x="713.69" y="1690.93" width="15.53" height="27" fill="#b9cce7"/>
<rect x="729.1" y="1690.93" width="15.53" height="27" fill="#bdcee6"/>
<rect x="744.5" y="1690.93" width="15.53" height="27" fill="#d3dae2"/>
<rect x="759.91" y="1690.93" width="15.53" height="27" fill="#efc9b7"/>
<rect x="775.32" y="1690.93" width="15.53" height="27" fill="#f2b59b"/>
<rect x="790.73" y="1690.93" width="15.53" height="27" fill="#ec9172"/>
<rect x="806.14" y="1690.93" width="15.53" height="27" fill="#e37e60"/>
<rect x="821.55" y="1690.93" width="15.53" height="27" fill="#de7458"/>
<rect x="836.96" y="1690.93" width="15.53" height="27" fill="#dc7155"/>
<rect x="852.37" y="1690.93" width="15.53" height="27" fill="#d25f47"/>
<rect x="867.78" y="1690.93" width="15.53" height="27" fill="#e37e60"/>
<rect x="883.19" y="1690.93" width="15.53" height="27" fill="#e37e60"/>
<rect x="652.05" y="1717.81" width="15.53" height="27" fill="#dadcde"/>
<rect x="667.46" y="1717.81" width="15.53" height="27" fill="#b7cbe7"/>
<rect x="682.87" y="1717.81" width="15.53" height="27" fill="#adc3e5"/>
<rect x="698.28" y="1717.81" width="15.53" height="27" fill="#b3c8e6"/>
<rect x="713.69" y="1717.81" width="15.53" height="27" fill="#adc3e5"/>
<rect x="729.1" y="1717.81" width="15.53" height="27" fill="#b3c8e6"/>
<rect x="744.5" y="1717.81" width="15.53" height="27" fill="#d0d9e3"/>
<rect x="759.91" y="1717.81" width="15.53" height="27" fill="#e6d6ce"/>
<rect x="775.32" y="1717.81" width="15.53" height="27" fill="#f1bea7"/>
<rect x="790.73" y="1717.81" width="15.53" height="27" fill="#f3b89f"/>
<rect x="806.14" y="1717.81" width="15.53" height="27" fill="#f2af93"/>
<rect x="821.55" y="1717.81" width="15.53" height="27" fill="#f0a486"/>
<rect x="836.96" y="1717.81" width="15.53" height="27" fill="#f0a486"/>
<rect x="852.37" y="1717.81" width="15.53" height="27" fill="#ef9d7e"/>
<rect x="867.78" y="1717.81" width="15.53" height="27" fill="#f0a486"/>
<rect x="883.19" y="1717.81" width="15.53" height="27" fill="#e37e60"/>
<rect x="636.64" y="1744.69" width="15.53" height="27" fill="#f1bea7"/>
<rect x="652.05" y="1744.69" width="15.53" height="27" fill="#e9d1c6"/>
<rect x="667.46" y="1744.69" width="15.53" height="27" fill="#efc9b7"/>
<rect x="682.87" y="1744.69" width="15.53" height="27" fill="#f1c4af"/>
<rect x="698.28" y="1744.69" width="15.53" height="27" fill="#f3b89f"/>
<rect x="713.69" y="1744.69" width="15.53" height="27" fill="#f3b89f"/>
<rect x="729.1" y="1744.69" width="15.53" height="27" fill="#f0a486"/>
<rect x="744.5" y="1744.69" width="15.53" height="27" fill="#f0a283"/>
<rect x="759.91" y="1744.69" width="15.53" height="27" fill="#e88a6b"/>
<rect x="775.32" y="1744.69" width="15.53" height="27" fill="#e17a5c"/>
<rect x="790.73" y="1744.69" width="15.53" height="27" fill="#da6c51"/>
<rect x="806.14" y="1744.69" width="15.53" height="27" fill="#cd5641"/>
<rect x="821.55" y="1744.69" width="15.53" height="27" fill="#c54a3a"/>
<rect x="836.96" y="1744.69" width="15.53" height="27" fill="#be3e34"/>
<rect x="852.37" y="1744.69" width="15.53" height="27" fill="#bc3a31"/>
<rect x="867.78" y="1744.69" width="15.53" height="27" fill="#c34537"/>
<rect x="883.19" y="1744.69" width="15.53" height="27" fill="#b7322e"/>
<rect x="621.23" y="1771.57" width="15.53" height="27" fill="#99b3e0"/>
<rect x="636.64" y="1771.57" width="15.53" height="27" fill="#b7cbe7"/>
<rect x="652.05" y="1771.57" width="15.53" height="27" fill="#b7cbe7"/>
<rect x="667.46" y="1771.57" width="15.53" height="27" fill="#b7cbe7"/>
<rect x="682.87" y="1771.57" width="15.53" height="27" fill="#b9cce7"/>
<rect x="698.28" y="1771.57" width="15.53" height="27" fill="#b9cce7"/>
<rect x="713.69" y="1771.57" width="15.53" height="27" fill="#ced8e4"/>
<rect x="729.1" y="1771.57" width="15.53" height="27" fill="#c5d4e6"/>
<rect x="744.5" y="1771.57" width="15.53" height="27" fill="#ced8e4"/>
<rect x="759.91" y="1771.57" width="15.53" height="27" fill="#dadcde"/>
<rect x="775.32" y="1771.57" width="15.53" height="27" fill="#dddcdc"/>
<rect x="790.73" y="1771.57" width="15.53" height="27" fill="#e3d8d2"/>
<rect x="806.14" y="1771.57" width="15.53" height="27" fill="#e3d8d2"/>
<rect x="821.55" y="1771.57" width="15.53" height="27" fill="#e6d6ce"/>
<rect x="836.96" y="1771.57" width="15.53" height="27" fill="#dddcdc"/>
<rect x="852.37" y="1771.57" width="15.53" height="27" fill="#d3dae2"/>
<rect x="867.78" y="1771.57" width="15.53" height="27" fill="#c3d2e6"/>
<rect x="883.19" y="1771.57" width="15.53" height="27" fill="#b9cce7"/>
<rect x="605.82" y="1798.45" width="15.53" height="27" fill="#99b3e0"/>
<rect x="621.23" y="1798.45" width="15.53" height="27" fill="#839ed6"/>
<rect x="636.64" y="1798.45" width="15.53" height="27" fill="#9cb5e0"/>
<rect x="652.05" y="1798.45" width="15.53" height="27" fill="#a3bbe2"/>
<rect x="667.46" y="1798.45" width="15.53" height="27" fill="#adc3e5"/>
<rect x="682.87" y="1798.45" width="15.53" height="27" fill="#adc3e5"/>
<rect x="698.28" y="1798.45" width="15.53" height="27" fill="#b3c8e6"/>
<rect x="713.69" y="1798.45" width="15.53" height="27" fill="#b7cbe7"/>
<rect x="729.1" y="1798.45" width="15.53" height="27" fill="#b3c8e6"/>
<rect x="744.5" y="1798.45" width="15.53" height="27" fill="#adc3e5"/>
<rect x="759.91" y="1798.45" width="15.53" height="27" fill="#adc3e5"/>
<rect x="775.32" y="1798.45" width="15.53" height="27" fill="#c8d5e5"/>
<rect x="790.73" y="1798.45" width="15.53" height="27" fill="#ccd7e5"/>
<rect x="806.14" y="1798.45" width="15.53" height="27" fill="#d0d9e3"/>
<rect x="821.55" y="1798.45" width="15.53" height="27" fill="#d3dae2"/>
<rect x="836.96" y="1798.45" width="15.53" height="27" fill="#d0d9e3"/>
<rect x="852.37" y="1798.45" width="15.53" height="27" fill="#d0d9e3"/>
<rect x="867.78" y="1798.45" width="15.53" height="27" fill="#b7cbe7"/>
<rect x="883.19" y="1798.45" width="15.53" height="27" fill="#6985c8"/>
<rect x="590.41" y="1825.34" width="15.53" height="27" fill="#92addd"/>
<rect x="605.82" y="1825.34" width="15.53" height="27" fill="#809cd5"/>
<rect x="621.23" y="1825.34" width="15.53" height="27" fill="#8aa5da"/>
<rect x="636.64" y="1825.34" width="15.53" height="27" fill="#99b3e0"/>
<rect x="652.05" y="1825.34" width="15.53" height="27" fill="#adc3e5"/>
<rect x="667.46" y="1825.34" width="15.53" height="27" fill="#a9c0e4"/>
<rect x="682.87" y="1825.34" width="15.53" height="27" fill="#a3bbe2"/>
<rect x="698.28" y="1825.34" width="15.53" height="27" fill="#a7bee4"/>
<rect x="713.69" y="1825.34" width="15.53" height="27" fill="#a0b9e2"/>
<rect x="729.1" y="1825.34" width="15.53" height="27" fill="#adc3e5"/>
<rect x="744.5" y="1825.34" width="15.53" height="27" fill="#b3c8e6"/>
<rect x="759.91" y="1825.34" width="15.53" height="27" fill="#c5d4e6"/>
<rect x="775.32" y="1825.34" width="15.53" height="27" fill="#d3dae2"/>
<rect x="790.73" y="1825.34" width="15.53" height="27" fill="#e1d9d5"/>
<rect x="806.14" y="1825.34" width="15.53" height="27" fill="#d8dce0"/>
<rect x="821.55" y="1825.34" width="15.53" height="27" fill="#e6d6ce"/>
<rect x="836.96" y="1825.34" width="15.53" height="27" fill="#e9d1c6"/>
<rect x="852.37" y="1825.34" width="15.53" height="27" fill="#eecbba"/>
<rect x="867.78" y="1825.34" width="15.53" height="27" fill="#ebd0c3"/>
<rect x="883.19" y="1825.34" width="15.53" height="27" fill="#e6d6ce"/>
<rect x="575" y="1852.22" width="15.53" height="27" fill="#809cd5"/>
<rect x="590.41" y="1852.22" width="15.53" height="27" fill="#839ed6"/>
<rect x="605.82" y="1852.22" width="15.53" height="27" fill="#87a3d8"/>
<rect x="621.23" y="1852.22" width="15.53" height="27" fill="#839ed6"/>
<rect x="636.64" y="1852.22" width="15.53" height="27" fill="#87a3d8"/>
<rect x="652.05" y="1852.22" width="15.53" height="27" fill="#839ed6"/>
<rect x="667.46" y="1852.22" width="15.53" height="27" fill="#6e89ca"/>
<rect x="682.87" y="1852.22" width="15.53" height="27" fill="#6682c6"/>
<rect x="698.28" y="1852.22" width="15.53" height="27" fill="#627dc3"/>
<rect x="713.69" y="1852.22" width="15.53" height="27" fill="#627dc3"/>
<rect x="729.1" y="1852.22" width="15.53" height="27" fill="#556db9"/>
<rect x="744.5" y="1852.22" width="15.53" height="27" fill="#4a60af"/>
<rect x="759.91" y="1852.22" width="15.53" height="27" fill="#4155a6"/>
<rect x="775.32" y="1852.22" width="15.53" height="27" fill="#3d50a2"/>
<rect x="790.73" y="1852.22" width="15.53" height="27" fill="#3b4ca0"/>
<rect x="806.14" y="1852.22" width="15.53" height="27" fill="#3b4ca0"/>
<rect x="821.55" y="1852.22" width="15.53" height="27" fill="#3b4ca0"/>
<rect x="836.96" y="1852.22" width="15.53" height="27" fill="#3b4ca0"/>
<rect x="852.37" y="1852.22" width="15.53" height="27" fill="#3b4ca0"/>
<rect x="867.78" y="1852.22" width="15.53" height="27" fill="#3b4ca0"/>
<linearGradient id="g_c4" x1="0" y1="0" x2="0" y2="1"><stop offset="0%" stop-color="#bc3a31"/><stop offset="4.17%" stop-color="#c9503d"/><stop offset="8.33%" stop-color="#d5634a"/><stop offset="12.5%" stop-color="#de7458"/><stop offset="16.67%" stop-color="#e78768"/><stop offset="20.83%" stop-color="#ed9677"/><stop offset="25%" stop-color="#f0a486"/><stop offset="29.17%" stop-color="#f2b296"/><stop offset="33.33%" stop-color="#f1bea7"/><stop offset="37.5%" stop-color="#efc9b7"/><stop offset="41.67%" stop-color="#e9d1c6"/><stop offset="45.83%" stop-color="#e1d9d5"/><stop offset="50%" stop-color="#d8dce0"/><stop offset="54.17%" stop-color="#ced8e4"/><stop offset="58.33%" stop-color="#c3d2e6"/><stop offset="62.5%" stop-color="#b7cbe7"/><stop offset="66.67%" stop-color="#a9c0e4"/><stop offset="70.83%" stop-color="#9cb5e0"/><stop offset="75%" stop-color="#8ea9db"/><stop offset="79.17%" stop-color="#809cd5"/><stop offset="83.33%" stop-color="#708dcc"/><stop offset="87.5%" stop-color="#627dc3"/><stop offset="91.67%" stop-color="#556db9"/><stop offset="95.83%" stop-color="#475dad"/><stop offset="100%" stop-color="#3b4ca0"/></linearGradient>
<rect x="918.7" y="1583.4" width="14.5" height="295.7" fill="url(#g_c4)"/>
<rect x="933.7" y="1631.25" width="6.3" height="3.3" fill="#000"/>
<text x="945.5" y="1639.2" font-size="22.2" font-family="'DejaVu Sans', 'Liberation Sans', sans-serif" text-anchor="start" fill="#000" class="dj" >0.8</text>
<rect x="933.7" y="1692.75" width="6.3" height="3.3" fill="#000"/>
<text x="945.5" y="1700.7" font-size="22.2" font-family="'DejaVu Sans', 'Liberation Sans', sans-serif" text-anchor="start" fill="#000" class="dj" >0.6</text>
<rect x="933.7" y="1754.25" width="6.3" height="3.3" fill="#000"/>
<text x="945.5" y="1762.2" font-size="22.2" font-family="'DejaVu Sans', 'Liberation Sans', sans-serif" text-anchor="start" fill="#000" class="dj" >0.4</text>
<rect x="933.7" y="1815.75" width="6.3" height="3.3" fill="#000"/>
<text x="945.5" y="1823.7" font-size="22.2" font-family="'DejaVu Sans', 'Liberation Sans', sans-serif" text-anchor="start" fill="#000" class="dj" >0.2</text>
<rect x="581.05" y="1879.1" width="3.3" height="6.0" fill="#000"/>
<text x="577.41" y="1904.2" font-size="22.2" font-family="'DejaVu Sans', 'Liberation Sans', sans-serif" text-anchor="start" fill="#000" class="dj" >4</text>
<rect x="611.87" y="1879.1" width="3.3" height="6.0" fill="#000"/>
<text x="608.23" y="1904.2" font-size="22.2" font-family="'DejaVu Sans', 'Liberation Sans', sans-serif" text-anchor="start" fill="#000" class="dj" >6</text>
<rect x="642.69" y="1879.1" width="3.3" height="6.0" fill="#000"/>
<text x="639.05" y="1904.2" font-size="22.2" font-family="'DejaVu Sans', 'Liberation Sans', sans-serif" text-anchor="start" fill="#000" class="dj" >8</text>
<rect x="673.51" y="1879.1" width="3.3" height="6.0" fill="#000"/>
<text x="664.57" y="1904.2" font-size="22.2" font-family="'DejaVu Sans', 'Liberation Sans', sans-serif" text-anchor="start" fill="#000" class="dj" >10</text>
<rect x="704.33" y="1879.1" width="3.3" height="6.0" fill="#000"/>
<text x="695.39" y="1904.2" font-size="22.2" font-family="'DejaVu Sans', 'Liberation Sans', sans-serif" text-anchor="start" fill="#000" class="dj" >12</text>
<rect x="735.15" y="1879.1" width="3.3" height="6.0" fill="#000"/>
<text x="726.21" y="1904.2" font-size="22.2" font-family="'DejaVu Sans', 'Liberation Sans', sans-serif" text-anchor="start" fill="#000" class="dj" >14</text>
<rect x="765.97" y="1879.1" width="3.3" height="6.0" fill="#000"/>
<text x="757.03" y="1904.2" font-size="22.2" font-family="'DejaVu Sans', 'Liberation Sans', sans-serif" text-anchor="start" fill="#000" class="dj" >16</text>
<rect x="796.79" y="1879.1" width="3.3" height="6.0" fill="#000"/>
<text x="787.84" y="1904.2" font-size="22.2" font-family="'DejaVu Sans', 'Liberation Sans', sans-serif" text-anchor="start" fill="#000" class="dj" >18</text>
<rect x="827.61" y="1879.1" width="3.3" height="6.0" fill="#000"/>
<text x="818.66" y="1904.2" font-size="22.2" font-family="'DejaVu Sans', 'Liberation Sans', sans-serif" text-anchor="start" fill="#000" class="dj" >20</text>
<rect x="858.43" y="1879.1" width="3.3" height="6.0" fill="#000"/>
<text x="849.48" y="1904.2" font-size="22.2" font-family="'DejaVu Sans', 'Liberation Sans', sans-serif" text-anchor="start" fill="#000" class="dj" >22</text>
<rect x="889.25" y="1879.1" width="3.3" height="6.0" fill="#000"/>
<text x="880.3" y="1904.2" font-size="22.2" font-family="'DejaVu Sans', 'Liberation Sans', sans-serif" text-anchor="start" fill="#000" class="dj" >24</text>
<rect x="569" y="1595.19" width="6.0" height="3.3" fill="#000"/>
<text x="542.41" y="1601.84" font-size="22.2" font-family="'DejaVu Sans', 'Liberation Sans', sans-serif" text-anchor="start" fill="#000" class="dj" >10</text>
<rect x="569" y="1622.07" width="6.0" height="3.3" fill="#000"/>
<text x="553.01" y="1628.73" font-size="22.2" font-family="'DejaVu Sans', 'Liberation Sans', sans-serif" text-anchor="start" fill="#000" class="dj" >9</text>
<rect x="569" y="1648.95" width="6.0" height="3.3" fill="#000"/>
<text x="553.01" y="1655.61" font-size="22.2" font-family="'DejaVu Sans', 'Liberation Sans', sans-serif" text-anchor="start" fill="#000" class="dj" >8</text>
<rect x="569" y="1675.84" width="6.0" height="3.3" fill="#000"/>
<text x="553.01" y="1682.49" font-size="22.2" font-family="'DejaVu Sans', 'Liberation Sans', sans-serif" text-anchor="start" fill="#000" class="dj" >7</text>
<rect x="569" y="1702.72" width="6.0" height="3.3" fill="#000"/>
<text x="553.01" y="1709.37" font-size="22.2" font-family="'DejaVu Sans', 'Liberation Sans', sans-serif" text-anchor="start" fill="#000" class="dj" >6</text>
<rect x="569" y="1729.6" width="6.0" height="3.3" fill="#000"/>
<text x="553.01" y="1736.25" font-size="22.2" font-family="'DejaVu Sans', 'Liberation Sans', sans-serif" text-anchor="start" fill="#000" class="dj" >5</text>
<rect x="569" y="1756.48" width="6.0" height="3.3" fill="#000"/>
<text x="553.01" y="1763.13" font-size="22.2" font-family="'DejaVu Sans', 'Liberation Sans', sans-serif" text-anchor="start" fill="#000" class="dj" >4</text>
<rect x="569" y="1783.36" width="6.0" height="3.3" fill="#000"/>
<text x="553.01" y="1790.02" font-size="22.2" font-family="'DejaVu Sans', 'Liberation Sans', sans-serif" text-anchor="start" fill="#000" class="dj" >3</text>
<rect x="569" y="1810.25" width="6.0" height="3.3" fill="#000"/>
<text x="553.01" y="1816.9" font-size="22.2" font-family="'DejaVu Sans', 'Liberation Sans', sans-serif" text-anchor="start" fill="#000" class="dj" >2</text>
<rect x="569" y="1837.13" width="6.0" height="3.3" fill="#000"/>
<text x="553.01" y="1843.78" font-size="22.2" font-family="'DejaVu Sans', 'Liberation Sans', sans-serif" text-anchor="start" fill="#000" class="dj" >1</text>
<rect x="569" y="1864.01" width="6.0" height="3.3" fill="#000"/>
<text x="553.01" y="1870.66" font-size="22.2" font-family="'DejaVu Sans', 'Liberation Sans', sans-serif" text-anchor="start" fill="#000" class="dj" >0</text>
<text x="694.02" y="1926.3" font-size="22.5" font-family="'DejaVu Sans', 'Liberation Sans', sans-serif" text-anchor="start" fill="#000" class="dj" >Tail length</text>
<text transform="translate(531.7,1790.52) rotate(-90)" font-size="22.7" font-family="'DejaVu Sans', 'Liberation Sans', sans-serif" fill="#000" class="dj">Branch length</text>
</g>
<g class="hm" id="d1">
<rect x="1069.6" y="1109.4" width="32.46" height="27" fill="#c3d2e6"/>
<rect x="1101.94" y="1109.4" width="32.46" height="27" fill="#d3dae2"/>
<rect x="1134.28" y="1109.4" width="32.46" height="27" fill="#ccd7e5"/>
<rect x="1166.62" y="1109.4" width="32.46" height="27" fill="#f1c4af"/>
<rect x="1198.96" y="1109.4" width="32.46" height="27" fill="#f3b89f"/>
<rect x="1231.3" y="1109.4" width="32.46" height="27" fill="#ea8f6f"/>
<rect x="1263.64" y="1109.4" width="32.46" height="27" fill="#ea8f6f"/>
<rect x="1295.98" y="1109.4" width="32.46" height="27" fill="#f0a283"/>
<rect x="1328.32" y="1109.4" width="32.46" height="27" fill="#ad1926"/>
<rect x="1360.66" y="1109.4" width="32.46" height="27" fill="#f0a486"/>
<rect x="1069.6" y="1136.28" width="32.46" height="27" fill="#87a3d8"/>
<rect x="1101.94" y="1136.28" width="32.46" height="27" fill="#d0d9e3"/>
<rect x="1134.28" y="1136.28" width="32.46" height="27" fill="#dadcde"/>
<rect x="1166.62" y="1136.28" width="32.46" height="27" fill="#f1bea7"/>
<rect x="1198.96" y="1136.28" width="32.46" height="27" fill="#f2bba2"/>
<rect x="1231.3" y="1136.28" width="32.46" height="27" fill="#ea8f6f"/>
<rect x="1263.64" y="1136.28" width="32.46" height="27" fill="#e88a6b"/>
<rect x="1295.98" y="1136.28" width="32.46" height="27" fill="#ef9d7e"/>
<rect x="1328.32" y="1136.28" width="32.46" height="27" fill="#ad1926"/>
<rect x="1360.66" y="1136.28" width="32.46" height="27" fill="#f0a283"/>
<rect x="1069.6" y="1163.16" width="32.46" height="27" fill="#a0b9e2"/>
<rect x="1101.94" y="1163.16" width="32.46" height="27" fill="#c3d2e6"/>
<rect x="1134.28" y="1163.16" width="32.46" height="27" fill="#a3bbe2"/>
<rect x="1166.62" y="1163.16" width="32.46" height="27" fill="#f0c6b2"/>
<rect x="1198.96" y="1163.16" width="32.46" height="27" fill="#dadcde"/>
<rect x="1231.3" y="1163.16" width="32.46" height="27" fill="#f2a88b"/>
<rect x="1263.64" y="1163.16" width="32.46" height="27" fill="#f2a88b"/>
<rect x="1295.98" y="1163.16" width="32.46" height="27" fill="#ccd7e5"/>
<rect x="1328.32" y="1163.16" width="32.46" height="27" fill="#c9503d"/>
<rect x="1360.66" y="1163.16" width="32.46" height="27" fill="#e3d8d2"/>
<rect x="1069.6" y="1190.05" width="32.46" height="27" fill="#d3dae2"/>
<rect x="1101.94" y="1190.05" width="32.46" height="27" fill="#ced8e4"/>
<rect x="1134.28" y="1190.05" width="32.46" height="27" fill="#9cb5e0"/>
<rect x="1166.62" y="1190.05" width="32.46" height="27" fill="#dfdbd9"/>
<rect x="1198.96" y="1190.05" width="32.46" height="27" fill="#f1c0aa"/>
<rect x="1231.3" y="1190.05" width="32.46" height="27" fill="#f2af93"/>
<rect x="1263.64" y="1190.05" width="32.46" height="27" fill="#ea8f6f"/>
<rect x="1295.98" y="1190.05" width="32.46" height="27" fill="#e8d4cb"/>
<rect x="1328.32" y="1190.05" width="32.46" height="27" fill="#be3e34"/>
<rect x="1360.66" y="1190.05" width="32.46" height="27" fill="#f0c6b2"/>
<rect x="1069.6" y="1216.93" width="32.46" height="27" fill="#ccd7e5"/>
<rect x="1101.94" y="1216.93" width="32.46" height="27" fill="#d6dbe1"/>
<rect x="1134.28" y="1216.93" width="32.46" height="27" fill="#a9c0e4"/>
<rect x="1166.62" y="1216.93" width="32.46" height="27" fill="#f0a283"/>
<rect x="1198.96" y="1216.93" width="32.46" height="27" fill="#ef9d7e"/>
<rect x="1231.3" y="1216.93" width="32.46" height="27" fill="#f2b296"/>
<rect x="1263.64" y="1216.93" width="32.46" height="27" fill="#cd5641"/>
<rect x="1295.98" y="1216.93" width="32.46" height="27" fill="#e37e60"/>
<rect x="1328.32" y="1216.93" width="32.46" height="27" fill="#ad1926"/>
<rect x="1360.66" y="1216.93" width="32.46" height="27" fill="#dc7155"/>
<rect x="1069.6" y="1243.81" width="32.46" height="27" fill="#e8d4cb"/>
<rect x="1101.94" y="1243.81" width="32.46" height="27" fill="#7491cf"/>
<rect x="1134.28" y="1243.81" width="32.46" height="27" fill="#bdcee6"/>
<rect x="1166.62" y="1243.81" width="32.46" height="27" fill="#f2b59b"/>
<rect x="1198.96" y="1243.81" width="32.46" height="27" fill="#f2a88b"/>
<rect x="1231.3" y="1243.81" width="32.46" height="27" fill="#f2b59b"/>
<rect x="1263.64" y="1243.81" width="32.46" height="27" fill="#e58263"/>
<rect x="1295.98" y="1243.81" width="32.46" height="27" fill="#f0c6b2"/>
<rect x="1328.32" y="1243.81" width="32.46" height="27" fill="#e17a5c"/>
<rect x="1360.66" y="1243.81" width="32.46" height="27" fill="#f2af93"/>
<rect x="1069.6" y="1270.69" width="32.46" height="27" fill="#e78768"/>
<rect x="1101.94" y="1270.69" width="32.46" height="27" fill="#ed9677"/>
<rect x="1134.28" y="1270.69" width="32.46" height="27" fill="#e9d1c6"/>
<rect x="1166.62" y="1270.69" width="32.46" height="27" fill="#ec9172"/>
<rect x="1198.96" y="1270.69" width="32.46" height="27" fill="#c34537"/>
<rect x="1231.3" y="1270.69" width="32.46" height="27" fill="#da6c51"/>
<rect x="1263.64" y="1270.69" width="32.46" height="27" fill="#bc3a31"/>
<rect x="1295.98" y="1270.69" width="32.46" height="27" fill="#c54a3a"/>
<rect x="1328.32" y="1270.69" width="32.46" height="27" fill="#b02028"/>
<rect x="1360.66" y="1270.69" width="32.46" height="27" fill="#b42b2c"/>
<rect x="1069.6" y="1297.57" width="32.46" height="27" fill="#ced8e4"/>
<rect x="1101.94" y="1297.57" width="32.46" height="27" fill="#bdcee6"/>
<rect x="1134.28" y="1297.57" width="32.46" height="27" fill="#8aa5da"/>
<rect x="1166.62" y="1297.57" width="32.46" height="27" fill="#c5d4e6"/>
<rect x="1198.96" y="1297.57" width="32.46" height="27" fill="#eecbba"/>
<rect x="1231.3" y="1297.57" width="32.46" height="27" fill="#bfd0e7"/>
<rect x="1263.64" y="1297.57" width="32.46" height="27" fill="#f2b59b"/>
<rect x="1295.98" y="1297.57" width="32.46" height="27" fill="#f2bba2"/>
<rect x="1328.32" y="1297.57" width="32.46" height="27" fill="#f3b89f"/>
<rect x="1360.66" y="1297.57" width="32.46" height="27" fill="#f1c4af"/>
<rect x="1069.6" y="1324.45" width="32.46" height="27" fill="#d6dbe1"/>
<rect x="1101.94" y="1324.45" width="32.46" height="27" fill="#adc3e5"/>
<rect x="1134.28" y="1324.45" width="32.46" height="27" fill="#c5d4e6"/>
<rect x="1166.62" y="1324.45" width="32.46" height="27" fill="#edcdbf"/>
<rect x="1198.96" y="1324.45" width="32.46" height="27" fill="#e9d1c6"/>
<rect x="1231.3" y="1324.45" width="32.46" height="27" fill="#e8d4cb"/>
<rect x="1263.64" y="1324.45" width="32.46" height="27" fill="#e58263"/>
<rect x="1295.98" y="1324.45" width="32.46" height="27" fill="#f2af93"/>
<rect x="1328.32" y="1324.45" width="32.46" height="27" fill="#e37e60"/>
<rect x="1360.66" y="1324.45" width="32.46" height="27" fill="#e78768"/>
<rect x="1069.6" y="1351.34" width="32.46" height="27" fill="#a9c0e4"/>
<rect x="1101.94" y="1351.34" width="32.46" height="27" fill="#c3d2e6"/>
<rect x="1134.28" y="1351.34" width="32.46" height="27" fill="#8aa5da"/>
<rect x="1166.62" y="1351.34" width="32.46" height="27" fill="#ccd7e5"/>
<rect x="1198.96" y="1351.34" width="32.46" height="27" fill="#d6dbe1"/>
<rect x="1231.3" y="1351.34" width="32.46" height="27" fill="#8aa5da"/>
<rect x="1263.64" y="1351.34" width="32.46" height="27" fill="#e9d1c6"/>
<rect x="1295.98" y="1351.34" width="32.46" height="27" fill="#ccd7e5"/>
<rect x="1328.32" y="1351.34" width="32.46" height="27" fill="#edcdbf"/>
<rect x="1360.66" y="1351.34" width="32.46" height="27" fill="#eecbba"/>
<rect x="1069.6" y="1378.22" width="32.46" height="27" fill="#809cd5"/>
<rect x="1101.94" y="1378.22" width="32.46" height="27" fill="#5872bc"/>
<rect x="1134.28" y="1378.22" width="32.46" height="27" fill="#4e65b3"/>
<rect x="1166.62" y="1378.22" width="32.46" height="27" fill="#4155a6"/>
<rect x="1198.96" y="1378.22" width="32.46" height="27" fill="#4155a6"/>
<rect x="1231.3" y="1378.22" width="32.46" height="27" fill="#3d50a2"/>
<rect x="1263.64" y="1378.22" width="32.46" height="27" fill="#3b4ca0"/>
<rect x="1295.98" y="1378.22" width="32.46" height="27" fill="#3b4ca0"/>
<rect x="1328.32" y="1378.22" width="32.46" height="27" fill="#3b4ca0"/>
<rect x="1360.66" y="1378.22" width="32.46" height="27" fill="#3d50a2"/>
<linearGradient id="g_d1" x1="0" y1="0" x2="0" y2="1"><stop offset="0%" stop-color="#af1e27"/><stop offset="4.17%" stop-color="#bd3e34"/><stop offset="8.33%" stop-color="#cd5641"/><stop offset="12.5%" stop-color="#d8694e"/><stop offset="16.67%" stop-color="#e27b5d"/><stop offset="20.83%" stop-color="#e98c6d"/><stop offset="25%" stop-color="#ef9b7c"/><stop offset="29.17%" stop-color="#f2aa8d"/><stop offset="33.33%" stop-color="#f3b89e"/><stop offset="37.5%" stop-color="#f1c4af"/><stop offset="41.67%" stop-color="#eccdbf"/><stop offset="45.83%" stop-color="#e5d6cf"/><stop offset="50%" stop-color="#dcdcdd"/><stop offset="54.17%" stop-color="#d2dae3"/><stop offset="58.33%" stop-color="#c6d4e6"/><stop offset="62.5%" stop-color="#bacce7"/><stop offset="66.67%" stop-color="#aec4e5"/><stop offset="70.83%" stop-color="#a0b9e2"/><stop offset="75%" stop-color="#91acdd"/><stop offset="79.17%" stop-color="#829ed6"/><stop offset="83.33%" stop-color="#728fce"/><stop offset="87.5%" stop-color="#647fc4"/><stop offset="91.67%" stop-color="#566eb9"/><stop offset="95.83%" stop-color="#485ead"/><stop offset="100%" stop-color="#3b4ca0"/></linearGradient>
<rect x="1413.7" y="1109.4" width="14.5" height="295.7" fill="url(#g_d1)"/>
<rect x="1428" y="1153.65" width="6.3" height="3.3" fill="#000"/>
<text x="1439.8" y="1161.6" font-size="22.2" font-family="'DejaVu Sans', 'Liberation Sans', sans-serif" text-anchor="start" fill="#000" class="dj" >0.8</text>
<rect x="1428" y="1221.35" width="6.3" height="3.3" fill="#000"/>
<text x="1439.8" y="1229.3" font-size="22.2" font-family="'DejaVu Sans', 'Liberation Sans', sans-serif" text-anchor="start" fill="#000" class="dj" >0.6</text>
<rect x="1428" y="1289.05" width="6.3" height="3.3" fill="#000"/>
<text x="1439.8" y="1297" font-size="22.2" font-family="'DejaVu Sans', 'Liberation Sans', sans-serif" text-anchor="start" fill="#000" class="dj" >0.4</text>
<rect x="1428" y="1356.75" width="6.3" height="3.3" fill="#000"/>
<text x="1439.8" y="1364.7" font-size="22.2" font-family="'DejaVu Sans', 'Liberation Sans', sans-serif" text-anchor="start" fill="#000" class="dj" >0.2</text>
<rect x="1084.12" y="1405.1" width="3.3" height="6.0" fill="#000"/>
<text x="1080.47" y="1430.2" font-size="22.2" font-family="'DejaVu Sans', 'Liberation Sans', sans-serif" text-anchor="start" fill="#000" class="dj" >2</text>
<rect x="1116.46" y="1405.1" width="3.3" height="6.0" fill="#000"/>
<text x="1112.81" y="1430.2" font-size="22.2" font-family="'DejaVu Sans', 'Liberation Sans', sans-serif" text-anchor="start" fill="#000" class="dj" >3</text>
<rect x="1148.8" y="1405.1" width="3.3" height="6.0" fill="#000"/>
<text x="1145.15" y="1430.2" font-size="22.2" font-family="'DejaVu Sans', 'Liberation Sans', sans-serif" text-anchor="start" fill="#000" class="dj" >4</text>
<rect x="1181.14" y="1405.1" width="3.3" height="6.0" fill="#000"/>
<text x="1177.49" y="1430.2" font-size="22.2" font-family="'DejaVu Sans', 'Liberation Sans', sans-serif" text-anchor="start" fill="#000" class="dj" >5</text>
<rect x="1213.48" y="1405.1" width="3.3" height="6.0" fill="#000"/>
<text x="1209.83" y="1430.2" font-size="22.2" font-family="'DejaVu Sans', 'Liberation Sans', sans-serif" text-anchor="start" fill="#000" class="dj" >6</text>
<rect x="1245.82" y="1405.1" width="3.3" height="6.0" fill="#000"/>
<text x="1242.17" y="1430.2" font-size="22.2" font-family="'DejaVu Sans', 'Liberation Sans', sans-serif" text-anchor="start" fill="#000" class="dj" >7</text>
<rect x="1278.16" y="1405.1" width="3.3" height="6.0" fill="#000"/>
<text x="1274.51" y="1430.2" font-size="22.2" font-family="'DejaVu Sans', 'Liberation Sans', sans-serif" text-anchor="start" fill="#000" class="dj" >8</text>
<rect x="1310.5" y="1405.1" width="3.3" height="6.0" fill="#000"/>
<text x="1306.85" y="1430.2" font-size="22.2" font-family="'DejaVu Sans', 'Liberation Sans', sans-serif" text-anchor="start" fill="#000" class="dj" >9</text>
<rect x="1342.84" y="1405.1" width="3.3" height="6.0" fill="#000"/>
<text x="1333.9" y="1430.2" font-size="22.2" font-family="'DejaVu Sans', 'Liberation Sans', sans-serif" text-anchor="start" fill="#000" class="dj" >10</text>
<rect x="1375.18" y="1405.1" width="3.3" height="6.0" fill="#000"/>
<text x="1366.24" y="1430.2" font-size="22.2" font-family="'DejaVu Sans', 'Liberation Sans', sans-serif" text-anchor="start" fill="#000" class="dj" >11</text>
<rect x="1063.6" y="1121.19" width="6.0" height="3.3" fill="#000"/>
<text x="1037.01" y="1127.84" font-size="22.2" font-family="'DejaVu Sans', 'Liberation Sans', sans-serif" text-anchor="start" fill="#000" class="dj" >10</text>
<rect x="1063.6" y="1148.07" width="6.0" height="3.3" fill="#000"/>
<text x="1047.61" y="1154.73" font-size="22.2" font-family="'DejaVu Sans', 'Liberation Sans', sans-serif" text-anchor="start" fill="#000" class="dj" >9</text>
<rect x="1063.6" y="1174.95" width="6.0" height="3.3" fill="#000"/>
<text x="1047.61" y="1181.61" font-size="22.2" font-family="'DejaVu Sans', 'Liberation Sans', sans-serif" text-anchor="start" fill="#000" class="dj" >8</text>
<rect x="1063.6" y="1201.84" width="6.0" height="3.3" fill="#000"/>
<text x="1047.61" y="1208.49" font-size="22.2" font-family="'DejaVu Sans', 'Liberation Sans', sans-serif" text-anchor="start" fill="#000" class="dj" >7</text>
<rect x="1063.6" y="1228.72" width="6.0" height="3.3" fill="#000"/>
<text x="1047.61" y="1235.37" font-size="22.2" font-family="'DejaVu Sans', 'Liberation Sans', sans-serif" text-anchor="start" fill="#000" class="dj" >6</text>
<rect x="1063.6" y="1255.6" width="6.0" height="3.3" fill="#000"/>
<text x="1047.61" y="1262.25" font-size="22.2" font-family="'DejaVu Sans', 'Liberation Sans', sans-serif" text-anchor="start" fill="#000" class="dj" >5</text>
<rect x="1063.6" y="1282.48" width="6.0" height="3.3" fill="#000"/>
<text x="1047.61" y="1289.13" font-size="22.2" font-family="'DejaVu Sans', 'Liberation Sans', sans-serif" text-anchor="start" fill="#000" class="dj" >4</text>
<rect x="1063.6" y="1309.36" width="6.0" height="3.3" fill="#000"/>
<text x="1047.61" y="1316.02" font-size="22.2" font-family="'DejaVu Sans', 'Liberation Sans', sans-serif" text-anchor="start" fill="#000" class="dj" >3</text>
<rect x="1063.6" y="1336.25" width="6.0" height="3.3" fill="#000"/>
<text x="1047.61" y="1342.9" font-size="22.2" font-family="'DejaVu Sans', 'Liberation Sans', sans-serif" text-anchor="start" fill="#000" class="dj" >2</text>
<rect x="1063.6" y="1363.13" width="6.0" height="3.3" fill="#000"/>
<text x="1047.61" y="1369.78" font-size="22.2" font-family="'DejaVu Sans', 'Liberation Sans', sans-serif" text-anchor="start" fill="#000" class="dj" >1</text>
<rect x="1063.6" y="1390.01" width="6.0" height="3.3" fill="#000"/>
<text x="1047.61" y="1396.66" font-size="22.2" font-family="'DejaVu Sans', 'Liberation Sans', sans-serif" text-anchor="start" fill="#000" class="dj" >0</text>
<text x="1169.81" y="1452.3" font-size="22.5" font-family="'DejaVu Sans', 'Liberation Sans', sans-serif" text-anchor="start" fill="#000" class="dj" >Linker position</text>
<text transform="translate(1026.3,1316.52) rotate(-90)" font-size="22.7" font-family="'DejaVu Sans', 'Liberation Sans', sans-serif" fill="#000" class="dj">Branch length</text>
</g>
<g class="hm" id="d2">
<rect x="1569.8" y="1109.4" width="32.5" height="29.69" fill="#a3bbe2"/>
<rect x="1602.18" y="1109.4" width="32.5" height="29.69" fill="#7994d1"/>
<rect x="1634.56" y="1109.4" width="32.5" height="29.69" fill="#708dcc"/>
<rect x="1666.94" y="1109.4" width="32.5" height="29.69" fill="#4155a6"/>
<rect x="1699.32" y="1109.4" width="32.5" height="29.69" fill="#e3d8d2"/>
<rect x="1731.7" y="1109.4" width="32.5" height="29.69" fill="#f0a283"/>
<rect x="1764.08" y="1109.4" width="32.5" height="29.69" fill="#ef9d7e"/>
<rect x="1796.46" y="1109.4" width="32.5" height="29.69" fill="#ef9d7e"/>
<rect x="1828.84" y="1109.4" width="32.5" height="29.69" fill="#dc7155"/>
<rect x="1861.22" y="1109.4" width="32.5" height="29.69" fill="#f2a88b"/>
<rect x="1569.8" y="1138.97" width="32.5" height="29.69" fill="#b9cce7"/>
<rect x="1602.18" y="1138.97" width="32.5" height="29.69" fill="#8aa5da"/>
<rect x="1634.56" y="1138.97" width="32.5" height="29.69" fill="#809cd5"/>
<rect x="1666.94" y="1138.97" width="32.5" height="29.69" fill="#4e65b3"/>
<rect x="1699.32" y="1138.97" width="32.5" height="29.69" fill="#e3d8d2"/>
<rect x="1731.7" y="1138.97" width="32.5" height="29.69" fill="#ea8f6f"/>
<rect x="1764.08" y="1138.97" width="32.5" height="29.69" fill="#ec9172"/>
<rect x="1796.46" y="1138.97" width="32.5" height="29.69" fill="#e88a6b"/>
<rect x="1828.84" y="1138.97" width="32.5" height="29.69" fill="#d8694e"/>
<rect x="1861.22" y="1138.97" width="32.5" height="29.69" fill="#ee997a"/>
<rect x="1569.8" y="1168.54" width="32.5" height="29.69" fill="#7b97d3"/>
<rect x="1602.18" y="1168.54" width="32.5" height="29.69" fill="#bdcee6"/>
<rect x="1634.56" y="1168.54" width="32.5" height="29.69" fill="#bfd0e7"/>
<rect x="1666.94" y="1168.54" width="32.5" height="29.69" fill="#809cd5"/>
<rect x="1699.32" y="1168.54" width="32.5" height="29.69" fill="#ef9d7e"/>
<rect x="1731.7" y="1168.54" width="32.5" height="29.69" fill="#dc7155"/>
<rect x="1764.08" y="1168.54" width="32.5" height="29.69" fill="#cf5a44"/>
<rect x="1796.46" y="1168.54" width="32.5" height="29.69" fill="#c34537"/>
<rect x="1828.84" y="1168.54" width="32.5" height="29.69" fill="#c34537"/>
<rect x="1861.22" y="1168.54" width="32.5" height="29.69" fill="#e17a5c"/>
<rect x="1569.8" y="1198.11" width="32.5" height="29.69" fill="#a7bee4"/>
<rect x="1602.18" y="1198.11" width="32.5" height="29.69" fill="#92addd"/>
<rect x="1634.56" y="1198.11" width="32.5" height="29.69" fill="#809cd5"/>
<rect x="1666.94" y="1198.11" width="32.5" height="29.69" fill="#4e65b3"/>
<rect x="1699.32" y="1198.11" width="32.5" height="29.69" fill="#bfd0e7"/>
<rect x="1731.7" y="1198.11" width="32.5" height="29.69" fill="#ed9677"/>
<rect x="1764.08" y="1198.11" width="32.5" height="29.69" fill="#ed9677"/>
<rect x="1796.46" y="1198.11" width="32.5" height="29.69" fill="#f2a88b"/>
<rect x="1828.84" y="1198.11" width="32.5" height="29.69" fill="#dc7155"/>
<rect x="1861.22" y="1198.11" width="32.5" height="29.69" fill="#f2a88b"/>
<rect x="1569.8" y="1227.68" width="32.5" height="29.69" fill="#6985c8"/>
<rect x="1602.18" y="1227.68" width="32.5" height="29.69" fill="#ccd7e5"/>
<rect x="1634.56" y="1227.68" width="32.5" height="29.69" fill="#c3d2e6"/>
<rect x="1666.94" y="1227.68" width="32.5" height="29.69" fill="#f1c4af"/>
<rect x="1699.32" y="1227.68" width="32.5" height="29.69" fill="#edcdbf"/>
<rect x="1731.7" y="1227.68" width="32.5" height="29.69" fill="#dc7155"/>
<rect x="1764.08" y="1227.68" width="32.5" height="29.69" fill="#d25f47"/>
<rect x="1796.46" y="1227.68" width="32.5" height="29.69" fill="#cd5641"/>
<rect x="1828.84" y="1227.68" width="32.5" height="29.69" fill="#ad1926"/>
<rect x="1861.22" y="1227.68" width="32.5" height="29.69" fill="#c9503d"/>
<rect x="1569.8" y="1257.25" width="32.5" height="29.69" fill="#dadcde"/>
<rect x="1602.18" y="1257.25" width="32.5" height="29.69" fill="#9cb5e0"/>
<rect x="1634.56" y="1257.25" width="32.5" height="29.69" fill="#8ea9db"/>
<rect x="1666.94" y="1257.25" width="32.5" height="29.69" fill="#c8d5e5"/>
<rect x="1699.32" y="1257.25" width="32.5" height="29.69" fill="#c3d2e6"/>
<rect x="1731.7" y="1257.25" width="32.5" height="29.69" fill="#f1bea7"/>
<rect x="1764.08" y="1257.25" width="32.5" height="29.69" fill="#f0a283"/>
<rect x="1796.46" y="1257.25" width="32.5" height="29.69" fill="#e58263"/>
<rect x="1828.84" y="1257.25" width="32.5" height="29.69" fill="#cd5641"/>
<rect x="1861.22" y="1257.25" width="32.5" height="29.69" fill="#de7458"/>
<rect x="1569.8" y="1286.82" width="32.5" height="29.69" fill="#f2b296"/>
<rect x="1602.18" y="1286.82" width="32.5" height="29.69" fill="#f3b89f"/>
<rect x="1634.56" y="1286.82" width="32.5" height="29.69" fill="#f0a283"/>
<rect x="1666.94" y="1286.82" width="32.5" height="29.69" fill="#e6d6ce"/>
<rect x="1699.32" y="1286.82" width="32.5" height="29.69" fill="#de7458"/>
<rect x="1731.7" y="1286.82" width="32.5" height="29.69" fill="#ad1926"/>
<rect x="1764.08" y="1286.82" width="32.5" height="29.69" fill="#be3e34"/>
<rect x="1796.46" y="1286.82" width="32.5" height="29.69" fill="#ad1926"/>
<rect x="1828.84" y="1286.82" width="32.5" height="29.69" fill="#ad1926"/>
<rect x="1861.22" y="1286.82" width="32.5" height="29.69" fill="#ad1926"/>
<rect x="1569.8" y="1316.39" width="32.5" height="29.69" fill="#99b3e0"/>
<rect x="1602.18" y="1316.39" width="32.5" height="29.69" fill="#a0b9e2"/>
<rect x="1634.56" y="1316.39" width="32.5" height="29.69" fill="#9cb5e0"/>
<rect x="1666.94" y="1316.39" width="32.5" height="29.69" fill="#adc3e5"/>
<rect x="1699.32" y="1316.39" width="32.5" height="29.69" fill="#adc3e5"/>
<rect x="1731.7" y="1316.39" width="32.5" height="29.69" fill="#9cb5e0"/>
<rect x="1764.08" y="1316.39" width="32.5" height="29.69" fill="#a9c0e4"/>
<rect x="1796.46" y="1316.39" width="32.5" height="29.69" fill="#b1c7e6"/>
<rect x="1828.84" y="1316.39" width="32.5" height="29.69" fill="#d3dae2"/>
<rect x="1861.22" y="1316.39" width="32.5" height="29.69" fill="#b9cce7"/>
<rect x="1569.8" y="1345.96" width="32.5" height="29.69" fill="#7b97d3"/>
<rect x="1602.18" y="1345.96" width="32.5" height="29.69" fill="#7491cf"/>
<rect x="1634.56" y="1345.96" width="32.5" height="29.69" fill="#607ac1"/>
<rect x="1666.94" y="1345.96" width="32.5" height="29.69" fill="#a0b9e2"/>
<rect x="1699.32" y="1345.96" width="32.5" height="29.69" fill="#92addd"/>
<rect x="1731.7" y="1345.96" width="32.5" height="29.69" fill="#839ed6"/>
<rect x="1764.08" y="1345.96" width="32.5" height="29.69" fill="#6985c8"/>
<rect x="1796.46" y="1345.96" width="32.5" height="29.69" fill="#7994d1"/>
<rect x="1828.84" y="1345.96" width="32.5" height="29.69" fill="#a3bbe2"/>
<rect x="1861.22" y="1345.96" width="32.5" height="29.69" fill="#92addd"/>
<rect x="1569.8" y="1375.53" width="32.5" height="29.69" fill="#a9c0e4"/>
<rect x="1602.18" y="1375.53" width="32.5" height="29.69" fill="#dfdbd9"/>
<rect x="1634.56" y="1375.53" width="32.5" height="29.69" fill="#87a3d8"/>
<rect x="1666.94" y="1375.53" width="32.5" height="29.69" fill="#adc3e5"/>
<rect x="1699.32" y="1375.53" width="32.5" height="29.69" fill="#e9d1c6"/>
<rect x="1731.7" y="1375.53" width="32.5" height="29.69" fill="#839ed6"/>
<rect x="1764.08" y="1375.53" width="32.5" height="29.69" fill="#a9c0e4"/>
<rect x="1796.46" y="1375.53" width="32.5" height="29.69" fill="#a0b9e2"/>
<rect x="1828.84" y="1375.53" width="32.5" height="29.69" fill="#c5d4e6"/>
<rect x="1861.22" y="1375.53" width="32.5" height="29.69" fill="#c3d2e6"/>
<linearGradient id="g_d2" x1="0" y1="0" x2="0" y2="1"><stop offset="0%" stop-color="#ad1926"/><stop offset="4.17%" stop-color="#bc3a31"/><stop offset="8.33%" stop-color="#c9503d"/><stop offset="12.5%" stop-color="#d5644b"/><stop offset="16.67%" stop-color="#df7559"/><stop offset="20.83%" stop-color="#e88769"/><stop offset="25%" stop-color="#ed9778"/><stop offset="29.17%" stop-color="#f1a688"/><stop offset="33.33%" stop-color="#f2b398"/><stop offset="37.5%" stop-color="#f1bfa8"/><stop offset="41.67%" stop-color="#efcab8"/><stop offset="45.83%" stop-color="#e8d2c9"/><stop offset="50%" stop-color="#e0dad7"/><stop offset="54.17%" stop-color="#d7dbe0"/><stop offset="58.33%" stop-color="#ccd7e5"/><stop offset="62.5%" stop-color="#c0d1e7"/><stop offset="66.67%" stop-color="#b4c9e6"/><stop offset="70.83%" stop-color="#a7bfe4"/><stop offset="75%" stop-color="#99b3e0"/><stop offset="79.17%" stop-color="#8aa6da"/><stop offset="83.33%" stop-color="#7c98d3"/><stop offset="87.5%" stop-color="#6e89ca"/><stop offset="91.67%" stop-color="#607ac1"/><stop offset="95.83%" stop-color="#5168b5"/><stop offset="100%" stop-color="#4357a9"/></linearGradient>
<rect x="1914.7" y="1109.4" width="14.5" height="295.7" fill="url(#g_d2)"/>
<rect x="1928.3" y="1146.35" width="6.3" height="3.3" fill="#000"/>
<text x="1940.1" y="1154.3" font-size="22.2" font-family="'DejaVu Sans', 'Liberation Sans', sans-serif" text-anchor="start" fill="#000" class="dj" >0.8</text>
<rect x="1928.3" y="1184.42" width="6.3" height="3.3" fill="#000"/>
<text x="1940.1" y="1192.37" font-size="22.2" font-family="'DejaVu Sans', 'Liberation Sans', sans-serif" text-anchor="start" fill="#000" class="dj" >0.7</text>
<rect x="1928.3" y="1222.49" width="6.3" height="3.3" fill="#000"/>
<text x="1940.1" y="1230.44" font-size="22.2" font-family="'DejaVu Sans', 'Liberation Sans', sans-serif" text-anchor="start" fill="#000" class="dj" >0.6</text>
<rect x="1928.3" y="1260.56" width="6.3" height="3.3" fill="#000"/>
<text x="1940.1" y="1268.51" font-size="22.2" font-family="'DejaVu Sans', 'Liberation Sans', sans-serif" text-anchor="start" fill="#000" class="dj" >0.5</text>
<rect x="1928.3" y="1298.63" width="6.3" height="3.3" fill="#000"/>
<text x="1940.1" y="1306.58" font-size="22.2" font-family="'DejaVu Sans', 'Liberation Sans', sans-serif" text-anchor="start" fill="#000" class="dj" >0.4</text>
<rect x="1928.3" y="1336.7" width="6.3" height="3.3" fill="#000"/>
<text x="1940.1" y="1344.65" font-size="22.2" font-family="'DejaVu Sans', 'Liberation Sans', sans-serif" text-anchor="start" fill="#000" class="dj" >0.3</text>
<rect x="1928.3" y="1374.77" width="6.3" height="3.3" fill="#000"/>
<text x="1940.1" y="1382.72" font-size="22.2" font-family="'DejaVu Sans', 'Liberation Sans', sans-serif" text-anchor="start" fill="#000" class="dj" >0.2</text>
<rect x="1584.34" y="1405.1" width="3.3" height="6.0" fill="#000"/>
<text x="1580.69" y="1430.2" font-size="22.2" font-family="'DejaVu Sans', 'Liberation Sans', sans-serif" text-anchor="start" fill="#000" class="dj" >2</text>
<rect x="1616.72" y="1405.1" width="3.3" height="6.0" fill="#000"/>
<text x="1613.07" y="1430.2" font-size="22.2" font-family="'DejaVu Sans', 'Liberation Sans', sans-serif" text-anchor="start" fill="#000" class="dj" >3</text>
<rect x="1649.1" y="1405.1" width="3.3" height="6.0" fill="#000"/>
<text x="1645.45" y="1430.2" font-size="22.2" font-family="'DejaVu Sans', 'Liberation Sans', sans-serif" text-anchor="start" fill="#000" class="dj" >4</text>
<rect x="1681.48" y="1405.1" width="3.3" height="6.0" fill="#000"/>
<text x="1677.83" y="1430.2" font-size="22.2" font-family="'DejaVu Sans', 'Liberation Sans', sans-serif" text-anchor="start" fill="#000" class="dj" >5</text>
<rect x="1713.86" y="1405.1" width="3.3" height="6.0" fill="#000"/>
<text x="1710.21" y="1430.2" font-size="22.2" font-family="'DejaVu Sans', 'Liberation Sans', sans-serif" text-anchor="start" fill="#000" class="dj" >6</text>
<rect x="1746.24" y="1405.1" width="3.3" height="6.0" fill="#000"/>
<text x="1742.59" y="1430.2" font-size="22.2" font-family="'DejaVu Sans', 'Liberation Sans', sans-serif" text-anchor="start" fill="#000" class="dj" >7</text>
<rect x="1778.62" y="1405.1" width="3.3" height="6.0" fill="#000"/>
<text x="1774.97" y="1430.2" font-size="22.2" font-family="'DejaVu Sans', 'Liberation Sans', sans-serif" text-anchor="start" fill="#000" class="dj" >8</text>
<rect x="1811" y="1405.1" width="3.3" height="6.0" fill="#000"/>
<text x="1807.35" y="1430.2" font-size="22.2" font-family="'DejaVu Sans', 'Liberation Sans', sans-serif" text-anchor="start" fill="#000" class="dj" >9</text>
<rect x="1843.38" y="1405.1" width="3.3" height="6.0" fill="#000"/>
<text x="1834.44" y="1430.2" font-size="22.2" font-family="'DejaVu Sans', 'Liberation Sans', sans-serif" text-anchor="start" fill="#000" class="dj" >10</text>
<rect x="1875.76" y="1405.1" width="3.3" height="6.0" fill="#000"/>
<text x="1866.82" y="1430.2" font-size="22.2" font-family="'DejaVu Sans', 'Liberation Sans', sans-serif" text-anchor="start" fill="#000" class="dj" >11</text>
<rect x="1563.8" y="1122.54" width="6.0" height="3.3" fill="#000"/>
<text x="1537.21" y="1129.19" font-size="22.2" font-family="'DejaVu Sans', 'Liberation Sans', sans-serif" text-anchor="start" fill="#000" class="dj" >10</text>
<rect x="1563.8" y="1152.11" width="6.0" height="3.3" fill="#000"/>
<text x="1547.81" y="1158.76" font-size="22.2" font-family="'DejaVu Sans', 'Liberation Sans', sans-serif" text-anchor="start" fill="#000" class="dj" >9</text>
<rect x="1563.8" y="1181.67" width="6.0" height="3.3" fill="#000"/>
<text x="1547.81" y="1188.33" font-size="22.2" font-family="'DejaVu Sans', 'Liberation Sans', sans-serif" text-anchor="start" fill="#000" class="dj" >8</text>
<rect x="1563.8" y="1211.24" width="6.0" height="3.3" fill="#000"/>
<text x="1547.81" y="1217.9" font-size="22.2" font-family="'DejaVu Sans', 'Liberation Sans', sans-serif" text-anchor="start" fill="#000" class="dj" >7</text>
<rect x="1563.8" y="1240.81" width="6.0" height="3.3" fill="#000"/>
<text x="1547.81" y="1247.47" font-size="22.2" font-family="'DejaVu Sans', 'Liberation Sans', sans-serif" text-anchor="start" fill="#000" class="dj" >6</text>
<rect x="1563.8" y="1270.38" width="6.0" height="3.3" fill="#000"/>
<text x="1547.81" y="1277.04" font-size="22.2" font-family="'DejaVu Sans', 'Liberation Sans', sans-serif" text-anchor="start" fill="#000" class="dj" >5</text>
<rect x="1563.8" y="1299.95" width="6.0" height="3.3" fill="#000"/>
<text x="1547.81" y="1306.61" font-size="22.2" font-family="'DejaVu Sans', 'Liberation Sans', sans-serif" text-anchor="start" fill="#000" class="dj" >4</text>
<rect x="1563.8" y="1329.52" width="6.0" height="3.3" fill="#000"/>
<text x="1547.81" y="1336.18" font-size="22.2" font-family="'DejaVu Sans', 'Liberation Sans', sans-serif" text-anchor="start" fill="#000" class="dj" >3</text>
<rect x="1563.8" y="1359.09" width="6.0" height="3.3" fill="#000"/>
<text x="1547.81" y="1365.75" font-size="22.2" font-family="'DejaVu Sans', 'Liberation Sans', sans-serif" text-anchor="start" fill="#000" class="dj" >2</text>
<rect x="1563.8" y="1388.66" width="6.0" height="3.3" fill="#000"/>
<text x="1547.81" y="1395.32" font-size="22.2" font-family="'DejaVu Sans', 'Liberation Sans', sans-serif" text-anchor="start" fill="#000" class="dj" >1</text>
<text x="1670.21" y="1452.3" font-size="22.5" font-family="'DejaVu Sans', 'Liberation Sans', sans-serif" text-anchor="start" fill="#000" class="dj" >Linker position</text>
<text transform="translate(1526.5,1316.52) rotate(-90)" font-size="22.7" font-family="'DejaVu Sans', 'Liberation Sans', sans-serif" fill="#000" class="dj">Branch length</text>
</g>
<g class="hm" id="d3">
<rect x="1069.6" y="1583.4" width="32.46" height="27" fill="#b9cce7"/>
<rect x="1101.94" y="1583.4" width="32.46" height="27" fill="#87a3d8"/>
<rect x="1134.28" y="1583.4" width="32.46" height="27" fill="#99b3e0"/>
<rect x="1166.62" y="1583.4" width="32.46" height="27" fill="#839ed6"/>
<rect x="1198.96" y="1583.4" width="32.46" height="27" fill="#6985c8"/>
<rect x="1231.3" y="1583.4" width="32.46" height="27" fill="#f1c4af"/>
<rect x="1263.64" y="1583.4" width="32.46" height="27" fill="#e37e60"/>
<rect x="1295.98" y="1583.4" width="32.46" height="27" fill="#bfd0e7"/>
<rect x="1328.32" y="1583.4" width="32.46" height="27" fill="#e78768"/>
<rect x="1360.66" y="1583.4" width="32.46" height="27" fill="#a3bbe2"/>
<rect x="1069.6" y="1610.28" width="32.46" height="27" fill="#bdcee6"/>
<rect x="1101.94" y="1610.28" width="32.46" height="27" fill="#a7bee4"/>
<rect x="1134.28" y="1610.28" width="32.46" height="27" fill="#a7bee4"/>
<rect x="1166.62" y="1610.28" width="32.46" height="27" fill="#99b3e0"/>
<rect x="1198.96" y="1610.28" width="32.46" height="27" fill="#7491cf"/>
<rect x="1231.3" y="1610.28" width="32.46" height="27" fill="#ef9d7e"/>
<rect x="1263.64" y="1610.28" width="32.46" height="27" fill="#d5634a"/>
<rect x="1295.98" y="1610.28" width="32.46" height="27" fill="#c3d2e6"/>
<rect x="1328.32" y="1610.28" width="32.46" height="27" fill="#de7458"/>
<rect x="1360.66" y="1610.28" width="32.46" height="27" fill="#a7bee4"/>
<rect x="1069.6" y="1637.16" width="32.46" height="27" fill="#e3d8d2"/>
<rect x="1101.94" y="1637.16" width="32.46" height="27" fill="#adc3e5"/>
<rect x="1134.28" y="1637.16" width="32.46" height="27" fill="#b1c7e6"/>
<rect x="1166.62" y="1637.16" width="32.46" height="27" fill="#a7bee4"/>
<rect x="1198.96" y="1637.16" width="32.46" height="27" fill="#adc3e5"/>
<rect x="1231.3" y="1637.16" width="32.46" height="27" fill="#ea8f6f"/>
<rect x="1263.64" y="1637.16" width="32.46" height="27" fill="#c34537"/>
<rect x="1295.98" y="1637.16" width="32.46" height="27" fill="#de7458"/>
<rect x="1328.32" y="1637.16" width="32.46" height="27" fill="#b02028"/>
<rect x="1360.66" y="1637.16" width="32.46" height="27" fill="#e37e60"/>
<rect x="1069.6" y="1664.05" width="32.46" height="27" fill="#d3dae2"/>
<rect x="1101.94" y="1664.05" width="32.46" height="27" fill="#92addd"/>
<rect x="1134.28" y="1664.05" width="32.46" height="27" fill="#a7bee4"/>
<rect x="1166.62" y="1664.05" width="32.46" height="27" fill="#a7bee4"/>
<rect x="1198.96" y="1664.05" width="32.46" height="27" fill="#8aa5da"/>
<rect x="1231.3" y="1664.05" width="32.46" height="27" fill="#ed9677"/>
<rect x="1263.64" y="1664.05" width="32.46" height="27" fill="#d5634a"/>
<rect x="1295.98" y="1664.05" width="32.46" height="27" fill="#f0a283"/>
<rect x="1328.32" y="1664.05" width="32.46" height="27" fill="#b7322e"/>
<rect x="1360.66" y="1664.05" width="32.46" height="27" fill="#f2af93"/>
<rect x="1069.6" y="1690.93" width="32.46" height="27" fill="#e3d8d2"/>
<rect x="1101.94" y="1690.93" width="32.46" height="27" fill="#92addd"/>
<rect x="1134.28" y="1690.93" width="32.46" height="27" fill="#b9cce7"/>
<rect x="1166.62" y="1690.93" width="32.46" height="27" fill="#adc3e5"/>
<rect x="1198.96" y="1690.93" width="32.46" height="27" fill="#8aa5da"/>
<rect x="1231.3" y="1690.93" width="32.46" height="27" fill="#e17a5c"/>
<rect x="1263.64" y="1690.93" width="32.46" height="27" fill="#dc7155"/>
<rect x="1295.98" y="1690.93" width="32.46" height="27" fill="#e88a6b"/>
<rect x="1328.32" y="1690.93" width="32.46" height="27" fill="#b02028"/>
<rect x="1360.66" y="1690.93" width="32.46" height="27" fill="#f0a283"/>
<rect x="1069.6" y="1717.81" width="32.46" height="27" fill="#b1c7e6"/>
<rect x="1101.94" y="1717.81" width="32.46" height="27" fill="#87a3d8"/>
<rect x="1134.28" y="1717.81" width="32.46" height="27" fill="#95afde"/>
<rect x="1166.62" y="1717.81" width="32.46" height="27" fill="#9cb5e0"/>
<rect x="1198.96" y="1717.81" width="32.46" height="27" fill="#6682c6"/>
<rect x="1231.3" y="1717.81" width="32.46" height="27" fill="#f2b296"/>
<rect x="1263.64" y="1717.81" width="32.46" height="27" fill="#de7458"/>
<rect x="1295.98" y="1717.81" width="32.46" height="27" fill="#efc9b7"/>
<rect x="1328.32" y="1717.81" width="32.46" height="27" fill="#c54a3a"/>
<rect x="1360.66" y="1717.81" width="32.46" height="27" fill="#e9d1c6"/>
<rect x="1069.6" y="1744.69" width="32.46" height="27" fill="#f2b296"/>
<rect x="1101.94" y="1744.69" width="32.46" height="27" fill="#f0c6b2"/>
<rect x="1134.28" y="1744.69" width="32.46" height="27" fill="#f2af93"/>
<rect x="1166.62" y="1744.69" width="32.46" height="27" fill="#f1c4af"/>
<rect x="1198.96" y="1744.69" width="32.46" height="27" fill="#d8dce0"/>
<rect x="1231.3" y="1744.69" width="32.46" height="27" fill="#c9503d"/>
<rect x="1263.64" y="1744.69" width="32.46" height="27" fill="#b42b2c"/>
<rect x="1295.98" y="1744.69" width="32.46" height="27" fill="#d25f47"/>
<rect x="1328.32" y="1744.69" width="32.46" height="27" fill="#ad1926"/>
<rect x="1360.66" y="1744.69" width="32.46" height="27" fill="#d25f47"/>
<rect x="1069.6" y="1771.57" width="32.46" height="27" fill="#c5d4e6"/>
<rect x="1101.94" y="1771.57" width="32.46" height="27" fill="#7b97d3"/>
<rect x="1134.28" y="1771.57" width="32.46" height="27" fill="#b7cbe7"/>
<rect x="1166.62" y="1771.57" width="32.46" height="27" fill="#b3c8e6"/>
<rect x="1198.96" y="1771.57" width="32.46" height="27" fill="#8aa5da"/>
<rect x="1231.3" y="1771.57" width="32.46" height="27" fill="#f2b296"/>
<rect x="1263.64" y="1771.57" width="32.46" height="27" fill="#ee997a"/>
<rect x="1295.98" y="1771.57" width="32.46" height="27" fill="#f0c6b2"/>
<rect x="1328.32" y="1771.57" width="32.46" height="27" fill="#f0c6b2"/>
<rect x="1360.66" y="1771.57" width="32.46" height="27" fill="#f0c6b2"/>
<rect x="1069.6" y="1798.45" width="32.46" height="27" fill="#b3c8e6"/>
<rect x="1101.94" y="1798.45" width="32.46" height="27" fill="#6985c8"/>
<rect x="1134.28" y="1798.45" width="32.46" height="27" fill="#a3bbe2"/>
<rect x="1166.62" y="1798.45" width="32.46" height="27" fill="#a7bee4"/>
<rect x="1198.96" y="1798.45" width="32.46" height="27" fill="#809cd5"/>
<rect x="1231.3" y="1798.45" width="32.46" height="27" fill="#a3bbe2"/>
<rect x="1263.64" y="1798.45" width="32.46" height="27" fill="#a3bbe2"/>
<rect x="1295.98" y="1798.45" width="32.46" height="27" fill="#a7bee4"/>
<rect x="1328.32" y="1798.45" width="32.46" height="27" fill="#87a3d8"/>
<rect x="1360.66" y="1798.45" width="32.46" height="27" fill="#9cb5e0"/>
<rect x="1069.6" y="1825.34" width="32.46" height="27" fill="#c5d4e6"/>
<rect x="1101.94" y="1825.34" width="32.46" height="27" fill="#9cb5e0"/>
<rect x="1134.28" y="1825.34" width="32.46" height="27" fill="#809cd5"/>
<rect x="1166.62" y="1825.34" width="32.46" height="27" fill="#a9c0e4"/>
<rect x="1198.96" y="1825.34" width="32.46" height="27" fill="#87a3d8"/>
<rect x="1231.3" y="1825.34" width="32.46" height="27" fill="#a0b9e2"/>
<rect x="1263.64" y="1825.34" width="32.46" height="27" fill="#d8dce0"/>
<rect x="1295.98" y="1825.34" width="32.46" height="27" fill="#ccd7e5"/>
<rect x="1328.32" y="1825.34" width="32.46" height="27" fill="#adc3e5"/>
<rect x="1360.66" y="1825.34" width="32.46" height="27" fill="#c3d2e6"/>
<rect x="1069.6" y="1852.22" width="32.46" height="27" fill="#8ea9db"/>
<rect x="1101.94" y="1852.22" width="32.46" height="27" fill="#627dc3"/>
<rect x="1134.28" y="1852.22" width="32.46" height="27" fill="#556db9"/>
<rect x="1166.62" y="1852.22" width="32.46" height="27" fill="#5168b5"/>
<rect x="1198.96" y="1852.22" width="32.46" height="27" fill="#4458a9"/>
<rect x="1231.3" y="1852.22" width="32.46" height="27" fill="#4e65b3"/>
<rect x="1263.64" y="1852.22" width="32.46" height="27" fill="#4a60af"/>
<rect x="1295.98" y="1852.22" width="32.46" height="27" fill="#475dad"/>
<rect x="1328.32" y="1852.22" width="32.46" height="27" fill="#4155a6"/>
<rect x="1360.66" y="1852.22" width="32.46" height="27" fill="#5168b5"/>
<linearGradient id="g_d3" x1="0" y1="0" x2="0" y2="1"><stop offset="0%" stop-color="#ad1926"/><stop offset="4.17%" stop-color="#bc3a31"/><stop offset="8.33%" stop-color="#c9503d"/><stop offset="12.5%" stop-color="#d5644a"/><stop offset="16.67%" stop-color="#de7559"/><stop offset="20.83%" stop-color="#e88769"/><stop offset="25%" stop-color="#ed9678"/><stop offset="29.17%" stop-color="#f1a587"/><stop offset="33.33%" stop-color="#f2b398"/><stop offset="37.5%" stop-color="#f1bfa8"/><stop offset="41.67%" stop-color="#efcab8"/><stop offset="45.83%" stop-color="#e8d2c8"/><stop offset="50%" stop-color="#e0dad7"/><stop offset="54.17%" stop-color="#d7dbe0"/><stop offset="58.33%" stop-color="#cdd7e5"/><stop offset="62.5%" stop-color="#c1d1e7"/><stop offset="66.67%" stop-color="#b4c9e6"/><stop offset="70.83%" stop-color="#a8bfe4"/><stop offset="75%" stop-color="#9ab4e0"/><stop offset="79.17%" stop-color="#8ba6da"/><stop offset="83.33%" stop-color="#7c99d3"/><stop offset="87.5%" stop-color="#6e8acb"/><stop offset="91.67%" stop-color="#607bc2"/><stop offset="95.83%" stop-color="#5169b6"/><stop offset="100%" stop-color="#4458a9"/></linearGradient>
<rect x="1413.7" y="1583.4" width="14.5" height="295.7" fill="url(#g_d3)"/>
<rect x="1428" y="1637.35" width="6.3" height="3.3" fill="#000"/>
<text x="1439.8" y="1645.3" font-size="22.2" font-family="'DejaVu Sans', 'Liberation Sans', sans-serif" text-anchor="start" fill="#000" class="dj" >0.8</text>
<rect x="1428" y="1702.25" width="6.3" height="3.3" fill="#000"/>
<text x="1439.8" y="1710.2" font-size="22.2" font-family="'DejaVu Sans', 'Liberation Sans', sans-serif" text-anchor="start" fill="#000" class="dj" >0.6</text>
<rect x="1428" y="1767.15" width="6.3" height="3.3" fill="#000"/>
<text x="1439.8" y="1775.1" font-size="22.2" font-family="'DejaVu Sans', 'Liberation Sans', sans-serif" text-anchor="start" fill="#000" class="dj" >0.4</text>
<rect x="1428" y="1832.05" width="6.3" height="3.3" fill="#000"/>
<text x="1439.8" y="1840" font-size="22.2" font-family="'DejaVu Sans', 'Liberation Sans', sans-serif" text-anchor="start" fill="#000" class="dj" >0.2</text>
<rect x="1084.12" y="1879.1" width="3.3" height="6.0" fill="#000"/>
<text x="1080.47" y="1904.2" font-size="22.2" font-family="'DejaVu Sans', 'Liberation Sans', sans-serif" text-anchor="start" fill="#000" class="dj" >2</text>
<rect x="1116.46" y="1879.1" width="3.3" height="6.0" fill="#000"/>
<text x="1112.81" y="1904.2" font-size="22.2" font-family="'DejaVu Sans', 'Liberation Sans', sans-serif" text-anchor="start" fill="#000" class="dj" >3</text>
<rect x="1148.8" y="1879.1" width="3.3" height="6.0" fill="#000"/>
<text x="1145.15" y="1904.2" font-size="22.2" font-family="'DejaVu Sans', 'Liberation Sans', sans-serif" text-anchor="start" fill="#000" class="dj" >4</text>
<rect x="1181.14" y="1879.1" width="3.3" height="6.0" fill="#000"/>
<text x="1177.49" y="1904.2" font-size="22.2" font-family="'DejaVu Sans', 'Liberation Sans', sans-serif" text-anchor="start" fill="#000" class="dj" >5</text>
<rect x="1213.48" y="1879.1" width="3.3" height="6.0" fill="#000"/>
<text x="1209.83" y="1904.2" font-size="22.2" font-family="'DejaVu Sans', 'Liberation Sans', sans-serif" text-anchor="start" fill="#000" class="dj" >6</text>
<rect x="1245.82" y="1879.1" width="3.3" height="6.0" fill="#000"/>
<text x="1242.17" y="1904.2" font-size="22.2" font-family="'DejaVu Sans', 'Liberation Sans', sans-serif" text-anchor="start" fill="#000" class="dj" >7</text>
<rect x="1278.16" y="1879.1" width="3.3" height="6.0" fill="#000"/>
<text x="1274.51" y="1904.2" font-size="22.2" font-family="'DejaVu Sans', 'Liberation Sans', sans-serif" text-anchor="start" fill="#000" class="dj" >8</text>
<rect x="1310.5" y="1879.1" width="3.3" height="6.0" fill="#000"/>
<text x="1306.85" y="1904.2" font-size="22.2" font-family="'DejaVu Sans', 'Liberation Sans', sans-serif" text-anchor="start" fill="#000" class="dj" >9</text>
<rect x="1342.84" y="1879.1" width="3.3" height="6.0" fill="#000"/>
<text x="1333.9" y="1904.2" font-size="22.2" font-family="'DejaVu Sans', 'Liberation Sans', sans-serif" text-anchor="start" fill="#000" class="dj" >10</text>
<rect x="1375.18" y="1879.1" width="3.3" height="6.0" fill="#000"/>
<text x="1366.24" y="1904.2" font-size="22.2" font-family="'DejaVu Sans', 'Liberation Sans', sans-serif" text-anchor="start" fill="#000" class="dj" >11</text>
<rect x="1063.6" y="1595.19" width="6.0" height="3.3" fill="#000"/>
<text x="1037.01" y="1601.84" font-size="22.2" font-family="'DejaVu Sans', 'Liberation Sans', sans-serif" text-anchor="start" fill="#000" class="dj" >10</text>
<rect x="1063.6" y="1622.07" width="6.0" height="3.3" fill="#000"/>
<text x="1047.61" y="1628.73" font-size="22.2" font-family="'DejaVu Sans', 'Liberation Sans', sans-serif" text-anchor="start" fill="#000" class="dj" >9</text>
<rect x="1063.6" y="1648.95" width="6.0" height="3.3" fill="#000"/>
<text x="1047.61" y="1655.61" font-size="22.2" font-family="'DejaVu Sans', 'Liberation Sans', sans-serif" text-anchor="start" fill="#000" class="dj" >8</text>
<rect x="1063.6" y="1675.84" width="6.0" height="3.3" fill="#000"/>
<text x="1047.61" y="1682.49" font-size="22.2" font-family="'DejaVu Sans', 'Liberation Sans', sans-serif" text-anchor="start" fill="#000" class="dj" >7</text>
<rect x="1063.6" y="1702.72" width="6.0" height="3.3" fill="#000"/>
<text x="1047.61" y="1709.37" font-size="22.2" font-family="'DejaVu Sans', 'Liberation Sans', sans-serif" text-anchor="start" fill="#000" class="dj" >6</text>
<rect x="1063.6" y="1729.6" width="6.0" height="3.3" fill="#000"/>
<text x="1047.61" y="1736.25" font-size="22.2" font-family="'DejaVu Sans', 'Liberation Sans', sans-serif" text-anchor="start" fill="#000" class="dj" >5</text>
<rect x="1063.6" y="1756.48" width="6.0" height="3.3" fill="#000"/>
<text x="1047.61" y="1763.13" font-size="22.2" font-family="'DejaVu Sans', 'Liberation Sans', sans-serif" text-anchor="start" fill="#000" class="dj" >4</text>
<rect x="1063.6" y="1783.36" width="6.0" height="3.3" fill="#000"/>
<text x="1047.61" y="1790.02" font-size="22.2" font-family="'DejaVu Sans', 'Liberation Sans', sans-serif" text-anchor="start" fill="#000" class="dj" >3</text>
<rect x="1063.6" y="1810.25" width="6.0" height="3.3" fill="#000"/>
<text x="1047.61" y="1816.9" font-size="22.2" font-family="'DejaVu Sans', 'Liberation Sans', sans-serif" text-anchor="start" fill="#000" class="dj" >2</text>
<rect x="1063.6" y="1837.13" width="6.0" height="3.3" fill="#000"/>
<text x="1047.61" y="1843.78" font-size="22.2" font-family="'DejaVu Sans', 'Liberation Sans', sans-serif" text-anchor="start" fill="#000" class="dj" >1</text>
<rect x="1063.6" y="1864.01" width="6.0" height="3.3" fill="#000"/>
<text x="1047.61" y="1870.66" font-size="22.2" font-family="'DejaVu Sans', 'Liberation Sans', sans-serif" text-anchor="start" fill="#000" class="dj" >0</text>
<text x="1169.81" y="1926.3" font-size="22.5" font-family="'DejaVu Sans', 'Liberation Sans', sans-serif" text-anchor="start" fill="#000" class="dj" >Linker position</text>
<text transform="translate(1026.3,1790.52) rotate(-90)" font-size="22.7" font-family="'DejaVu Sans', 'Liberation Sans', sans-serif" fill="#000" class="dj">Branch length</text>
</g>
<g class="hm" id="d4">
<rect x="1569.8" y="1583.4" width="32.5" height="27" fill="#b3c8e6"/>
<rect x="1602.18" y="1583.4" width="32.5" height="27" fill="#9cb5e0"/>
<rect x="1634.56" y="1583.4" width="32.5" height="27" fill="#9cb5e0"/>
<rect x="1666.94" y="1583.4" width="32.5" height="27" fill="#99b3e0"/>
<rect x="1699.32" y="1583.4" width="32.5" height="27" fill="#ced8e4"/>
<rect x="1731.7" y="1583.4" width="32.5" height="27" fill="#f2a88b"/>
<rect x="1764.08" y="1583.4" width="32.5" height="27" fill="#e88a6b"/>
<rect x="1796.46" y="1583.4" width="32.5" height="27" fill="#f1c4af"/>
<rect x="1828.84" y="1583.4" width="32.5" height="27" fill="#d25f47"/>
<rect x="1861.22" y="1583.4" width="32.5" height="27" fill="#ebd0c3"/>
<rect x="1569.8" y="1610.28" width="32.5" height="27" fill="#a7bee4"/>
<rect x="1602.18" y="1610.28" width="32.5" height="27" fill="#a9c0e4"/>
<rect x="1634.56" y="1610.28" width="32.5" height="27" fill="#a9c0e4"/>
<rect x="1666.94" y="1610.28" width="32.5" height="27" fill="#a7bee4"/>
<rect x="1699.32" y="1610.28" width="32.5" height="27" fill="#ccd7e5"/>
<rect x="1731.7" y="1610.28" width="32.5" height="27" fill="#ec9172"/>
<rect x="1764.08" y="1610.28" width="32.5" height="27" fill="#e58263"/>
<rect x="1796.46" y="1610.28" width="32.5" height="27" fill="#f1bea7"/>
<rect x="1828.84" y="1610.28" width="32.5" height="27" fill="#cf5a44"/>
<rect x="1861.22" y="1610.28" width="32.5" height="27" fill="#eecbba"/>
<rect x="1569.8" y="1637.16" width="32.5" height="27" fill="#a7bee4"/>
<rect x="1602.18" y="1637.16" width="32.5" height="27" fill="#b1c7e6"/>
<rect x="1634.56" y="1637.16" width="32.5" height="27" fill="#b1c7e6"/>
<rect x="1666.94" y="1637.16" width="32.5" height="27" fill="#b7cbe7"/>
<rect x="1699.32" y="1637.16" width="32.5" height="27" fill="#e6d6ce"/>
<rect x="1731.7" y="1637.16" width="32.5" height="27" fill="#ec9172"/>
<rect x="1764.08" y="1637.16" width="32.5" height="27" fill="#de7458"/>
<rect x="1796.46" y="1637.16" width="32.5" height="27" fill="#ef9d7e"/>
<rect x="1828.84" y="1637.16" width="32.5" height="27" fill="#be3e34"/>
<rect x="1861.22" y="1637.16" width="32.5" height="27" fill="#f0a283"/>
<rect x="1569.8" y="1664.05" width="32.5" height="27" fill="#c5d4e6"/>
<rect x="1602.18" y="1664.05" width="32.5" height="27" fill="#a3bbe2"/>
<rect x="1634.56" y="1664.05" width="32.5" height="27" fill="#95afde"/>
<rect x="1666.94" y="1664.05" width="32.5" height="27" fill="#9cb5e0"/>
<rect x="1699.32" y="1664.05" width="32.5" height="27" fill="#c5d4e6"/>
<rect x="1731.7" y="1664.05" width="32.5" height="27" fill="#f0a283"/>
<rect x="1764.08" y="1664.05" width="32.5" height="27" fill="#e58263"/>
<rect x="1796.46" y="1664.05" width="32.5" height="27" fill="#f3b89f"/>
<rect x="1828.84" y="1664.05" width="32.5" height="27" fill="#c54a3a"/>
<rect x="1861.22" y="1664.05" width="32.5" height="27" fill="#f3b89f"/>
<rect x="1569.8" y="1690.93" width="32.5" height="27" fill="#adc3e5"/>
<rect x="1602.18" y="1690.93" width="32.5" height="27" fill="#b7cbe7"/>
<rect x="1634.56" y="1690.93" width="32.5" height="27" fill="#b7cbe7"/>
<rect x="1666.94" y="1690.93" width="32.5" height="27" fill="#ebd0c3"/>
<rect x="1699.32" y="1690.93" width="32.5" height="27" fill="#e1d9d5"/>
<rect x="1731.7" y="1690.93" width="32.5" height="27" fill="#e88a6b"/>
<rect x="1764.08" y="1690.93" width="32.5" height="27" fill="#d25f47"/>
<rect x="1796.46" y="1690.93" width="32.5" height="27" fill="#e17a5c"/>
<rect x="1828.84" y="1690.93" width="32.5" height="27" fill="#ad1926"/>
<rect x="1861.22" y="1690.93" width="32.5" height="27" fill="#e17a5c"/>
<rect x="1569.8" y="1717.81" width="32.5" height="27" fill="#d6dbe1"/>
<rect x="1602.18" y="1717.81" width="32.5" height="27" fill="#87a3d8"/>
<rect x="1634.56" y="1717.81" width="32.5" height="27" fill="#a0b9e2"/>
<rect x="1666.94" y="1717.81" width="32.5" height="27" fill="#d3dae2"/>
<rect x="1699.32" y="1717.81" width="32.5" height="27" fill="#c3d2e6"/>
<rect x="1731.7" y="1717.81" width="32.5" height="27" fill="#f2b59b"/>
<rect x="1764.08" y="1717.81" width="32.5" height="27" fill="#e78768"/>
<rect x="1796.46" y="1717.81" width="32.5" height="27" fill="#f2b296"/>
<rect x="1828.84" y="1717.81" width="32.5" height="27" fill="#d25f47"/>
<rect x="1861.22" y="1717.81" width="32.5" height="27" fill="#f2af93"/>
<rect x="1569.8" y="1744.69" width="32.5" height="27" fill="#f0a283"/>
<rect x="1602.18" y="1744.69" width="32.5" height="27" fill="#f2b296"/>
<rect x="1634.56" y="1744.69" width="32.5" height="27" fill="#f2b59b"/>
<rect x="1666.94" y="1744.69" width="32.5" height="27" fill="#f2bba2"/>
<rect x="1699.32" y="1744.69" width="32.5" height="27" fill="#ef9d7e"/>
<rect x="1731.7" y="1744.69" width="32.5" height="27" fill="#c54a3a"/>
<rect x="1764.08" y="1744.69" width="32.5" height="27" fill="#b7322e"/>
<rect x="1796.46" y="1744.69" width="32.5" height="27" fill="#be3e34"/>
<rect x="1828.84" y="1744.69" width="32.5" height="27" fill="#ad1926"/>
<rect x="1861.22" y="1744.69" width="32.5" height="27" fill="#b7322e"/>
<rect x="1569.8" y="1771.57" width="32.5" height="27" fill="#b9cce7"/>
<rect x="1602.18" y="1771.57" width="32.5" height="27" fill="#9cb5e0"/>
<rect x="1634.56" y="1771.57" width="32.5" height="27" fill="#a0b9e2"/>
<rect x="1666.94" y="1771.57" width="32.5" height="27" fill="#b9cce7"/>
<rect x="1699.32" y="1771.57" width="32.5" height="27" fill="#b9cce7"/>
<rect x="1731.7" y="1771.57" width="32.5" height="27" fill="#d6dbe1"/>
<rect x="1764.08" y="1771.57" width="32.5" height="27" fill="#efc9b7"/>
<rect x="1796.46" y="1771.57" width="32.5" height="27" fill="#e8d4cb"/>
<rect x="1828.84" y="1771.57" width="32.5" height="27" fill="#eecbba"/>
<rect x="1861.22" y="1771.57" width="32.5" height="27" fill="#e8d4cb"/>
<rect x="1569.8" y="1798.45" width="32.5" height="27" fill="#a7bee4"/>
<rect x="1602.18" y="1798.45" width="32.5" height="27" fill="#839ed6"/>
<rect x="1634.56" y="1798.45" width="32.5" height="27" fill="#99b3e0"/>
<rect x="1666.94" y="1798.45" width="32.5" height="27" fill="#bdcee6"/>
<rect x="1699.32" y="1798.45" width="32.5" height="27" fill="#a9c0e4"/>
<rect x="1731.7" y="1798.45" width="32.5" height="27" fill="#b1c7e6"/>
<rect x="1764.08" y="1798.45" width="32.5" height="27" fill="#c5d4e6"/>
<rect x="1796.46" y="1798.45" width="32.5" height="27" fill="#bfd0e7"/>
<rect x="1828.84" y="1798.45" width="32.5" height="27" fill="#d3dae2"/>
<rect x="1861.22" y="1798.45" width="32.5" height="27" fill="#d0d9e3"/>
<rect x="1569.8" y="1825.34" width="32.5" height="27" fill="#b3c8e6"/>
<rect x="1602.18" y="1825.34" width="32.5" height="27" fill="#bdcee6"/>
<rect x="1634.56" y="1825.34" width="32.5" height="27" fill="#87a3d8"/>
<rect x="1666.94" y="1825.34" width="32.5" height="27" fill="#b7cbe7"/>
<rect x="1699.32" y="1825.34" width="32.5" height="27" fill="#bfd0e7"/>
<rect x="1731.7" y="1825.34" width="32.5" height="27" fill="#92addd"/>
<rect x="1764.08" y="1825.34" width="32.5" height="27" fill="#d3dae2"/>
<rect x="1796.46" y="1825.34" width="32.5" height="27" fill="#bdcee6"/>
<rect x="1828.84" y="1825.34" width="32.5" height="27" fill="#d0d9e3"/>
<rect x="1861.22" y="1825.34" width="32.5" height="27" fill="#d6dbe1"/>
<rect x="1569.8" y="1852.22" width="32.5" height="27" fill="#839ed6"/>
<rect x="1602.18" y="1852.22" width="32.5" height="27" fill="#5872bc"/>
<rect x="1634.56" y="1852.22" width="32.5" height="27" fill="#4e65b3"/>
<rect x="1666.94" y="1852.22" width="32.5" height="27" fill="#475dad"/>
<rect x="1699.32" y="1852.22" width="32.5" height="27" fill="#3d50a2"/>
<rect x="1731.7" y="1852.22" width="32.5" height="27" fill="#4155a6"/>
<rect x="1764.08" y="1852.22" width="32.5" height="27" fill="#3b4ca0"/>
<rect x="1796.46" y="1852.22" width="32.5" height="27" fill="#3b4ca0"/>
<rect x="1828.84" y="1852.22" width="32.5" height="27" fill="#3b4ca0"/>
<rect x="1861.22" y="1852.22" width="32.5" height="27" fill="#4458a9"/>
<linearGradient id="g_d4" x1="0" y1="0" x2="0" y2="1"><stop offset="0%" stop-color="#af1e28"/><stop offset="4.17%" stop-color="#be3e34"/><stop offset="8.33%" stop-color="#cd5641"/><stop offset="12.5%" stop-color="#d8694f"/><stop offset="16.67%" stop-color="#e27b5d"/><stop offset="20.83%" stop-color="#e98c6d"/><stop offset="25%" stop-color="#ef9b7c"/><stop offset="29.17%" stop-color="#f2aa8d"/><stop offset="33.33%" stop-color="#f3b89e"/><stop offset="37.5%" stop-color="#f1c4af"/><stop offset="41.67%" stop-color="#eccdc0"/><stop offset="45.83%" stop-color="#e5d6cf"/><stop offset="50%" stop-color="#dcdcdd"/><stop offset="54.17%" stop-color="#d2dae3"/><stop offset="58.33%" stop-color="#c6d4e6"/><stop offset="62.5%" stop-color="#bacce7"/><stop offset="66.67%" stop-color="#adc4e5"/><stop offset="70.83%" stop-color="#a0b9e2"/><stop offset="75%" stop-color="#91acdd"/><stop offset="79.17%" stop-color="#829ed6"/><stop offset="83.33%" stop-color="#728fce"/><stop offset="87.5%" stop-color="#647fc4"/><stop offset="91.67%" stop-color="#566eb9"/><stop offset="95.83%" stop-color="#485ead"/><stop offset="100%" stop-color="#3b4ca0"/></linearGradient>
<rect x="1914.7" y="1583.4" width="14.5" height="295.7" fill="url(#g_d4)"/>
<rect x="1928.3" y="1625.45" width="6.3" height="3.3" fill="#000"/>
<text x="1940.1" y="1633.4" font-size="22.2" font-family="'DejaVu Sans', 'Liberation Sans', sans-serif" text-anchor="start" fill="#000" class="dj" >0.8</text>
<rect x="1928.3" y="1694.35" width="6.3" height="3.3" fill="#000"/>
<text x="1940.1" y="1702.3" font-size="22.2" font-family="'DejaVu Sans', 'Liberation Sans', sans-serif" text-anchor="start" fill="#000" class="dj" >0.6</text>
<rect x="1928.3" y="1763.25" width="6.3" height="3.3" fill="#000"/>
<text x="1940.1" y="1771.2" font-size="22.2" font-family="'DejaVu Sans', 'Liberation Sans', sans-serif" text-anchor="start" fill="#000" class="dj" >0.4</text>
<rect x="1928.3" y="1832.15" width="6.3" height="3.3" fill="#000"/>
<text x="1940.1" y="1840.1" font-size="22.2" font-family="'DejaVu Sans', 'Liberation Sans', sans-serif" text-anchor="start" fill="#000" class="dj" >0.2</text>
<rect x="1584.34" y="1879.1" width="3.3" height="6.0" fill="#000"/>
<text x="1580.69" y="1904.2" font-size="22.2" font-family="'DejaVu Sans', 'Liberation Sans', sans-serif" text-anchor="start" fill="#000" class="dj" >2</text>
<rect x="1616.72" y="1879.1" width="3.3" height="6.0" fill="#000"/>
<text x="1613.07" y="1904.2" font-size="22.2" font-family="'DejaVu Sans', 'Liberation Sans', sans-serif" text-anchor="start" fill="#000" class="dj" >3</text>
<rect x="1649.1" y="1879.1" width="3.3" height="6.0" fill="#000"/>
<text x="1645.45" y="1904.2" font-size="22.2" font-family="'DejaVu Sans', 'Liberation Sans', sans-serif" text-anchor="start" fill="#000" class="dj" >4</text>
<rect x="1681.48" y="1879.1" width="3.3" height="6.0" fill="#000"/>
<text x="1677.83" y="1904.2" font-size="22.2" font-family="'DejaVu Sans', 'Liberation Sans', sans-serif" text-anchor="start" fill="#000" class="dj" >5</text>
<rect x="1713.86" y="1879.1" width="3.3" height="6.0" fill="#000"/>
<text x="1710.21" y="1904.2" font-size="22.2" font-family="'DejaVu Sans', 'Liberation Sans', sans-serif" text-anchor="start" fill="#000" class="dj" >6</text>
<rect x="1746.24" y="1879.1" width="3.3" height="6.0" fill="#000"/>
<text x="1742.59" y="1904.2" font-size="22.2" font-family="'DejaVu Sans', 'Liberation Sans', sans-serif" text-anchor="start" fill="#000" class="dj" >7</text>
<rect x="1778.62" y="1879.1" width="3.3" height="6.0" fill="#000"/>
<text x="1774.97" y="1904.2" font-size="22.2" font-family="'DejaVu Sans', 'Liberation Sans', sans-serif" text-anchor="start" fill="#000" class="dj" >8</text>
<rect x="1811" y="1879.1" width="3.3" height="6.0" fill="#000"/>
<text x="1807.35" y="1904.2" font-size="22.2" font-family="'DejaVu Sans', 'Liberation Sans', sans-serif" text-anchor="start" fill="#000" class="dj" >9</text>
<rect x="1843.38" y="1879.1" width="3.3" height="6.0" fill="#000"/>
<text x="1834.44" y="1904.2" font-size="22.2" font-family="'DejaVu Sans', 'Liberation Sans', sans-serif" text-anchor="start" fill="#000" class="dj" >10</text>
<rect x="1875.76" y="1879.1" width="3.3" height="6.0" fill="#000"/>
<text x="1866.82" y="1904.2" font-size="22.2" font-family="'DejaVu Sans', 'Liberation Sans', sans-serif" text-anchor="start" fill="#000" class="dj" >11</text>
<rect x="1563.8" y="1595.19" width="6.0" height="3.3" fill="#000"/>
<text x="1537.21" y="1601.84" font-size="22.2" font-family="'DejaVu Sans', 'Liberation Sans', sans-serif" text-anchor="start" fill="#000" class="dj" >10</text>
<rect x="1563.8" y="1622.07" width="6.0" height="3.3" fill="#000"/>
<text x="1547.81" y="1628.73" font-size="22.2" font-family="'DejaVu Sans', 'Liberation Sans', sans-serif" text-anchor="start" fill="#000" class="dj" >9</text>
<rect x="1563.8" y="1648.95" width="6.0" height="3.3" fill="#000"/>
<text x="1547.81" y="1655.61" font-size="22.2" font-family="'DejaVu Sans', 'Liberation Sans', sans-serif" text-anchor="start" fill="#000" class="dj" >8</text>
<rect x="1563.8" y="1675.84" width="6.0" height="3.3" fill="#000"/>
<text x="1547.81" y="1682.49" font-size="22.2" font-family="'DejaVu Sans', 'Liberation Sans', sans-serif" text-anchor="start" fill="#000" class="dj" >7</text>
<rect x="1563.8" y="1702.72" width="6.0" height="3.3" fill="#000"/>
<text x="1547.81" y="1709.37" font-size="22.2" font-family="'DejaVu Sans', 'Liberation Sans', sans-serif" text-anchor="start" fill="#000" class="dj" >6</text>
<rect x="1563.8" y="1729.6" width="6.0" height="3.3" fill="#000"/>
<text x="1547.81" y="1736.25" font-size="22.2" font-family="'DejaVu Sans', 'Liberation Sans', sans-serif" text-anchor="start" fill="#000" class="dj" >5</text>
<rect x="1563.8" y="1756.48" width="6.0" height="3.3" fill="#000"/>
<text x="1547.81" y="1763.13" font-size="22.2" font-family="'DejaVu Sans', 'Liberation Sans', sans-serif" text-anchor="start" fill="#000" class="dj" >4</text>
<rect x="1563.8" y="1783.36" width="6.0" height="3.3" fill="#000"/>
<text x="1547.81" y="1790.02" font-size="22.2" font-family="'DejaVu Sans', 'Liberation Sans', sans-serif" text-anchor="start" fill="#000" class="dj" >3</text>
<rect x="1563.8" y="1810.25" width="6.0" height="3.3" fill="#000"/>
<text x="1547.81" y="1816.9" font-size="22.2" font-family="'DejaVu Sans', 'Liberation Sans', sans-serif" text-anchor="start" fill="#000" class="dj" >2</text>
<rect x="1563.8" y="1837.13" width="6.0" height="3.3" fill="#000"/>
<text x="1547.81" y="1843.78" font-size="22.2" font-family="'DejaVu Sans', 'Liberation Sans', sans-serif" text-anchor="start" fill="#000" class="dj" >1</text>
<rect x="1563.8" y="1864.01" width="6.0" height="3.3" fill="#000"/>
<text x="1547.81" y="1870.66" font-size="22.2" font-family="'DejaVu Sans', 'Liberation Sans', sans-serif" text-anchor="start" fill="#000" class="dj" >0</text>
<text x="1670.21" y="1926.3" font-size="22.5" font-family="'DejaVu Sans', 'Liberation Sans', sans-serif" text-anchor="start" fill="#000" class="dj" >Linker position</text>
<text transform="translate(1526.5,1790.52) rotate(-90)" font-size="22.7" font-family="'DejaVu Sans', 'Liberation Sans', sans-serif" fill="#000" class="dj">Branch length</text>
</g>
<path d="M652.02 74.88 A3.26 3.26 0 0 1 654.89 69.44 A3.26 3.26 0 0 0 657.77 64 A3.26 3.26 0 0 1 660.65 58.55 A3.26 3.26 0 0 0 663.52 53.11 A3.26 3.26 0 0 1 666.4 47.66 A3.26 3.26 0 0 0 669.28 42.22 A3.26 3.26 0 0 1 672.15 36.77 A3.26 3.26 0 0 0 675.03 31.33 A3.26 3.26 0 0 1 677.9 25.89" fill="none" stroke="#000" stroke-width="1.65" stroke-linecap="round" stroke-linejoin="round"/>
<path d="M664.04 52.14 L697.32 69.89 L730.6 50.85" fill="none" stroke="#000" stroke-width="1.65" stroke-linecap="round" stroke-linejoin="round"/>
<path d="M683.27 45.3 Q675.13 65.36 683.27 85.42" fill="none" stroke="#000" stroke-width="1.6" stroke-linecap="round"/>
<path d="M709.34 45.3 Q717.47 65.36 709.34 85.42" fill="none" stroke="#000" stroke-width="1.6" stroke-linecap="round"/>
<path d="M728.01 22.19 L728.01 50.85" fill="none" stroke="#000" stroke-width="1.65" stroke-linecap="round" stroke-linejoin="round"/>
<path d="M733 22.19 L733 50.85" fill="none" stroke="#000" stroke-width="1.65" stroke-linecap="round" stroke-linejoin="round"/>
<text x="731.16" y="19.73" font-size="20" font-family="'Liberation Sans', 'DejaVu Sans', sans-serif" text-anchor="middle" fill="#000" stroke="#000" stroke-width="0.3">O</text>
<text x="764.25" y="76.5" font-size="20" font-family="'Liberation Sans', 'DejaVu Sans', sans-serif" text-anchor="middle" fill="#000" stroke="#000" stroke-width="0.3">O</text>
<path d="M730.6 50.85 L753.71 64.16" fill="none" stroke="#000" stroke-width="1.65" stroke-linecap="round" stroke-linejoin="round"/>
<path d="M774.05 64.16 L797.16 50.29" fill="none" stroke="#000" stroke-width="1.65" stroke-linecap="round" stroke-linejoin="round"/>
<path d="M797.16 50.29 L797.16 22.19" fill="none" stroke="#000" stroke-width="1.65" stroke-linecap="round" stroke-linejoin="round"/>
<path d="M797.16 50.29 L820.28 64.16" fill="none" stroke="#000" stroke-width="1.65" stroke-linecap="round" stroke-linejoin="round"/>
<text x="790.42" y="19.04" font-size="20" font-family="'Liberation Sans', 'DejaVu Sans', sans-serif" fill="#000" stroke="#000" stroke-width="0.3">R<tspan x="806.89" y="27.73" font-size="16">1</tspan></text>
<text x="823.7" y="76.73" font-size="20" font-family="'Liberation Sans', 'DejaVu Sans', sans-serif" fill="#000" stroke="#000" stroke-width="0.3">R<tspan x="839.62" y="85.42" font-size="16">2</tspan></text>
<text x="666.47" y="107.24" font-size="20" font-family="'Liberation Sans', 'DejaVu Sans', sans-serif" text-anchor="start" fill="#000" stroke="#000" stroke-width="0.3" textLength="75.83" lengthAdjust="spacingAndGlyphs">C1-C10</text>
<text x="860.52" y="58.8" font-size="22" font-family="'Liberation Sans', 'DejaVu Sans', sans-serif" text-anchor="start" fill="#000" stroke="#000" stroke-width="0.3" textLength="119.28" lengthAdjust="spacingAndGlyphs">R1: C0-C10</text>
<text x="860.52" y="85.98" font-size="22" font-family="'Liberation Sans', 'DejaVu Sans', sans-serif" text-anchor="start" fill="#000" stroke="#000" stroke-width="0.3" textLength="104.49" lengthAdjust="spacingAndGlyphs">R2: C0-R1</text>
<path d="M1101.09 66.56 A2.9 2.9 0 0 1 1103.66 61.74 A2.9 2.9 0 0 0 1106.23 56.91 A2.9 2.9 0 0 1 1108.8 52.08 A2.9 2.9 0 0 0 1111.37 47.25 A2.9 2.9 0 0 1 1113.93 42.42 A2.9 2.9 0 0 0 1116.5 37.6 A2.9 2.9 0 0 1 1119.07 32.77 A2.9 2.9 0 0 0 1121.64 27.94 A2.9 2.9 0 0 1 1124.21 23.11" fill="none" stroke="#000" stroke-width="1.65" stroke-linecap="round" stroke-linejoin="round"/>
<path d="M1111.82 46.59 L1141.4 62.87 L1170.99 45.3" fill="none" stroke="#000" stroke-width="1.65" stroke-linecap="round" stroke-linejoin="round"/>
<path d="M1127.9 41.05 Q1119.77 58.89 1127.9 76.73" fill="none" stroke="#000" stroke-width="1.6" stroke-linecap="round"/>
<path d="M1151.76 41.05 Q1159.89 58.89 1151.76 76.73" fill="none" stroke="#000" stroke-width="1.6" stroke-linecap="round"/>
<path d="M1168.77 19.97 L1168.77 45.3" fill="none" stroke="#000" stroke-width="1.65" stroke-linecap="round" stroke-linejoin="round"/>
<path d="M1173.2 19.97 L1173.2 45.3" fill="none" stroke="#000" stroke-width="1.65" stroke-linecap="round" stroke-linejoin="round"/>
<text x="1171.73" y="18.25" font-size="20" font-family="'Liberation Sans', 'DejaVu Sans', sans-serif" text-anchor="middle" fill="#000" stroke="#000" stroke-width="0.3">O</text>
<text x="1201.31" y="69.1" font-size="20" font-family="'Liberation Sans', 'DejaVu Sans', sans-serif" text-anchor="middle" fill="#000" stroke="#000" stroke-width="0.3">O</text>
<path d="M1170.99 45.3 L1191.33 57.32" fill="none" stroke="#000" stroke-width="1.65" stroke-linecap="round" stroke-linejoin="round"/>
<path d="M1210.18 56.95 L1230.89 44.93 L1261.03 61.94 L1282.3 49.92" fill="none" stroke="#000" stroke-width="1.65" stroke-linecap="round" stroke-linejoin="round"/>
<path d="M1261.03 61.94 L1261.03 86.9" fill="none" stroke="#000" stroke-width="1.65" stroke-linecap="round" stroke-linejoin="round"/>
<text x="1284.42" y="51.4" font-size="20" font-family="'Liberation Sans', 'DejaVu Sans', sans-serif" fill="#000" stroke="#000" stroke-width="0.3">R<tspan x="1299.79" y="59.17" font-size="16">1</tspan></text>
<text x="1254.66" y="103.17" font-size="20" font-family="'Liberation Sans', 'DejaVu Sans', sans-serif" fill="#000" stroke="#000" stroke-width="0.3">R<tspan x="1269.65" y="110.57" font-size="16">2</tspan></text>
<text x="1113.69" y="96.52" font-size="20" font-family="'Liberation Sans', 'DejaVu Sans', sans-serif" text-anchor="start" fill="#000" stroke="#000" stroke-width="0.3" textLength="68.43" lengthAdjust="spacingAndGlyphs">C1-C10</text>
<text x="1316.07" y="56.39" font-size="22" font-family="'Liberation Sans', 'DejaVu Sans', sans-serif" text-anchor="start" fill="#000" stroke="#000" stroke-width="0.3" textLength="118.73" lengthAdjust="spacingAndGlyphs">R1: C1-C10</text>
<text x="1316.07" y="83.57" font-size="22" font-family="'Liberation Sans', 'DejaVu Sans', sans-serif" text-anchor="start" fill="#000" stroke="#000" stroke-width="0.3" textLength="103.93" lengthAdjust="spacingAndGlyphs">R2: C1-R1</text>
<path d="M1556.46 72.11 A3.35 3.35 0 0 1 1559.4 66.52 A3.35 3.35 0 0 0 1562.34 60.93 A3.35 3.35 0 0 1 1565.28 55.35 A3.35 3.35 0 0 0 1568.22 49.76 A3.35 3.35 0 0 1 1571.15 44.17 A3.35 3.35 0 0 0 1574.09 38.58 A3.35 3.35 0 0 1 1577.03 32.99 A3.35 3.35 0 0 0 1579.97 27.41 A3.35 3.35 0 0 1 1582.9 21.82" fill="none" stroke="#000" stroke-width="1.65" stroke-linecap="round" stroke-linejoin="round"/>
<path d="M1569.96 48.44 L1602.32 66.93 L1625.43 53.62" fill="none" stroke="#000" stroke-width="1.65" stroke-linecap="round" stroke-linejoin="round"/>
<path d="M1587.9 42.16 Q1579.76 62.22 1587.9 82.28" fill="none" stroke="#000" stroke-width="1.6" stroke-linecap="round"/>
<path d="M1614.15 42.16 Q1622.29 62.22 1614.15 82.28" fill="none" stroke="#000" stroke-width="1.6" stroke-linecap="round"/>
<path d="M1667.22 66.93 L1667.22 95.78" fill="none" stroke="#000" stroke-width="1.65" stroke-linecap="round" stroke-linejoin="round"/>
<path d="M1672.21 66.93 L1672.21 95.78" fill="none" stroke="#000" stroke-width="1.65" stroke-linecap="round" stroke-linejoin="round"/>
<text x="1636.16" y="54.86" font-size="20" font-family="'Liberation Sans', 'DejaVu Sans', sans-serif" text-anchor="middle" fill="#000" stroke="#000" stroke-width="0.3">O</text>
<text x="1669.81" y="112.55" font-size="20" font-family="'Liberation Sans', 'DejaVu Sans', sans-serif" text-anchor="middle" fill="#000" stroke="#000" stroke-width="0.3">O</text>
<path d="M1645.77 53.62 L1669.81 66.56 L1702.72 47.7 L1726.2 61.02" fill="none" stroke="#000" stroke-width="1.65" stroke-linecap="round" stroke-linejoin="round"/>
<path d="M1702.72 47.7 L1702.72 19.41" fill="none" stroke="#000" stroke-width="1.65" stroke-linecap="round" stroke-linejoin="round"/>
<text x="1695.79" y="15.72" font-size="20" font-family="'Liberation Sans', 'DejaVu Sans', sans-serif" fill="#000" stroke="#000" stroke-width="0.3">R<tspan x="1712.63" y="24.04" font-size="16">1</tspan></text>
<text x="1729.62" y="73.96" font-size="20" font-family="'Liberation Sans', 'DejaVu Sans', sans-serif" fill="#000" stroke="#000" stroke-width="0.3">R<tspan x="1745.91" y="82.28" font-size="16">2</tspan></text>
<text x="1570.54" y="105.39" font-size="20" font-family="'Liberation Sans', 'DejaVu Sans', sans-serif" text-anchor="start" fill="#000" stroke="#000" stroke-width="0.3" textLength="76.75" lengthAdjust="spacingAndGlyphs">C1-C10</text>
<text x="1766.81" y="56.39" font-size="22" font-family="'Liberation Sans', 'DejaVu Sans', sans-serif" text-anchor="start" fill="#000" stroke="#000" stroke-width="0.3" textLength="119.28" lengthAdjust="spacingAndGlyphs">R1: C0-C10</text>
<text x="1766.81" y="83.57" font-size="22" font-family="'Liberation Sans', 'DejaVu Sans', sans-serif" text-anchor="start" fill="#000" stroke="#000" stroke-width="0.3" textLength="104.49" lengthAdjust="spacingAndGlyphs">R2: C0-R1</text>
<path d="M109.41 1066.73 A3.14 3.14 0 0 1 112.19 1061.49 A3.14 3.14 0 0 0 114.96 1056.26 A3.14 3.14 0 0 1 117.73 1051.02 A3.14 3.14 0 0 0 120.51 1045.78 A3.14 3.14 0 0 1 123.28 1040.54 A3.14 3.14 0 0 0 126.06 1035.3 A3.14 3.14 0 0 1 128.83 1030.06 A3.14 3.14 0 0 0 131.6 1024.82 A3.14 3.14 0 0 1 134.38 1019.58" fill="none" stroke="#000" stroke-width="1.65" stroke-linecap="round" stroke-linejoin="round"/>
<path d="M120.51 1044.18 L152.87 1062.11 L184.67 1044.18" fill="none" stroke="#000" stroke-width="1.65" stroke-linecap="round" stroke-linejoin="round"/>
<path d="M139 1038.44 Q130.86 1057.67 139 1076.9" fill="none" stroke="#000" stroke-width="1.6" stroke-linecap="round"/>
<path d="M163.78 1038.44 Q171.91 1057.67 163.78 1076.9" fill="none" stroke="#000" stroke-width="1.6" stroke-linecap="round"/>
<path d="M182.08 1016.81 L182.08 1044.18" fill="none" stroke="#000" stroke-width="1.65" stroke-linecap="round" stroke-linejoin="round"/>
<path d="M186.7 1016.81 L186.7 1044.18" fill="none" stroke="#000" stroke-width="1.65" stroke-linecap="round" stroke-linejoin="round"/>
<text x="185.22" y="1014.73" font-size="20" font-family="'Liberation Sans', 'DejaVu Sans', sans-serif" text-anchor="middle" fill="#000" stroke="#000" stroke-width="0.3">O</text>
<text x="216.84" y="1069.27" font-size="20" font-family="'Liberation Sans', 'DejaVu Sans', sans-serif" text-anchor="middle" fill="#000" stroke="#000" stroke-width="0.3">O</text>
<path d="M184.67 1044.18 L206.86 1056.19" fill="none" stroke="#000" stroke-width="1.65" stroke-linecap="round" stroke-linejoin="round"/>
<path d="M225.9 1056.19 L248.09 1043.62" fill="none" stroke="#000" stroke-width="1.65" stroke-linecap="round" stroke-linejoin="round"/>
<path d="M248.09 1043.62 L248.09 1016.81" fill="none" stroke="#000" stroke-width="1.65" stroke-linecap="round" stroke-linejoin="round"/>
<path d="M248.09 1043.62 L270.83 1056.56" fill="none" stroke="#000" stroke-width="1.65" stroke-linecap="round" stroke-linejoin="round"/>
<text x="241.34" y="1013.67" font-size="20" font-family="'Liberation Sans', 'DejaVu Sans', sans-serif" fill="#000" stroke="#000" stroke-width="0.3">R<tspan x="256.89" y="1021.8" font-size="16">1</tspan></text>
<text x="272.78" y="1069.14" font-size="20" font-family="'Liberation Sans', 'DejaVu Sans', sans-serif" fill="#000" stroke="#000" stroke-width="0.3">R<tspan x="288.69" y="1076.9" font-size="16">2</tspan></text>
<text x="122.94" y="1098.17" font-size="20" font-family="'Liberation Sans', 'DejaVu Sans', sans-serif" text-anchor="start" fill="#000" stroke="#000" stroke-width="0.3" textLength="72.69" lengthAdjust="spacingAndGlyphs">C1-C10</text>
<text x="306.82" y="1045.47" font-size="22" font-family="'Liberation Sans', 'DejaVu Sans', sans-serif" text-anchor="start" fill="#000" stroke="#000" stroke-width="0.3" textLength="118.73" lengthAdjust="spacingAndGlyphs">R1: C0-C10</text>
<text x="306.82" y="1072.84" font-size="22" font-family="'Liberation Sans', 'DejaVu Sans', sans-serif" text-anchor="start" fill="#000" stroke="#000" stroke-width="0.3" textLength="104.49" lengthAdjust="spacingAndGlyphs">R2: C0-R1</text>
<path d="M598.31 1062.11 A2.86 2.86 0 0 1 600.74 1057.28 A2.86 2.86 0 0 0 603.16 1052.46 A2.86 2.86 0 0 1 605.59 1047.63 A2.86 2.86 0 0 0 608.01 1042.8 A2.86 2.86 0 0 1 610.43 1037.97 A2.86 2.86 0 0 0 612.86 1033.14 A2.86 2.86 0 0 1 615.28 1028.32 A2.86 2.86 0 0 0 617.71 1023.49 A2.86 2.86 0 0 1 620.13 1018.66" fill="none" stroke="#000" stroke-width="1.65" stroke-linecap="round" stroke-linejoin="round"/>
<path d="M609.04 1042.33 L638.25 1058.04 L666.36 1041.4" fill="none" stroke="#000" stroke-width="1.65" stroke-linecap="round" stroke-linejoin="round"/>
<path d="M625.49 1036.59 Q617.36 1053.51 625.49 1070.43" fill="none" stroke="#000" stroke-width="1.6" stroke-linecap="round"/>
<path d="M647.13 1036.59 Q655.26 1053.51 647.13 1070.43" fill="none" stroke="#000" stroke-width="1.6" stroke-linecap="round"/>
<path d="M664.14 1015.89 L664.14 1041.4" fill="none" stroke="#000" stroke-width="1.65" stroke-linecap="round" stroke-linejoin="round"/>
<path d="M668.57 1015.89 L668.57 1041.4" fill="none" stroke="#000" stroke-width="1.65" stroke-linecap="round" stroke-linejoin="round"/>
<text x="666.91" y="1014.73" font-size="20" font-family="'Liberation Sans', 'DejaVu Sans', sans-serif" text-anchor="middle" fill="#000" stroke="#000" stroke-width="0.3">O</text>
<text x="695.94" y="1064.65" font-size="20" font-family="'Liberation Sans', 'DejaVu Sans', sans-serif" text-anchor="middle" fill="#000" stroke="#000" stroke-width="0.3">O</text>
<path d="M666.36 1041.4 L686.33 1052.87" fill="none" stroke="#000" stroke-width="1.65" stroke-linecap="round" stroke-linejoin="round"/>
<path d="M704.26 1052.5 L724.6 1040.29 L753.26 1056.93 L773.97 1045.1" fill="none" stroke="#000" stroke-width="1.65" stroke-linecap="round" stroke-linejoin="round"/>
<path d="M753.26 1056.93 L753.26 1081.53" fill="none" stroke="#000" stroke-width="1.65" stroke-linecap="round" stroke-linejoin="round"/>
<text x="776.1" y="1046.95" font-size="20" font-family="'Liberation Sans', 'DejaVu Sans', sans-serif" fill="#000" stroke="#000" stroke-width="0.3">R<tspan x="791.09" y="1054.35" font-size="16">1</tspan></text>
<text x="747.07" y="1096.87" font-size="20" font-family="'Liberation Sans', 'DejaVu Sans', sans-serif" fill="#000" stroke="#000" stroke-width="0.3">R<tspan x="760.95" y="1103.71" font-size="16">2</tspan></text>
<text x="610.91" y="1090.22" font-size="20" font-family="'Liberation Sans', 'DejaVu Sans', sans-serif" text-anchor="start" fill="#000" stroke="#000" stroke-width="0.3" textLength="66.21" lengthAdjust="spacingAndGlyphs">C1-C10</text>
<text x="804.04" y="1047.87" font-size="22" font-family="'Liberation Sans', 'DejaVu Sans', sans-serif" text-anchor="start" fill="#000" stroke="#000" stroke-width="0.3" textLength="118.91" lengthAdjust="spacingAndGlyphs">R1: C1-C10</text>
<text x="804.04" y="1082.45" font-size="22" font-family="'Liberation Sans', 'DejaVu Sans', sans-serif" text-anchor="start" fill="#000" stroke="#000" stroke-width="0.3" textLength="104.12" lengthAdjust="spacingAndGlyphs">R2: C1-R1</text>
<path d="M109.41 1540.81 A3.15 3.15 0 0 1 112.15 1535.53 A3.15 3.15 0 0 0 114.88 1530.25 A3.15 3.15 0 0 1 117.61 1524.97 A3.15 3.15 0 0 0 120.34 1519.69 A3.15 3.15 0 0 1 123.08 1514.41 A3.15 3.15 0 0 0 125.81 1509.13 A3.15 3.15 0 0 1 128.54 1503.85 A3.15 3.15 0 0 0 131.27 1498.57 A3.15 3.15 0 0 1 134.01 1493.29" fill="none" stroke="#000" stroke-width="1.65" stroke-linecap="round" stroke-linejoin="round"/>
<path d="M120.51 1517.7 L152.87 1535.26 L175.42 1522.69" fill="none" stroke="#000" stroke-width="1.65" stroke-linecap="round" stroke-linejoin="round"/>
<path d="M139 1512.15 Q130.86 1531.29 139 1550.42" fill="none" stroke="#000" stroke-width="1.6" stroke-linecap="round"/>
<path d="M163.78 1512.15 Q171.91 1531.29 163.78 1550.42" fill="none" stroke="#000" stroke-width="1.6" stroke-linecap="round"/>
<path d="M213.7 1535.26 L213.7 1562.07" fill="none" stroke="#000" stroke-width="1.65" stroke-linecap="round" stroke-linejoin="round"/>
<path d="M218.51 1535.26 L218.51 1562.07" fill="none" stroke="#000" stroke-width="1.65" stroke-linecap="round" stroke-linejoin="round"/>
<text x="184.67" y="1524.49" font-size="20" font-family="'Liberation Sans', 'DejaVu Sans', sans-serif" text-anchor="middle" fill="#000" stroke="#000" stroke-width="0.3">O</text>
<text x="216.29" y="1578.85" font-size="20" font-family="'Liberation Sans', 'DejaVu Sans', sans-serif" text-anchor="middle" fill="#000" stroke="#000" stroke-width="0.3">O</text>
<path d="M193.91 1522.69 L216.29 1534.89 L247.16 1517.33 L269.72 1530.08" fill="none" stroke="#000" stroke-width="1.65" stroke-linecap="round" stroke-linejoin="round"/>
<path d="M247.16 1517.33 L247.16 1490.89" fill="none" stroke="#000" stroke-width="1.65" stroke-linecap="round" stroke-linejoin="round"/>
<text x="240.42" y="1487.74" font-size="20" font-family="'Liberation Sans', 'DejaVu Sans', sans-serif" fill="#000" stroke="#000" stroke-width="0.3">R<tspan x="256.33" y="1495.51" font-size="16">1</tspan></text>
<text x="271.85" y="1542.29" font-size="20" font-family="'Liberation Sans', 'DejaVu Sans', sans-serif" fill="#000" stroke="#000" stroke-width="0.3">R<tspan x="287.58" y="1550.05" font-size="16">2</tspan></text>
<text x="122.94" y="1571.69" font-size="20" font-family="'Liberation Sans', 'DejaVu Sans', sans-serif" text-anchor="start" fill="#000" stroke="#000" stroke-width="0.3" textLength="72.69" lengthAdjust="spacingAndGlyphs">C1-C10</text>
<text x="306.82" y="1533.41" font-size="22" font-family="'Liberation Sans', 'DejaVu Sans', sans-serif" text-anchor="start" fill="#000" stroke="#000" stroke-width="0.3" textLength="118.73" lengthAdjust="spacingAndGlyphs">R1: C0-C10</text>
<text x="306.82" y="1560.78" font-size="22" font-family="'Liberation Sans', 'DejaVu Sans', sans-serif" text-anchor="start" fill="#000" stroke="#000" stroke-width="0.3" textLength="104.49" lengthAdjust="spacingAndGlyphs">R2: C0-R1</text>
<path d="M1061.46 1065.43 A3.25 3.25 0 0 1 1064.3 1059.99 A3.25 3.25 0 0 0 1067.13 1054.54 A3.25 3.25 0 0 1 1069.97 1049.1 A3.25 3.25 0 0 0 1072.8 1043.65 A3.25 3.25 0 0 1 1075.64 1038.21 A3.25 3.25 0 0 0 1078.47 1032.77 A3.25 3.25 0 0 1 1081.31 1027.32 A3.25 3.25 0 0 0 1084.14 1021.88 A3.25 3.25 0 0 1 1086.98 1016.43" fill="none" stroke="#000" stroke-width="1.65" stroke-linecap="round" stroke-linejoin="round"/>
<path d="M1073.67 1042.32 L1106.39 1060.25 L1138.75 1041.95" fill="none" stroke="#000" stroke-width="1.65" stroke-linecap="round" stroke-linejoin="round"/>
<path d="M1091.97 1036.77 Q1083.84 1056.19 1091.97 1075.6" fill="none" stroke="#000" stroke-width="1.6" stroke-linecap="round"/>
<path d="M1117.3 1036.77 Q1125.44 1056.19 1117.3 1075.6" fill="none" stroke="#000" stroke-width="1.6" stroke-linecap="round"/>
<path d="M1136.35 1013.66 L1136.35 1041.95" fill="none" stroke="#000" stroke-width="1.65" stroke-linecap="round" stroke-linejoin="round"/>
<path d="M1141.16 1013.66 L1141.16 1041.95" fill="none" stroke="#000" stroke-width="1.65" stroke-linecap="round" stroke-linejoin="round"/>
<text x="1139.31" y="1010.65" font-size="20" font-family="'Liberation Sans', 'DejaVu Sans', sans-serif" text-anchor="middle" fill="#000" stroke="#000" stroke-width="0.3">O</text>
<text x="1172.03" y="1067.97" font-size="20" font-family="'Liberation Sans', 'DejaVu Sans', sans-serif" text-anchor="middle" fill="#000" stroke="#000" stroke-width="0.3">O</text>
<path d="M1138.75 1041.95 L1161.86 1054.89" fill="none" stroke="#000" stroke-width="1.65" stroke-linecap="round" stroke-linejoin="round"/>
<path d="M1181.28 1054.89 L1204.39 1041.39" fill="none" stroke="#000" stroke-width="1.65" stroke-linecap="round" stroke-linejoin="round"/>
<path d="M1204.39 1041.39 L1204.39 1013.66" fill="none" stroke="#000" stroke-width="1.65" stroke-linecap="round" stroke-linejoin="round"/>
<path d="M1204.39 1041.39 L1227.87 1054.89" fill="none" stroke="#000" stroke-width="1.65" stroke-linecap="round" stroke-linejoin="round"/>
<text x="1197.64" y="1009.96" font-size="20" font-family="'Liberation Sans', 'DejaVu Sans', sans-serif" fill="#000" stroke="#000" stroke-width="0.3">R<tspan x="1213.93" y="1018.65" font-size="16">1</tspan></text>
<text x="1230.93" y="1067.28" font-size="20" font-family="'Liberation Sans', 'DejaVu Sans', sans-serif" fill="#000" stroke="#000" stroke-width="0.3">R<tspan x="1246.84" y="1075.6" font-size="16">2</tspan></text>
<text x="1074.99" y="1097.79" font-size="20" font-family="'Liberation Sans', 'DejaVu Sans', sans-serif" text-anchor="start" fill="#000" stroke="#000" stroke-width="0.3" textLength="75.46" lengthAdjust="spacingAndGlyphs">C1-C10</text>
<text x="1267.19" y="1039.55" font-size="22" font-family="'Liberation Sans', 'DejaVu Sans', sans-serif" text-anchor="start" fill="#000" stroke="#000" stroke-width="0.3" textLength="118.91" lengthAdjust="spacingAndGlyphs">R1: C0-C10</text>
<text x="1267.19" y="1066.91" font-size="22" font-family="'Liberation Sans', 'DejaVu Sans', sans-serif" text-anchor="start" fill="#000" stroke="#000" stroke-width="0.3" textLength="104.12" lengthAdjust="spacingAndGlyphs">R2: C0-R1</text>
<path d="M1552.02 1055.26 A3.19 3.19 0 0 1 1554.79 1049.92 A3.19 3.19 0 0 0 1557.57 1044.58 A3.19 3.19 0 0 1 1560.34 1039.24 A3.19 3.19 0 0 0 1563.11 1033.9 A3.19 3.19 0 0 1 1565.89 1028.55 A3.19 3.19 0 0 0 1568.66 1023.21 A3.19 3.19 0 0 1 1571.43 1017.87 A3.19 3.19 0 0 0 1574.21 1012.53 A3.19 3.19 0 0 1 1576.98 1007.19" fill="none" stroke="#000" stroke-width="1.65" stroke-linecap="round" stroke-linejoin="round"/>
<path d="M1563.67 1033.07 L1596.02 1050.08 L1627.27 1032.7" fill="none" stroke="#000" stroke-width="1.65" stroke-linecap="round" stroke-linejoin="round"/>
<path d="M1581.97 1027.16 Q1573.84 1046.29 1581.97 1065.43" fill="none" stroke="#000" stroke-width="1.6" stroke-linecap="round"/>
<path d="M1607.3 1027.16 Q1615.44 1046.29 1607.3 1065.43" fill="none" stroke="#000" stroke-width="1.6" stroke-linecap="round"/>
<path d="M1625.05 1004.41 L1625.05 1032.7" fill="none" stroke="#000" stroke-width="1.65" stroke-linecap="round" stroke-linejoin="round"/>
<path d="M1630.05 1004.41 L1630.05 1032.7" fill="none" stroke="#000" stroke-width="1.65" stroke-linecap="round" stroke-linejoin="round"/>
<text x="1628.38" y="1001.77" font-size="20" font-family="'Liberation Sans', 'DejaVu Sans', sans-serif" text-anchor="middle" fill="#000" stroke="#000" stroke-width="0.3">O</text>
<text x="1660.55" y="1057.8" font-size="20" font-family="'Liberation Sans', 'DejaVu Sans', sans-serif" text-anchor="middle" fill="#000" stroke="#000" stroke-width="0.3">O</text>
<path d="M1627.27 1032.7 L1650.02 1045.09" fill="none" stroke="#000" stroke-width="1.65" stroke-linecap="round" stroke-linejoin="round"/>
<path d="M1669.43 1045.09 L1692.54 1031.59 L1724.9 1050.08 L1747.46 1037.33" fill="none" stroke="#000" stroke-width="1.65" stroke-linecap="round" stroke-linejoin="round"/>
<path d="M1724.9 1050.08 L1724.9 1077.08" fill="none" stroke="#000" stroke-width="1.65" stroke-linecap="round" stroke-linejoin="round"/>
<text x="1749.59" y="1038.62" font-size="20" font-family="'Liberation Sans', 'DejaVu Sans', sans-serif" fill="#000" stroke="#000" stroke-width="0.3">R<tspan x="1765.87" y="1046.39" font-size="16">1</tspan></text>
<text x="1718.15" y="1094.09" font-size="20" font-family="'Liberation Sans', 'DejaVu Sans', sans-serif" fill="#000" stroke="#000" stroke-width="0.3">R<tspan x="1733.88" y="1101.86" font-size="16">2</tspan></text>
<text x="1565.91" y="1086.69" font-size="20" font-family="'Liberation Sans', 'DejaVu Sans', sans-serif" text-anchor="start" fill="#000" stroke="#000" stroke-width="0.3" textLength="73.61" lengthAdjust="spacingAndGlyphs">C1-C10</text>
<text x="1782.15" y="1043.8" font-size="22" font-family="'Liberation Sans', 'DejaVu Sans', sans-serif" text-anchor="start" fill="#000" stroke="#000" stroke-width="0.3" textLength="118.91" lengthAdjust="spacingAndGlyphs">R1: C1-C10</text>
<text x="1782.15" y="1071.53" font-size="22" font-family="'Liberation Sans', 'DejaVu Sans', sans-serif" text-anchor="start" fill="#000" stroke="#000" stroke-width="0.3" textLength="104.12" lengthAdjust="spacingAndGlyphs">R2: C1-R1</text>
<path d="M1076.64 1543.58 A3.31 3.31 0 0 1 1079.52 1538.04 A3.31 3.31 0 0 0 1082.39 1532.49 A3.31 3.31 0 0 1 1085.27 1526.94 A3.31 3.31 0 0 0 1088.15 1521.39 A3.31 3.31 0 0 1 1091.02 1515.85 A3.31 3.31 0 0 0 1093.9 1510.3 A3.31 3.31 0 0 1 1096.77 1504.75 A3.31 3.31 0 0 0 1099.65 1499.21 A3.31 3.31 0 0 1 1102.53 1493.66" fill="none" stroke="#000" stroke-width="1.65" stroke-linecap="round" stroke-linejoin="round"/>
<path d="M1089.21 1520.1 L1121.02 1538.41 L1144.13 1525.09" fill="none" stroke="#000" stroke-width="1.65" stroke-linecap="round" stroke-linejoin="round"/>
<path d="M1106.96 1514.55 Q1098.83 1533.97 1106.96 1553.38" fill="none" stroke="#000" stroke-width="1.6" stroke-linecap="round"/>
<path d="M1132.3 1514.55 Q1140.43 1533.97 1132.3 1553.38" fill="none" stroke="#000" stroke-width="1.6" stroke-linecap="round"/>
<path d="M1184.25 1537.48 L1184.25 1566.33" fill="none" stroke="#000" stroke-width="1.65" stroke-linecap="round" stroke-linejoin="round"/>
<path d="M1189.06 1537.48 L1189.06 1566.33" fill="none" stroke="#000" stroke-width="1.65" stroke-linecap="round" stroke-linejoin="round"/>
<text x="1154.3" y="1526.15" font-size="20" font-family="'Liberation Sans', 'DejaVu Sans', sans-serif" text-anchor="middle" fill="#000" stroke="#000" stroke-width="0.3">O</text>
<text x="1187.58" y="1583.1" font-size="20" font-family="'Liberation Sans', 'DejaVu Sans', sans-serif" text-anchor="middle" fill="#000" stroke="#000" stroke-width="0.3">O</text>
<path d="M1163.54 1524.54 L1186.66 1537.11 L1219.94 1518.99 L1243.05 1532.49" fill="none" stroke="#000" stroke-width="1.65" stroke-linecap="round" stroke-linejoin="round"/>
<path d="M1219.94 1518.99 L1219.94 1490.89" fill="none" stroke="#000" stroke-width="1.65" stroke-linecap="round" stroke-linejoin="round"/>
<text x="1213.19" y="1488.11" font-size="20" font-family="'Liberation Sans', 'DejaVu Sans', sans-serif" fill="#000" stroke="#000" stroke-width="0.3">R<tspan x="1229.48" y="1496.06" font-size="16">1</tspan></text>
<text x="1245.92" y="1545.43" font-size="20" font-family="'Liberation Sans', 'DejaVu Sans', sans-serif" fill="#000" stroke="#000" stroke-width="0.3">R<tspan x="1262.2" y="1553.38" font-size="16">2</tspan></text>
<text x="1090.16" y="1575.57" font-size="20" font-family="'Liberation Sans', 'DejaVu Sans', sans-serif" text-anchor="start" fill="#000" stroke="#000" stroke-width="0.3" textLength="75.46" lengthAdjust="spacingAndGlyphs">C1-C10</text>
<text x="1282.37" y="1537.11" font-size="22" font-family="'Liberation Sans', 'DejaVu Sans', sans-serif" text-anchor="start" fill="#000" stroke="#000" stroke-width="0.3" textLength="119.28" lengthAdjust="spacingAndGlyphs">R1: C0-C10</text>
<text x="1282.37" y="1564.48" font-size="22" font-family="'Liberation Sans', 'DejaVu Sans', sans-serif" text-anchor="start" fill="#000" stroke="#000" stroke-width="0.3" textLength="103.93" lengthAdjust="spacingAndGlyphs">R2: C0-R1</text>
<path d="M700.68 539.34 A3.36 3.36 0 0 1 703.55 533.69 A3.36 3.36 0 0 0 706.43 528.04 A3.36 3.36 0 0 1 709.31 522.39 A3.36 3.36 0 0 0 712.18 516.74 A3.36 3.36 0 0 1 715.06 511.09 A3.36 3.36 0 0 0 717.94 505.44 A3.36 3.36 0 0 1 720.81 499.79 A3.36 3.36 0 0 0 723.69 494.14 A3.36 3.36 0 0 1 726.56 488.49" fill="none" stroke="#000" stroke-width="1.65" stroke-linecap="round" stroke-linejoin="round"/>
<path d="M713.62 514.38 L745.61 532.31 L778.89 513.08" fill="none" stroke="#000" stroke-width="1.65" stroke-linecap="round" stroke-linejoin="round"/>
<path d="M778.89 513.08 L797.75 480.17 L816.8 513.08 L778.89 513.08" fill="none" stroke="#000" stroke-width="1.65" stroke-linecap="round" stroke-linejoin="round"/>
<path d="M816.8 513.08 L850.45 532.5" fill="none" stroke="#000" stroke-width="1.65" stroke-linecap="round" stroke-linejoin="round"/>
<path d="M734.88 512.16 Q726.75 530.83 734.88 549.51" fill="none" stroke="#000" stroke-width="1.6" stroke-linecap="round"/>
<path d="M757.07 512.16 Q765.21 530.83 757.07 549.51" fill="none" stroke="#000" stroke-width="1.6" stroke-linecap="round"/>
<path d="M841.02 511.05 Q832.88 529.82 841.02 548.58" fill="none" stroke="#000" stroke-width="1.6" stroke-linecap="round"/>
<path d="M862.84 511.05 Q870.97 529.82 862.84 548.58" fill="none" stroke="#000" stroke-width="1.6" stroke-linecap="round"/>
<text x="710.5" y="577.24" font-size="20" font-family="'Liberation Sans', 'DejaVu Sans', sans-serif" text-anchor="start" fill="#000" stroke="#000" stroke-width="0.3" textLength="76.75" lengthAdjust="spacingAndGlyphs">C1-C10</text>
<text x="815.9" y="576.87" font-size="20" font-family="'Liberation Sans', 'DejaVu Sans', sans-serif" text-anchor="start" fill="#000" stroke="#000" stroke-width="0.3" textLength="76.2" lengthAdjust="spacingAndGlyphs">C0-C10</text>
<path d="M1134.41 551.9 A2.64 2.64 0 0 1 1136.73 547.49 A2.64 2.64 0 0 0 1139.05 543.07 A2.64 2.64 0 0 1 1141.37 538.65 A2.64 2.64 0 0 0 1143.69 534.23 A2.64 2.64 0 0 1 1146.01 529.82 A2.64 2.64 0 0 0 1148.34 525.4 A2.64 2.64 0 0 1 1150.66 520.98 A2.64 2.64 0 0 0 1152.98 516.57 A2.64 2.64 0 0 1 1155.3 512.15" fill="none" stroke="#000" stroke-width="1.4" stroke-linecap="round" stroke-linejoin="round"/>
<path d="M1145.13 533.78 L1171.02 547.28 L1197.27 532.86" fill="none" stroke="#000" stroke-width="1.4" stroke-linecap="round" stroke-linejoin="round"/>
<path d="M1161.96 530.64 Q1155.3 545.71 1161.96 560.78" fill="none" stroke="#000" stroke-width="1.4" stroke-linecap="round"/>
<path d="M1179.71 530.64 Q1186.36 545.71 1179.71 560.78" fill="none" stroke="#000" stroke-width="1.4" stroke-linecap="round"/>
<path d="M1195.42 509.38 L1195.42 532.86" fill="none" stroke="#000" stroke-width="1.4" stroke-linecap="round" stroke-linejoin="round"/>
<path d="M1199.68 509.38 L1199.68 532.86" fill="none" stroke="#000" stroke-width="1.4" stroke-linecap="round" stroke-linejoin="round"/>
<text x="1197.83" y="508.23" font-size="18.5" font-family="'Liberation Sans', 'DejaVu Sans', sans-serif" text-anchor="middle" fill="#000" stroke="#000" stroke-width="0.3">O</text>
<text x="1224.64" y="554.27" font-size="18.5" font-family="'Liberation Sans', 'DejaVu Sans', sans-serif" text-anchor="middle" fill="#000" stroke="#000" stroke-width="0.3">O</text>
<path d="M1197.27 532.86 L1216.32 543.58" fill="none" stroke="#000" stroke-width="1.4" stroke-linecap="round" stroke-linejoin="round"/>
<path d="M1232.03 543.58 L1250.89 532.86" fill="none" stroke="#000" stroke-width="1.4" stroke-linecap="round" stroke-linejoin="round"/>
<path d="M1250.89 532.86 L1250.89 501.61 L1277.33 486.26 L1303.78 501.61 L1303.78 532.86 L1277.33 547.84 L1250.89 532.86" fill="none" stroke="#000" stroke-width="1.4" stroke-linecap="round" stroke-linejoin="round"/>
<path d="M1303.78 501.61 L1330.59 486.26" fill="none" stroke="#000" stroke-width="1.4" stroke-linecap="round" stroke-linejoin="round"/>
<path d="M1322.45 472.4 Q1315.79 487.37 1322.45 502.35" fill="none" stroke="#000" stroke-width="1.4" stroke-linecap="round"/>
<path d="M1340.39 472.4 Q1347.04 487.37 1340.39 502.35" fill="none" stroke="#000" stroke-width="1.4" stroke-linecap="round"/>
<text x="1315.31" y="524.17" font-size="19" font-family="'Liberation Sans', 'DejaVu Sans', sans-serif" text-anchor="start" fill="#000" stroke="#000" stroke-width="0.3" textLength="71.21" lengthAdjust="spacingAndGlyphs">C0-C10</text>
<text x="1146.12" y="583.71" font-size="19" font-family="'Liberation Sans', 'DejaVu Sans', sans-serif" text-anchor="start" fill="#000" stroke="#000" stroke-width="0.3" textLength="71.39" lengthAdjust="spacingAndGlyphs">C1-C10</text>
<text x="1740" y="579.3" font-size="27.3" font-family="'Liberation Sans', 'DejaVu Sans', sans-serif" text-anchor="middle" stroke="#000" stroke-width="0.3">All types</text>
<text x="748.8" y="1566.3" font-size="27.3" font-family="'Liberation Sans', 'DejaVu Sans', sans-serif" text-anchor="middle" stroke="#000" stroke-width="0.3">All types</text>
<text x="1733.2" y="1568.2" font-size="27.3" font-family="'Liberation Sans', 'DejaVu Sans', sans-serif" text-anchor="middle" stroke="#000" stroke-width="0.3">All types</text>
<text x="12.5" y="55.5" font-size="53" font-weight="bold" font-family="'Liberation Sans', 'DejaVu Sans', sans-serif">a</text>
<text x="576.5" y="44.3" font-size="53" font-weight="bold" font-family="'Liberation Sans', 'DejaVu Sans', sans-serif">b</text>
<text x="15.5" y="998.7" font-size="53" font-weight="bold" font-family="'Liberation Sans', 'DejaVu Sans', sans-serif">c</text>
<text x="999" y="1001.2" font-size="53" font-weight="bold" font-family="'Liberation Sans', 'DejaVu Sans', sans-serif">d</text>
<text x="17.58" y="192.6" font-size="33.8" font-family="'Liberation Sans', 'DejaVu Sans', sans-serif" text-anchor="start" fill="#000" stroke="#000" stroke-width="0.3" textLength="404" lengthAdjust="spacingAndGlyphs">Structure of ionizable lipids</text>
<text x="26.18" y="499.5" font-size="33.8" font-family="'Liberation Sans', 'DejaVu Sans', sans-serif" text-anchor="start" fill="#000" stroke="#000" stroke-width="0.3" textLength="143.9" lengthAdjust="spacingAndGlyphs">Tail types</text>
<text x="113.34" y="338.7" font-size="33.4" font-family="'Liberation Sans', 'DejaVu Sans', sans-serif" text-anchor="start" fill="#000" stroke="#000" stroke-width="0.3" textLength="45.16" lengthAdjust="spacingAndGlyphs">HO</text>
<path d="M161.47 318.27 L196.39 298.19 L247.04 327.35 L283.36 306.57" fill="none" stroke="#000" stroke-width="2.1" stroke-linecap="round" stroke-linejoin="round"/>
<path d="M186.62 281.25 Q174.04 310.06 186.62 338.88" fill="none" stroke="#000" stroke-width="2" stroke-linecap="round"/>
<path d="M260.83 281.25 Q273.41 310.06 260.83 338.88" fill="none" stroke="#000" stroke-width="2" stroke-linecap="round"/>
<text x="287.62" y="309.01" font-size="33.4" font-family="'Liberation Sans', 'DejaVu Sans', sans-serif" text-anchor="start" fill="#000" stroke="#000" stroke-width="0.3" textLength="19.69" lengthAdjust="spacingAndGlyphs">N</text>
<path d="M297.5 255.05 L297.5 282.99" fill="none" stroke="#000" stroke-width="2.1" stroke-linecap="round" stroke-linejoin="round"/>
<path d="M312.52 306.57 L335.75 320.02" fill="none" stroke="#000" stroke-width="2.1" stroke-linecap="round" stroke-linejoin="round"/>
<text x="287.97" y="251.04" font-size="33.4" font-family="'Liberation Sans', 'DejaVu Sans', sans-serif" text-anchor="start" fill="#000" stroke="#000" stroke-width="0.3" textLength="66.46" lengthAdjust="spacingAndGlyphs">Tail 1</text>
<text x="338.61" y="338.7" font-size="33.4" font-family="'Liberation Sans', 'DejaVu Sans', sans-serif" text-anchor="start" fill="#000" stroke="#000" stroke-width="0.3" textLength="70.48" lengthAdjust="spacingAndGlyphs">Tail 2</text>
<text x="183.19" y="380.26" font-size="33.4" font-family="'Liberation Sans', 'DejaVu Sans', sans-serif" text-anchor="start" fill="#000" stroke="#000" stroke-width="0.3" textLength="95.45" lengthAdjust="spacingAndGlyphs">C2-C4</text>
<path d="M232.58 604.22 L234.55 603.94 L236.52 603.7 L238.51 603.5 L240.5 603.36 L242.5 603.26 L244.49 603.21 L246.49 603.2 L248.49 603.25 L250.49 603.34 L252.48 603.47 L254.47 603.65 L256.45 603.88 L258.41 604.16 L260.37 604.48 L262.31 604.85 L264.24 605.26 L266.15 605.72 L268.04 606.22 L269.91 606.77 L271.76 607.36 L273.59 608 L275.38 608.67 L277.16 609.39 L278.9 610.15" fill="none" stroke="#afabab" stroke-width="11" stroke-linejoin="round"/>
<path d="M304.84 631.79 L305.83 633.43 L306.74 635.1 L307.58 636.8 L308.34 638.51 L309.02 640.25 L309.61 642 L310.13 643.77 L310.57 645.55 L310.92 647.35 L311.19 649.15 L311.37 650.96 L311.48 652.77 L311.5 654.58 L311.43 656.39 L311.29 658.2 L311.06 660.01 L310.74 661.81 L310.35 663.59 L309.87 665.37 L309.31 667.13 L308.67 668.88 L307.95 670.6 L307.15 672.31 L306.27 673.99" fill="none" stroke="#afabab" stroke-width="11" stroke-linejoin="round"/>
<path d="M282.49 696.3 L280.79 697.16 L279.05 697.98 L277.29 698.75 L275.49 699.49 L273.66 700.18 L271.81 700.82 L269.93 701.42 L268.02 701.98 L266.1 702.49 L264.16 702.96 L262.2 703.37 L260.22 703.74 L258.23 704.07 L256.23 704.34 L254.22 704.57 L252.2 704.75 L250.17 704.88 L248.14 704.96 L246.11 705 L244.07 704.98 L242.04 704.92 L240.01 704.81 L237.99 704.65 L235.97 704.44" fill="none" stroke="#afabab" stroke-width="11" stroke-linejoin="round"/>
<path d="M204.29 693.66 L202.59 692.55 L200.93 691.4 L199.32 690.21 L197.77 688.98 L196.28 687.7 L194.84 686.39 L193.45 685.04 L192.13 683.66 L190.87 682.24 L189.67 680.79 L188.54 679.31 L187.47 677.8 L186.47 676.26 L185.53 674.7 L184.66 673.12 L183.87 671.51 L183.14 669.88 L182.49 668.24 L181.91 666.58 L181.4 664.9 L180.96 663.21 L180.6 661.51 L180.31 659.81 L180.1 658.09" fill="none" stroke="#afabab" stroke-width="11" stroke-linejoin="round"/>
<path d="M179.91 653.21 L179.99 651.49 L180.14 649.77 L180.37 648.05 L180.67 646.34 L181.05 644.64 L181.5 642.95 L182.02 641.28 L182.62 639.62 L183.29 637.97 L184.03 636.34 L184.85 634.74 L185.73 633.15 L186.68 631.59 L187.7 630.06 L188.79 628.55 L189.94 627.08 L191.15 625.63 L192.43 624.22 L193.77 622.84 L195.17 621.5 L196.63 620.19 L198.14 618.92 L199.71 617.7 L201.33 616.51" fill="none" stroke="#afabab" stroke-width="11" stroke-linejoin="round"/>
<text x="129.58" y="602.23" font-size="33.7" font-family="'Liberation Sans', 'DejaVu Sans', sans-serif" text-anchor="start" fill="#767171" stroke="#767171" stroke-width="0.3" textLength="92.89" lengthAdjust="spacingAndGlyphs">Linker</text>
<text x="344.43" y="601.75" font-size="33.7" font-family="'Liberation Sans', 'DejaVu Sans', sans-serif" text-anchor="start" fill="#4472c4" stroke="#4472c4" stroke-width="0.3" textLength="207.59" lengthAdjust="spacingAndGlyphs">Branch length</text>
<path d="M25.21 684.47 A3.84 3.84 0 0 1 29.05 690.62 A3.84 3.84 0 0 0 32.9 696.76 A3.84 3.84 0 0 1 36.74 702.91 A3.84 3.84 0 0 0 40.59 709.05 A3.84 3.84 0 0 1 44.43 715.2" fill="none" stroke="#000" stroke-width="1.5" stroke-linecap="round" stroke-linejoin="round"/>
<path d="M33.88 697.08 L68.54 677.38 L105.25 698.66 L142.12 677.38 L178.83 698.66 L215.55 677.86 L241.07 692.35" fill="none" stroke="#000" stroke-width="1.5" stroke-linecap="round" stroke-linejoin="round"/>
<path d="M213.03 646.34 L213.03 677.38" fill="none" stroke="#000" stroke-width="1.5" stroke-linecap="round" stroke-linejoin="round"/>
<path d="M218.38 646.34 L218.38 677.38" fill="none" stroke="#000" stroke-width="1.5" stroke-linecap="round" stroke-linejoin="round"/>
<text x="216.18" y="643.73" font-size="23.5" font-family="'Liberation Sans', 'DejaVu Sans', sans-serif" text-anchor="middle" fill="#000" stroke="#000" stroke-width="0.3">O</text>
<text x="252.89" y="707.07" font-size="23.5" font-family="'Liberation Sans', 'DejaVu Sans', sans-serif" text-anchor="middle" fill="#000" stroke="#000" stroke-width="0.3">O</text>
<path d="M263.45 692.04 L289.13 677.38" fill="none" stroke="#000" stroke-width="1.5" stroke-linecap="round" stroke-linejoin="round"/>
<path d="M288.91 635.63 L288.91 677.38 L325.93 698.66 L362.65 677.38 L399.52 698.66 L436.23 677.38 L472.94 698.66 L509.81 677.38 L546.84 698.66" fill="none" stroke="#000" stroke-width="1.5" stroke-linecap="round" stroke-linejoin="round"/>
<path d="M288.91 635.63 L325.93 614.04 L362.65 635.32 L399.52 614.04 L436.7 635.32" fill="none" stroke="#4a86d8" stroke-width="1.3" stroke-linecap="round" stroke-linejoin="round"/>
<path d="M209.6 716.8 L219.6 726.9 L215 726.9 L215 749.1 L204.2 749.1 L204.2 726.9 L199.6 726.9 Z" fill="#70ad47"/>
<text textLength="218.4" lengthAdjust="spacingAndGlyphs" x="141.08" y="792.09" font-size="33.7" font-family="'Liberation Sans', 'DejaVu Sans', sans-serif" text-anchor="start" fill="#70ad47" stroke="#70ad47" stroke-width="0.3">Linker position</text>
<path d="M62.7 823.5 L85.3 812.2 L85.3 820.6 L209.6 820.6 L209.6 826.4 L85.3 826.4 L85.3 834.8 Z" fill="#000"/>
<path d="M543.5 823.5 L521.3 812.0 L521.3 820.4 L399.5 820.4 L399.5 826.6 L521.3 826.6 L521.3 835.0 Z" fill="#000"/>
<text x="228.87" y="844.9" font-size="34" font-family="'Liberation Sans', 'DejaVu Sans', sans-serif" text-anchor="start" fill="#000" stroke="#000" stroke-width="0.3" textLength="156.1" lengthAdjust="spacingAndGlyphs">Tail length</text>
</svg>
</body></html>
